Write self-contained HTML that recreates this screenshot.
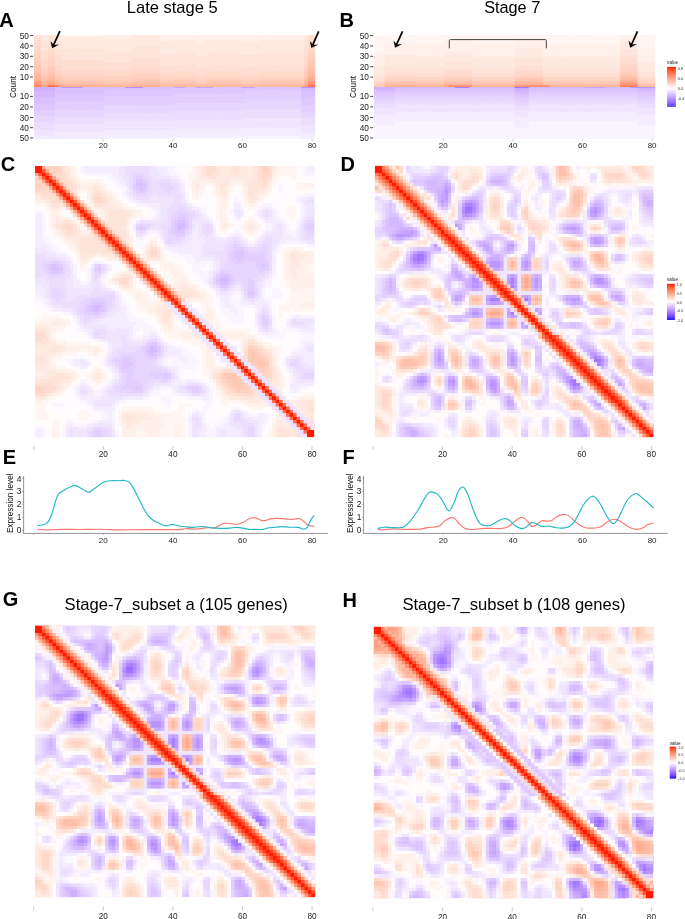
<!DOCTYPE html>
<html><head><meta charset="utf-8"><style>
html,body{margin:0;padding:0;background:#fff;width:685px;height:919px;overflow:hidden}
body{position:relative;font-family:"Liberation Sans",sans-serif}
svg{position:absolute;left:0;top:0}
canvas{display:block}
</style></head><body>
<svg width="685" height="919" style="position:absolute;left:0;top:0"><path fill="#ff8764" d="M35.0 166.0h14.3v13.9h-14.3zM49.0 179.6h14.3v13.9h-14.3zM62.9 193.1h14.3v13.9h-14.3zM76.9 206.7h14.3v13.9h-14.3zM90.8 220.2h14.3v13.9h-14.3zM104.8 233.8h14.3v13.9h-14.3zM118.8 247.3h14.3v13.9h-14.3zM132.7 260.9h14.3v13.9h-14.3zM146.7 274.4h14.3v13.9h-14.3zM160.6 287.9h14.3v13.9h-14.3zM541.9 328.5h14.2v13.9h-14.2zM625.5 409.9h14.2v13.9h-14.2zM639.4 423.4h14.2v13.9h-14.2zM203.0 788.4h14.3v13.9h-14.3zM287.0 869.9h14.3v13.9h-14.3zM301.0 883.4h14.3v13.9h-14.3zM443.6 694.6h14.3v13.9h-14.3zM457.6 708.2h14.3v13.9h-14.3zM625.3 871.1h14.3v13.9h-14.3zM639.3 884.7h14.3v13.9h-14.3zM307.9 81.9h7.3v5.5h-7.3z"/><path fill="#ffc4af" d="M49.0 166.0h14.3v13.9h-14.3zM35.0 179.6h14.3v13.9h-14.3zM174.6 301.5h14.3v13.9h-14.3zM188.6 315.1h14.3v13.9h-14.3zM202.5 328.6h14.3v13.9h-14.3zM216.5 342.1h14.3v13.9h-14.3zM230.4 355.7h14.3v13.9h-14.3zM244.4 369.2h14.3v13.9h-14.3zM258.4 382.8h14.3v13.9h-14.3zM272.3 396.4h14.3v13.9h-14.3zM286.3 409.9h14.3v13.9h-14.3zM416.7 192.9h14.2v13.9h-14.2zM569.8 192.9h14.2v13.9h-14.2zM402.7 355.6h14.2v13.9h-14.2zM231.0 652.6h14.3v13.9h-14.3zM63.0 815.5h14.3v13.9h-14.3zM401.7 640.3h14.3v13.9h-14.3zM387.7 653.9h14.3v13.9h-14.3zM639.3 844.0h14.3v13.9h-14.3zM597.4 884.7h14.3v13.9h-14.3zM307.9 61.2h7.3v5.5h-7.3zM34.2 66.3h7.3v5.5h-7.3zM307.9 66.3h7.3v5.5h-7.3zM48.2 71.5h7.3v5.5h-7.3zM41.2 76.7h7.3v5.5h-7.3zM55.3 76.7h7.3v5.5h-7.3zM300.9 76.7h7.3v5.5h-7.3zM104.4 81.9h7.3v5.5h-7.3zM111.4 81.9h7.3v5.5h-7.3zM118.4 81.9h7.3v5.5h-7.3zM125.4 81.9h7.3v5.5h-7.3zM160.5 81.9h7.3v5.5h-7.3zM167.5 81.9h7.3v5.5h-7.3zM174.6 81.9h7.3v5.5h-7.3zM181.6 81.9h7.3v5.5h-7.3zM188.6 81.9h7.3v5.5h-7.3zM195.6 81.9h7.3v5.5h-7.3zM202.6 81.9h7.3v5.5h-7.3zM209.6 81.9h7.3v5.5h-7.3zM216.7 81.9h7.3v5.5h-7.3zM223.7 81.9h7.3v5.5h-7.3zM230.7 81.9h7.3v5.5h-7.3zM237.7 81.9h7.3v5.5h-7.3zM244.7 81.9h7.3v5.5h-7.3zM251.7 81.9h7.3v5.5h-7.3zM258.8 81.9h7.3v5.5h-7.3zM265.8 81.9h7.3v5.5h-7.3zM272.8 81.9h7.3v5.5h-7.3zM279.8 81.9h7.3v5.5h-7.3zM286.8 81.9h7.3v5.5h-7.3zM293.8 81.9h7.3v5.5h-7.3zM514.6 76.7h7.3v5.5h-7.3zM521.6 76.7h7.3v5.5h-7.3zM528.6 76.7h7.3v5.5h-7.3zM535.7 76.7h7.3v5.5h-7.3zM633.9 76.7h7.3v5.5h-7.3zM381.2 81.9h7.3v5.5h-7.3zM416.3 81.9h7.3v5.5h-7.3zM423.3 81.9h7.3v5.5h-7.3zM430.4 81.9h7.3v5.5h-7.3zM437.4 81.9h7.3v5.5h-7.3zM472.5 81.9h7.3v5.5h-7.3zM479.5 81.9h7.3v5.5h-7.3zM486.5 81.9h7.3v5.5h-7.3zM493.5 81.9h7.3v5.5h-7.3zM500.6 81.9h7.3v5.5h-7.3zM507.6 81.9h7.3v5.5h-7.3zM549.7 81.9h7.3v5.5h-7.3zM556.7 81.9h7.3v5.5h-7.3zM563.7 81.9h7.3v5.5h-7.3zM570.8 81.9h7.3v5.5h-7.3zM577.8 81.9h7.3v5.5h-7.3zM584.8 81.9h7.3v5.5h-7.3zM591.8 81.9h7.3v5.5h-7.3zM598.8 81.9h7.3v5.5h-7.3zM605.9 81.9h7.3v5.5h-7.3zM612.9 81.9h7.3v5.5h-7.3zM641.0 81.9h7.3v5.5h-7.3zM648.0 81.9h7.3v5.5h-7.3z"/><path fill="#ffe8df" d="M62.9 166.0h14.3v13.9h-14.3zM202.5 166.0h14.3v13.9h-14.3zM216.5 166.0h14.3v13.9h-14.3zM230.4 166.0h14.3v13.9h-14.3zM244.4 166.0h14.3v13.9h-14.3zM90.8 179.6h14.3v13.9h-14.3zM216.5 179.6h14.3v13.9h-14.3zM244.4 179.6h14.3v13.9h-14.3zM258.4 179.6h14.3v13.9h-14.3zM35.0 193.1h14.3v13.9h-14.3zM104.8 193.1h14.3v13.9h-14.3zM104.8 206.7h14.3v13.9h-14.3zM118.8 206.7h14.3v13.9h-14.3zM49.0 220.2h14.3v13.9h-14.3zM118.8 220.2h14.3v13.9h-14.3zM62.9 233.8h14.3v13.9h-14.3zM76.9 233.8h14.3v13.9h-14.3zM76.9 247.3h14.3v13.9h-14.3zM90.8 247.3h14.3v13.9h-14.3zM146.7 247.3h14.3v13.9h-14.3zM286.3 247.3h14.3v13.9h-14.3zM286.3 260.9h14.3v13.9h-14.3zM118.8 274.4h14.3v13.9h-14.3zM188.6 287.9h14.3v13.9h-14.3zM160.6 315.1h14.3v13.9h-14.3zM35.0 328.6h14.3v13.9h-14.3zM35.0 342.1h14.3v13.9h-14.3zM49.0 342.1h14.3v13.9h-14.3zM258.4 342.1h14.3v13.9h-14.3zM35.0 355.7h14.3v13.9h-14.3zM35.0 369.2h14.3v13.9h-14.3zM49.0 369.2h14.3v13.9h-14.3zM258.4 369.2h14.3v13.9h-14.3zM49.0 382.8h14.3v13.9h-14.3zM216.5 382.8h14.3v13.9h-14.3zM244.4 382.8h14.3v13.9h-14.3zM300.2 396.4h14.3v13.9h-14.3zM118.8 409.9h14.3v13.9h-14.3zM132.7 409.9h14.3v13.9h-14.3zM272.3 423.4h14.3v13.9h-14.3zM458.4 165.8h14.2v13.9h-14.2zM597.6 165.8h14.2v13.9h-14.2zM625.5 165.8h14.2v13.9h-14.2zM458.4 179.4h14.2v13.9h-14.2zM569.8 179.4h14.2v13.9h-14.2zM486.3 192.9h14.2v13.9h-14.2zM486.3 206.5h14.2v13.9h-14.2zM555.9 206.5h14.2v13.9h-14.2zM430.6 233.6h14.2v13.9h-14.2zM555.9 233.6h14.2v13.9h-14.2zM569.8 233.6h14.2v13.9h-14.2zM374.9 247.2h14.2v13.9h-14.2zM388.8 247.2h14.2v13.9h-14.2zM472.3 247.2h14.2v13.9h-14.2zM583.7 247.2h14.2v13.9h-14.2zM639.4 247.2h14.2v13.9h-14.2zM458.4 260.7h14.2v13.9h-14.2zM597.6 260.7h14.2v13.9h-14.2zM639.4 260.7h14.2v13.9h-14.2zM402.7 274.3h14.2v13.9h-14.2zM416.7 274.3h14.2v13.9h-14.2zM514.1 287.8h14.2v13.9h-14.2zM583.7 287.8h14.2v13.9h-14.2zM416.7 342.1h14.2v13.9h-14.2zM444.5 342.1h14.2v13.9h-14.2zM569.8 342.1h14.2v13.9h-14.2zM639.4 342.1h14.2v13.9h-14.2zM388.8 355.6h14.2v13.9h-14.2zM444.5 355.6h14.2v13.9h-14.2zM555.9 355.6h14.2v13.9h-14.2zM583.7 355.6h14.2v13.9h-14.2zM458.4 369.2h14.2v13.9h-14.2zM500.2 369.2h14.2v13.9h-14.2zM569.8 369.2h14.2v13.9h-14.2zM625.5 369.2h14.2v13.9h-14.2zM374.9 382.8h14.2v13.9h-14.2zM472.3 382.8h14.2v13.9h-14.2zM611.5 382.8h14.2v13.9h-14.2zM597.6 396.3h14.2v13.9h-14.2zM625.5 396.3h14.2v13.9h-14.2zM374.9 409.9h14.2v13.9h-14.2zM583.7 409.9h14.2v13.9h-14.2zM611.5 409.9h14.2v13.9h-14.2zM639.4 409.9h14.2v13.9h-14.2zM458.4 423.4h14.2v13.9h-14.2zM472.3 423.4h14.2v13.9h-14.2zM555.9 423.4h14.2v13.9h-14.2zM625.5 423.4h14.2v13.9h-14.2zM119.0 625.5h14.3v13.9h-14.3zM259.0 625.5h14.3v13.9h-14.3zM287.0 625.5h14.3v13.9h-14.3zM119.0 639.1h14.3v13.9h-14.3zM231.0 639.1h14.3v13.9h-14.3zM147.0 652.6h14.3v13.9h-14.3zM147.0 666.2h14.3v13.9h-14.3zM217.0 666.2h14.3v13.9h-14.3zM91.0 693.4h14.3v13.9h-14.3zM217.0 693.4h14.3v13.9h-14.3zM231.0 693.4h14.3v13.9h-14.3zM35.0 707.0h14.3v13.9h-14.3zM49.0 707.0h14.3v13.9h-14.3zM133.0 707.0h14.3v13.9h-14.3zM245.0 707.0h14.3v13.9h-14.3zM301.0 707.0h14.3v13.9h-14.3zM119.0 720.5h14.3v13.9h-14.3zM259.0 720.5h14.3v13.9h-14.3zM301.0 720.5h14.3v13.9h-14.3zM63.0 734.1h14.3v13.9h-14.3zM77.0 734.1h14.3v13.9h-14.3zM175.0 747.7h14.3v13.9h-14.3zM245.0 747.7h14.3v13.9h-14.3zM77.0 802.0h14.3v13.9h-14.3zM105.0 802.0h14.3v13.9h-14.3zM231.0 802.0h14.3v13.9h-14.3zM301.0 802.0h14.3v13.9h-14.3zM49.0 815.5h14.3v13.9h-14.3zM105.0 815.5h14.3v13.9h-14.3zM217.0 815.5h14.3v13.9h-14.3zM245.0 815.5h14.3v13.9h-14.3zM119.0 829.1h14.3v13.9h-14.3zM161.0 829.1h14.3v13.9h-14.3zM231.0 829.1h14.3v13.9h-14.3zM287.0 829.1h14.3v13.9h-14.3zM35.0 842.7h14.3v13.9h-14.3zM133.0 842.7h14.3v13.9h-14.3zM273.0 842.7h14.3v13.9h-14.3zM259.0 856.3h14.3v13.9h-14.3zM287.0 856.3h14.3v13.9h-14.3zM35.0 869.9h14.3v13.9h-14.3zM245.0 869.9h14.3v13.9h-14.3zM273.0 869.9h14.3v13.9h-14.3zM301.0 869.9h14.3v13.9h-14.3zM119.0 883.4h14.3v13.9h-14.3zM133.0 883.4h14.3v13.9h-14.3zM217.0 883.4h14.3v13.9h-14.3zM287.0 883.4h14.3v13.9h-14.3zM401.7 626.7h14.3v13.9h-14.3zM471.6 640.3h14.3v13.9h-14.3zM373.7 653.9h14.3v13.9h-14.3zM569.4 653.9h14.3v13.9h-14.3zM569.4 667.4h14.3v13.9h-14.3zM443.6 681.0h14.3v13.9h-14.3zM499.5 681.0h14.3v13.9h-14.3zM457.6 694.6h14.3v13.9h-14.3zM569.4 694.6h14.3v13.9h-14.3zM443.6 708.2h14.3v13.9h-14.3zM387.7 721.8h14.3v13.9h-14.3zM639.3 721.8h14.3v13.9h-14.3zM569.4 735.3h14.3v13.9h-14.3zM429.6 748.9h14.3v13.9h-14.3zM597.4 776.1h14.3v13.9h-14.3zM569.4 803.2h14.3v13.9h-14.3zM639.3 803.2h14.3v13.9h-14.3zM401.7 816.8h14.3v13.9h-14.3zM415.6 816.8h14.3v13.9h-14.3zM443.6 816.8h14.3v13.9h-14.3zM485.5 816.8h14.3v13.9h-14.3zM555.4 816.8h14.3v13.9h-14.3zM527.5 844.0h14.3v13.9h-14.3zM471.6 884.7h14.3v13.9h-14.3zM555.4 884.7h14.3v13.9h-14.3zM34.2 35.3h7.3v5.5h-7.3zM41.2 35.3h7.3v5.5h-7.3zM48.2 35.3h7.3v5.5h-7.3zM55.3 35.3h7.3v5.5h-7.3zM62.3 35.3h7.3v5.5h-7.3zM69.3 35.3h7.3v5.5h-7.3zM76.3 35.3h7.3v5.5h-7.3zM83.3 35.3h7.3v5.5h-7.3zM90.3 35.3h7.3v5.5h-7.3zM97.4 35.3h7.3v5.5h-7.3zM132.4 35.3h7.3v5.5h-7.3zM139.5 35.3h7.3v5.5h-7.3zM146.5 35.3h7.3v5.5h-7.3zM153.5 35.3h7.3v5.5h-7.3zM300.9 35.3h7.3v5.5h-7.3zM41.2 40.5h7.3v5.5h-7.3zM48.2 40.5h7.3v5.5h-7.3zM55.3 40.5h7.3v5.5h-7.3zM62.3 40.5h7.3v5.5h-7.3zM69.3 40.5h7.3v5.5h-7.3zM76.3 40.5h7.3v5.5h-7.3zM83.3 40.5h7.3v5.5h-7.3zM90.3 40.5h7.3v5.5h-7.3zM97.4 40.5h7.3v5.5h-7.3zM104.4 40.5h7.3v5.5h-7.3zM111.4 40.5h7.3v5.5h-7.3zM118.4 40.5h7.3v5.5h-7.3zM125.4 40.5h7.3v5.5h-7.3zM132.4 40.5h7.3v5.5h-7.3zM139.5 40.5h7.3v5.5h-7.3zM146.5 40.5h7.3v5.5h-7.3zM153.5 40.5h7.3v5.5h-7.3zM160.5 40.5h7.3v5.5h-7.3zM167.5 40.5h7.3v5.5h-7.3zM174.6 40.5h7.3v5.5h-7.3zM181.6 40.5h7.3v5.5h-7.3zM188.6 40.5h7.3v5.5h-7.3zM195.6 40.5h7.3v5.5h-7.3zM202.6 40.5h7.3v5.5h-7.3zM209.6 40.5h7.3v5.5h-7.3zM216.7 40.5h7.3v5.5h-7.3zM223.7 40.5h7.3v5.5h-7.3zM230.7 40.5h7.3v5.5h-7.3zM237.7 40.5h7.3v5.5h-7.3zM244.7 40.5h7.3v5.5h-7.3zM251.7 40.5h7.3v5.5h-7.3zM258.8 40.5h7.3v5.5h-7.3zM265.8 40.5h7.3v5.5h-7.3zM272.8 40.5h7.3v5.5h-7.3zM279.8 40.5h7.3v5.5h-7.3zM286.8 40.5h7.3v5.5h-7.3zM293.8 40.5h7.3v5.5h-7.3zM300.9 40.5h7.3v5.5h-7.3zM41.2 45.6h7.3v5.5h-7.3zM55.3 45.6h7.3v5.5h-7.3zM62.3 45.6h7.3v5.5h-7.3zM69.3 45.6h7.3v5.5h-7.3zM76.3 45.6h7.3v5.5h-7.3zM83.3 45.6h7.3v5.5h-7.3zM90.3 45.6h7.3v5.5h-7.3zM97.4 45.6h7.3v5.5h-7.3zM104.4 45.6h7.3v5.5h-7.3zM111.4 45.6h7.3v5.5h-7.3zM118.4 45.6h7.3v5.5h-7.3zM125.4 45.6h7.3v5.5h-7.3zM132.4 45.6h7.3v5.5h-7.3zM139.5 45.6h7.3v5.5h-7.3zM146.5 45.6h7.3v5.5h-7.3zM153.5 45.6h7.3v5.5h-7.3zM160.5 45.6h7.3v5.5h-7.3zM167.5 45.6h7.3v5.5h-7.3zM174.6 45.6h7.3v5.5h-7.3zM181.6 45.6h7.3v5.5h-7.3zM188.6 45.6h7.3v5.5h-7.3zM195.6 45.6h7.3v5.5h-7.3zM202.6 45.6h7.3v5.5h-7.3zM209.6 45.6h7.3v5.5h-7.3zM216.7 45.6h7.3v5.5h-7.3zM223.7 45.6h7.3v5.5h-7.3zM230.7 45.6h7.3v5.5h-7.3zM237.7 45.6h7.3v5.5h-7.3zM244.7 45.6h7.3v5.5h-7.3zM251.7 45.6h7.3v5.5h-7.3zM258.8 45.6h7.3v5.5h-7.3zM265.8 45.6h7.3v5.5h-7.3zM272.8 45.6h7.3v5.5h-7.3zM279.8 45.6h7.3v5.5h-7.3zM286.8 45.6h7.3v5.5h-7.3zM293.8 45.6h7.3v5.5h-7.3zM300.9 45.6h7.3v5.5h-7.3zM55.3 50.8h7.3v5.5h-7.3zM62.3 50.8h7.3v5.5h-7.3zM69.3 50.8h7.3v5.5h-7.3zM76.3 50.8h7.3v5.5h-7.3zM83.3 50.8h7.3v5.5h-7.3zM90.3 50.8h7.3v5.5h-7.3zM97.4 50.8h7.3v5.5h-7.3zM104.4 50.8h7.3v5.5h-7.3zM111.4 50.8h7.3v5.5h-7.3zM118.4 50.8h7.3v5.5h-7.3zM125.4 50.8h7.3v5.5h-7.3zM132.4 50.8h7.3v5.5h-7.3zM139.5 50.8h7.3v5.5h-7.3zM146.5 50.8h7.3v5.5h-7.3zM153.5 50.8h7.3v5.5h-7.3zM160.5 50.8h7.3v5.5h-7.3zM167.5 50.8h7.3v5.5h-7.3zM174.6 50.8h7.3v5.5h-7.3zM181.6 50.8h7.3v5.5h-7.3zM188.6 50.8h7.3v5.5h-7.3zM195.6 50.8h7.3v5.5h-7.3zM202.6 50.8h7.3v5.5h-7.3zM209.6 50.8h7.3v5.5h-7.3zM216.7 50.8h7.3v5.5h-7.3zM223.7 50.8h7.3v5.5h-7.3zM230.7 50.8h7.3v5.5h-7.3zM237.7 50.8h7.3v5.5h-7.3zM244.7 50.8h7.3v5.5h-7.3zM251.7 50.8h7.3v5.5h-7.3zM258.8 50.8h7.3v5.5h-7.3zM265.8 50.8h7.3v5.5h-7.3zM272.8 50.8h7.3v5.5h-7.3zM279.8 50.8h7.3v5.5h-7.3zM286.8 50.8h7.3v5.5h-7.3zM293.8 50.8h7.3v5.5h-7.3zM300.9 50.8h7.3v5.5h-7.3zM62.3 56.0h7.3v5.5h-7.3zM69.3 56.0h7.3v5.5h-7.3zM76.3 56.0h7.3v5.5h-7.3zM83.3 56.0h7.3v5.5h-7.3zM90.3 56.0h7.3v5.5h-7.3zM97.4 56.0h7.3v5.5h-7.3zM104.4 56.0h7.3v5.5h-7.3zM111.4 56.0h7.3v5.5h-7.3zM118.4 56.0h7.3v5.5h-7.3zM125.4 56.0h7.3v5.5h-7.3zM160.5 56.0h7.3v5.5h-7.3zM167.5 56.0h7.3v5.5h-7.3zM174.6 56.0h7.3v5.5h-7.3zM181.6 56.0h7.3v5.5h-7.3zM188.6 56.0h7.3v5.5h-7.3zM195.6 56.0h7.3v5.5h-7.3zM202.6 56.0h7.3v5.5h-7.3zM209.6 56.0h7.3v5.5h-7.3zM216.7 56.0h7.3v5.5h-7.3zM223.7 56.0h7.3v5.5h-7.3zM230.7 56.0h7.3v5.5h-7.3zM237.7 56.0h7.3v5.5h-7.3zM244.7 56.0h7.3v5.5h-7.3zM251.7 56.0h7.3v5.5h-7.3zM258.8 56.0h7.3v5.5h-7.3zM265.8 56.0h7.3v5.5h-7.3zM272.8 56.0h7.3v5.5h-7.3zM279.8 56.0h7.3v5.5h-7.3zM286.8 56.0h7.3v5.5h-7.3zM293.8 56.0h7.3v5.5h-7.3zM160.5 61.2h7.3v5.5h-7.3zM167.5 61.2h7.3v5.5h-7.3zM174.6 61.2h7.3v5.5h-7.3zM181.6 61.2h7.3v5.5h-7.3zM188.6 61.2h7.3v5.5h-7.3zM195.6 61.2h7.3v5.5h-7.3zM202.6 61.2h7.3v5.5h-7.3zM209.6 61.2h7.3v5.5h-7.3zM216.7 61.2h7.3v5.5h-7.3zM223.7 61.2h7.3v5.5h-7.3zM230.7 61.2h7.3v5.5h-7.3zM237.7 61.2h7.3v5.5h-7.3zM244.7 61.2h7.3v5.5h-7.3zM251.7 61.2h7.3v5.5h-7.3zM258.8 61.2h7.3v5.5h-7.3zM265.8 61.2h7.3v5.5h-7.3zM272.8 61.2h7.3v5.5h-7.3zM279.8 61.2h7.3v5.5h-7.3zM286.8 61.2h7.3v5.5h-7.3zM293.8 61.2h7.3v5.5h-7.3zM619.9 40.5h7.3v5.5h-7.3zM626.9 40.5h7.3v5.5h-7.3zM514.6 45.6h7.3v5.5h-7.3zM521.6 45.6h7.3v5.5h-7.3zM528.6 45.6h7.3v5.5h-7.3zM535.7 45.6h7.3v5.5h-7.3zM619.9 45.6h7.3v5.5h-7.3zM626.9 45.6h7.3v5.5h-7.3zM444.4 50.8h7.3v5.5h-7.3zM451.4 50.8h7.3v5.5h-7.3zM458.4 50.8h7.3v5.5h-7.3zM465.5 50.8h7.3v5.5h-7.3zM514.6 50.8h7.3v5.5h-7.3zM521.6 50.8h7.3v5.5h-7.3zM528.6 50.8h7.3v5.5h-7.3zM535.7 50.8h7.3v5.5h-7.3zM619.9 50.8h7.3v5.5h-7.3zM626.9 50.8h7.3v5.5h-7.3zM633.9 50.8h7.3v5.5h-7.3zM388.2 56.0h7.3v5.5h-7.3zM395.3 56.0h7.3v5.5h-7.3zM402.3 56.0h7.3v5.5h-7.3zM409.3 56.0h7.3v5.5h-7.3zM416.3 56.0h7.3v5.5h-7.3zM423.3 56.0h7.3v5.5h-7.3zM430.4 56.0h7.3v5.5h-7.3zM437.4 56.0h7.3v5.5h-7.3zM444.4 56.0h7.3v5.5h-7.3zM451.4 56.0h7.3v5.5h-7.3zM458.4 56.0h7.3v5.5h-7.3zM465.5 56.0h7.3v5.5h-7.3zM472.5 56.0h7.3v5.5h-7.3zM479.5 56.0h7.3v5.5h-7.3zM486.5 56.0h7.3v5.5h-7.3zM493.5 56.0h7.3v5.5h-7.3zM500.6 56.0h7.3v5.5h-7.3zM507.6 56.0h7.3v5.5h-7.3zM514.6 56.0h7.3v5.5h-7.3zM521.6 56.0h7.3v5.5h-7.3zM528.6 56.0h7.3v5.5h-7.3zM535.7 56.0h7.3v5.5h-7.3zM542.7 56.0h7.3v5.5h-7.3zM549.7 56.0h7.3v5.5h-7.3zM556.7 56.0h7.3v5.5h-7.3zM563.7 56.0h7.3v5.5h-7.3zM570.8 56.0h7.3v5.5h-7.3zM577.8 56.0h7.3v5.5h-7.3zM584.8 56.0h7.3v5.5h-7.3zM591.8 56.0h7.3v5.5h-7.3zM598.8 56.0h7.3v5.5h-7.3zM605.9 56.0h7.3v5.5h-7.3zM612.9 56.0h7.3v5.5h-7.3zM633.9 56.0h7.3v5.5h-7.3zM381.2 61.2h7.3v5.5h-7.3zM388.2 61.2h7.3v5.5h-7.3zM395.3 61.2h7.3v5.5h-7.3zM402.3 61.2h7.3v5.5h-7.3zM409.3 61.2h7.3v5.5h-7.3zM416.3 61.2h7.3v5.5h-7.3zM423.3 61.2h7.3v5.5h-7.3zM430.4 61.2h7.3v5.5h-7.3zM437.4 61.2h7.3v5.5h-7.3zM444.4 61.2h7.3v5.5h-7.3zM451.4 61.2h7.3v5.5h-7.3zM458.4 61.2h7.3v5.5h-7.3zM465.5 61.2h7.3v5.5h-7.3zM472.5 61.2h7.3v5.5h-7.3zM479.5 61.2h7.3v5.5h-7.3zM486.5 61.2h7.3v5.5h-7.3zM493.5 61.2h7.3v5.5h-7.3zM500.6 61.2h7.3v5.5h-7.3zM507.6 61.2h7.3v5.5h-7.3zM514.6 61.2h7.3v5.5h-7.3zM521.6 61.2h7.3v5.5h-7.3zM528.6 61.2h7.3v5.5h-7.3zM535.7 61.2h7.3v5.5h-7.3zM542.7 61.2h7.3v5.5h-7.3zM549.7 61.2h7.3v5.5h-7.3zM556.7 61.2h7.3v5.5h-7.3zM563.7 61.2h7.3v5.5h-7.3zM570.8 61.2h7.3v5.5h-7.3zM577.8 61.2h7.3v5.5h-7.3zM584.8 61.2h7.3v5.5h-7.3zM591.8 61.2h7.3v5.5h-7.3zM598.8 61.2h7.3v5.5h-7.3zM605.9 61.2h7.3v5.5h-7.3zM612.9 61.2h7.3v5.5h-7.3zM633.9 61.2h7.3v5.5h-7.3zM641.0 61.2h7.3v5.5h-7.3zM648.0 61.2h7.3v5.5h-7.3zM374.2 66.3h7.3v5.5h-7.3zM381.2 66.3h7.3v5.5h-7.3zM388.2 66.3h7.3v5.5h-7.3zM395.3 66.3h7.3v5.5h-7.3zM402.3 66.3h7.3v5.5h-7.3zM409.3 66.3h7.3v5.5h-7.3zM416.3 66.3h7.3v5.5h-7.3zM423.3 66.3h7.3v5.5h-7.3zM430.4 66.3h7.3v5.5h-7.3zM437.4 66.3h7.3v5.5h-7.3zM472.5 66.3h7.3v5.5h-7.3zM479.5 66.3h7.3v5.5h-7.3zM486.5 66.3h7.3v5.5h-7.3zM493.5 66.3h7.3v5.5h-7.3zM500.6 66.3h7.3v5.5h-7.3zM507.6 66.3h7.3v5.5h-7.3zM542.7 66.3h7.3v5.5h-7.3zM549.7 66.3h7.3v5.5h-7.3zM556.7 66.3h7.3v5.5h-7.3zM563.7 66.3h7.3v5.5h-7.3zM570.8 66.3h7.3v5.5h-7.3zM577.8 66.3h7.3v5.5h-7.3zM584.8 66.3h7.3v5.5h-7.3zM591.8 66.3h7.3v5.5h-7.3zM598.8 66.3h7.3v5.5h-7.3zM605.9 66.3h7.3v5.5h-7.3zM612.9 66.3h7.3v5.5h-7.3zM641.0 66.3h7.3v5.5h-7.3zM648.0 66.3h7.3v5.5h-7.3zM374.2 71.5h7.3v5.5h-7.3zM381.2 71.5h7.3v5.5h-7.3zM641.0 71.5h7.3v5.5h-7.3zM648.0 71.5h7.3v5.5h-7.3z"/><path fill="#ffffff" d="M76.9 166.0h14.3v13.9h-14.3zM174.6 166.0h14.3v13.9h-14.3zM104.8 179.6h14.3v13.9h-14.3zM272.3 179.6h14.3v13.9h-14.3zM286.3 179.6h14.3v13.9h-14.3zM118.8 193.1h14.3v13.9h-14.3zM188.6 193.1h14.3v13.9h-14.3zM202.5 193.1h14.3v13.9h-14.3zM230.4 193.1h14.3v13.9h-14.3zM258.4 193.1h14.3v13.9h-14.3zM272.3 193.1h14.3v13.9h-14.3zM286.3 193.1h14.3v13.9h-14.3zM35.0 206.7h14.3v13.9h-14.3zM132.7 206.7h14.3v13.9h-14.3zM202.5 206.7h14.3v13.9h-14.3zM244.4 206.7h14.3v13.9h-14.3zM286.3 206.7h14.3v13.9h-14.3zM230.4 220.2h14.3v13.9h-14.3zM258.4 220.2h14.3v13.9h-14.3zM49.0 233.8h14.3v13.9h-14.3zM132.7 233.8h14.3v13.9h-14.3zM62.9 247.3h14.3v13.9h-14.3zM160.6 247.3h14.3v13.9h-14.3zM272.3 247.3h14.3v13.9h-14.3zM76.9 260.9h14.3v13.9h-14.3zM104.8 260.9h14.3v13.9h-14.3zM272.3 260.9h14.3v13.9h-14.3zM188.6 274.4h14.3v13.9h-14.3zM272.3 274.4h14.3v13.9h-14.3zM118.8 287.9h14.3v13.9h-14.3zM202.5 287.9h14.3v13.9h-14.3zM272.3 287.9h14.3v13.9h-14.3zM35.0 301.5h14.3v13.9h-14.3zM188.6 301.5h14.3v13.9h-14.3zM272.3 301.5h14.3v13.9h-14.3zM62.9 315.1h14.3v13.9h-14.3zM146.7 315.1h14.3v13.9h-14.3zM174.6 315.1h14.3v13.9h-14.3zM216.5 315.1h14.3v13.9h-14.3zM230.4 315.1h14.3v13.9h-14.3zM244.4 315.1h14.3v13.9h-14.3zM272.3 315.1h14.3v13.9h-14.3zM62.9 328.6h14.3v13.9h-14.3zM76.9 328.6h14.3v13.9h-14.3zM160.6 328.6h14.3v13.9h-14.3zM286.3 328.6h14.3v13.9h-14.3zM188.6 342.1h14.3v13.9h-14.3zM230.4 342.1h14.3v13.9h-14.3zM286.3 342.1h14.3v13.9h-14.3zM62.9 355.7h14.3v13.9h-14.3zM90.8 355.7h14.3v13.9h-14.3zM188.6 355.7h14.3v13.9h-14.3zM216.5 355.7h14.3v13.9h-14.3zM272.3 355.7h14.3v13.9h-14.3zM76.9 369.2h14.3v13.9h-14.3zM188.6 369.2h14.3v13.9h-14.3zM62.9 382.8h14.3v13.9h-14.3zM90.8 382.8h14.3v13.9h-14.3zM300.2 382.8h14.3v13.9h-14.3zM49.0 396.4h14.3v13.9h-14.3zM62.9 396.4h14.3v13.9h-14.3zM118.8 396.4h14.3v13.9h-14.3zM132.7 396.4h14.3v13.9h-14.3zM146.7 396.4h14.3v13.9h-14.3zM160.6 396.4h14.3v13.9h-14.3zM174.6 396.4h14.3v13.9h-14.3zM188.6 396.4h14.3v13.9h-14.3zM230.4 396.4h14.3v13.9h-14.3zM49.0 409.9h14.3v13.9h-14.3zM62.9 409.9h14.3v13.9h-14.3zM76.9 409.9h14.3v13.9h-14.3zM202.5 409.9h14.3v13.9h-14.3zM216.5 409.9h14.3v13.9h-14.3zM258.4 423.4h14.3v13.9h-14.3zM444.5 165.8h14.2v13.9h-14.2zM583.7 165.8h14.2v13.9h-14.2zM472.3 179.4h14.2v13.9h-14.2zM514.1 179.4h14.2v13.9h-14.2zM528.0 179.4h14.2v13.9h-14.2zM583.7 179.4h14.2v13.9h-14.2zM597.6 179.4h14.2v13.9h-14.2zM611.5 179.4h14.2v13.9h-14.2zM625.5 179.4h14.2v13.9h-14.2zM500.2 192.9h14.2v13.9h-14.2zM486.3 220.0h14.2v13.9h-14.2zM625.5 220.0h14.2v13.9h-14.2zM374.9 233.6h14.2v13.9h-14.2zM416.7 233.6h14.2v13.9h-14.2zM514.1 233.6h14.2v13.9h-14.2zM555.9 247.2h14.2v13.9h-14.2zM569.8 247.2h14.2v13.9h-14.2zM625.5 247.2h14.2v13.9h-14.2zM388.8 260.7h14.2v13.9h-14.2zM500.2 260.7h14.2v13.9h-14.2zM528.0 260.7h14.2v13.9h-14.2zM611.5 260.7h14.2v13.9h-14.2zM625.5 260.7h14.2v13.9h-14.2zM430.6 274.3h14.2v13.9h-14.2zM611.5 274.3h14.2v13.9h-14.2zM402.7 287.8h14.2v13.9h-14.2zM472.3 287.8h14.2v13.9h-14.2zM528.0 287.8h14.2v13.9h-14.2zM597.6 287.8h14.2v13.9h-14.2zM625.5 287.8h14.2v13.9h-14.2zM639.4 287.8h14.2v13.9h-14.2zM388.8 301.4h14.2v13.9h-14.2zM444.5 301.4h14.2v13.9h-14.2zM500.2 301.4h14.2v13.9h-14.2zM528.0 301.4h14.2v13.9h-14.2zM555.9 301.4h14.2v13.9h-14.2zM597.6 301.4h14.2v13.9h-14.2zM611.5 301.4h14.2v13.9h-14.2zM625.5 301.4h14.2v13.9h-14.2zM388.8 315.0h14.2v13.9h-14.2zM472.3 315.0h14.2v13.9h-14.2zM500.2 315.0h14.2v13.9h-14.2zM514.1 315.0h14.2v13.9h-14.2zM583.7 315.0h14.2v13.9h-14.2zM625.5 315.0h14.2v13.9h-14.2zM639.4 315.0h14.2v13.9h-14.2zM458.4 342.1h14.2v13.9h-14.2zM514.1 342.1h14.2v13.9h-14.2zM597.6 342.1h14.2v13.9h-14.2zM625.5 342.1h14.2v13.9h-14.2zM458.4 355.6h14.2v13.9h-14.2zM374.9 369.2h14.2v13.9h-14.2zM388.8 369.2h14.2v13.9h-14.2zM528.0 369.2h14.2v13.9h-14.2zM388.8 382.8h14.2v13.9h-14.2zM500.2 382.8h14.2v13.9h-14.2zM514.1 382.8h14.2v13.9h-14.2zM555.9 382.8h14.2v13.9h-14.2zM388.8 396.3h14.2v13.9h-14.2zM472.3 396.3h14.2v13.9h-14.2zM486.3 396.3h14.2v13.9h-14.2zM514.1 396.3h14.2v13.9h-14.2zM388.8 409.9h14.2v13.9h-14.2zM430.6 409.9h14.2v13.9h-14.2zM458.4 409.9h14.2v13.9h-14.2zM472.3 409.9h14.2v13.9h-14.2zM500.2 409.9h14.2v13.9h-14.2zM514.1 409.9h14.2v13.9h-14.2zM528.0 409.9h14.2v13.9h-14.2zM555.9 409.9h14.2v13.9h-14.2zM500.2 423.4h14.2v13.9h-14.2zM528.0 423.4h14.2v13.9h-14.2zM105.0 625.5h14.3v13.9h-14.3zM245.0 625.5h14.3v13.9h-14.3zM133.0 639.1h14.3v13.9h-14.3zM175.0 639.1h14.3v13.9h-14.3zM189.0 639.1h14.3v13.9h-14.3zM245.0 639.1h14.3v13.9h-14.3zM259.0 639.1h14.3v13.9h-14.3zM273.0 639.1h14.3v13.9h-14.3zM287.0 639.1h14.3v13.9h-14.3zM161.0 652.6h14.3v13.9h-14.3zM147.0 679.8h14.3v13.9h-14.3zM287.0 679.8h14.3v13.9h-14.3zM35.0 693.4h14.3v13.9h-14.3zM77.0 693.4h14.3v13.9h-14.3zM175.0 693.4h14.3v13.9h-14.3zM217.0 707.0h14.3v13.9h-14.3zM231.0 707.0h14.3v13.9h-14.3zM287.0 707.0h14.3v13.9h-14.3zM49.0 720.5h14.3v13.9h-14.3zM161.0 720.5h14.3v13.9h-14.3zM189.0 720.5h14.3v13.9h-14.3zM273.0 720.5h14.3v13.9h-14.3zM287.0 720.5h14.3v13.9h-14.3zM91.0 734.1h14.3v13.9h-14.3zM273.0 734.1h14.3v13.9h-14.3zM63.0 747.7h14.3v13.9h-14.3zM133.0 747.7h14.3v13.9h-14.3zM189.0 747.7h14.3v13.9h-14.3zM259.0 747.7h14.3v13.9h-14.3zM287.0 747.7h14.3v13.9h-14.3zM301.0 747.7h14.3v13.9h-14.3zM49.0 761.2h14.3v13.9h-14.3zM105.0 761.2h14.3v13.9h-14.3zM161.0 761.2h14.3v13.9h-14.3zM189.0 761.2h14.3v13.9h-14.3zM217.0 761.2h14.3v13.9h-14.3zM259.0 761.2h14.3v13.9h-14.3zM273.0 761.2h14.3v13.9h-14.3zM287.0 761.2h14.3v13.9h-14.3zM49.0 774.8h14.3v13.9h-14.3zM133.0 774.8h14.3v13.9h-14.3zM161.0 774.8h14.3v13.9h-14.3zM175.0 774.8h14.3v13.9h-14.3zM245.0 774.8h14.3v13.9h-14.3zM287.0 774.8h14.3v13.9h-14.3zM301.0 774.8h14.3v13.9h-14.3zM119.0 802.0h14.3v13.9h-14.3zM175.0 802.0h14.3v13.9h-14.3zM259.0 802.0h14.3v13.9h-14.3zM287.0 802.0h14.3v13.9h-14.3zM119.0 815.5h14.3v13.9h-14.3zM35.0 829.1h14.3v13.9h-14.3zM49.0 829.1h14.3v13.9h-14.3zM189.0 829.1h14.3v13.9h-14.3zM49.0 842.7h14.3v13.9h-14.3zM161.0 842.7h14.3v13.9h-14.3zM175.0 842.7h14.3v13.9h-14.3zM217.0 842.7h14.3v13.9h-14.3zM49.0 856.3h14.3v13.9h-14.3zM133.0 856.3h14.3v13.9h-14.3zM147.0 856.3h14.3v13.9h-14.3zM175.0 856.3h14.3v13.9h-14.3zM49.0 869.9h14.3v13.9h-14.3zM91.0 869.9h14.3v13.9h-14.3zM119.0 869.9h14.3v13.9h-14.3zM133.0 869.9h14.3v13.9h-14.3zM161.0 869.9h14.3v13.9h-14.3zM175.0 869.9h14.3v13.9h-14.3zM189.0 869.9h14.3v13.9h-14.3zM217.0 869.9h14.3v13.9h-14.3zM161.0 883.4h14.3v13.9h-14.3zM189.0 883.4h14.3v13.9h-14.3zM611.4 626.7h14.3v13.9h-14.3zM415.6 640.3h14.3v13.9h-14.3zM457.6 640.3h14.3v13.9h-14.3zM485.5 640.3h14.3v13.9h-14.3zM527.5 640.3h14.3v13.9h-14.3zM583.4 640.3h14.3v13.9h-14.3zM597.4 640.3h14.3v13.9h-14.3zM471.6 653.9h14.3v13.9h-14.3zM527.5 653.9h14.3v13.9h-14.3zM541.5 653.9h14.3v13.9h-14.3zM625.3 653.9h14.3v13.9h-14.3zM387.7 667.4h14.3v13.9h-14.3zM499.5 667.4h14.3v13.9h-14.3zM513.5 667.4h14.3v13.9h-14.3zM527.5 667.4h14.3v13.9h-14.3zM541.5 667.4h14.3v13.9h-14.3zM625.3 667.4h14.3v13.9h-14.3zM457.6 681.0h14.3v13.9h-14.3zM485.5 681.0h14.3v13.9h-14.3zM597.4 681.0h14.3v13.9h-14.3zM639.3 681.0h14.3v13.9h-14.3zM485.5 694.6h14.3v13.9h-14.3zM527.5 694.6h14.3v13.9h-14.3zM611.4 694.6h14.3v13.9h-14.3zM625.3 694.6h14.3v13.9h-14.3zM387.7 708.2h14.3v13.9h-14.3zM429.6 708.2h14.3v13.9h-14.3zM471.6 708.2h14.3v13.9h-14.3zM499.5 708.2h14.3v13.9h-14.3zM555.4 708.2h14.3v13.9h-14.3zM583.4 708.2h14.3v13.9h-14.3zM625.3 708.2h14.3v13.9h-14.3zM639.3 708.2h14.3v13.9h-14.3zM401.7 721.8h14.3v13.9h-14.3zM457.6 721.8h14.3v13.9h-14.3zM485.5 721.8h14.3v13.9h-14.3zM513.5 721.8h14.3v13.9h-14.3zM387.7 735.3h14.3v13.9h-14.3zM429.6 735.3h14.3v13.9h-14.3zM443.6 735.3h14.3v13.9h-14.3zM513.5 735.3h14.3v13.9h-14.3zM415.6 748.9h14.3v13.9h-14.3zM457.6 748.9h14.3v13.9h-14.3zM597.4 748.9h14.3v13.9h-14.3zM415.6 762.5h14.3v13.9h-14.3zM471.6 762.5h14.3v13.9h-14.3zM485.5 762.5h14.3v13.9h-14.3zM499.5 762.5h14.3v13.9h-14.3zM611.4 762.5h14.3v13.9h-14.3zM625.3 762.5h14.3v13.9h-14.3zM387.7 776.1h14.3v13.9h-14.3zM401.7 776.1h14.3v13.9h-14.3zM415.6 776.1h14.3v13.9h-14.3zM443.6 776.1h14.3v13.9h-14.3zM569.4 776.1h14.3v13.9h-14.3zM401.7 789.7h14.3v13.9h-14.3zM415.6 789.7h14.3v13.9h-14.3zM527.5 789.7h14.3v13.9h-14.3zM569.4 789.7h14.3v13.9h-14.3zM583.4 789.7h14.3v13.9h-14.3zM457.6 803.2h14.3v13.9h-14.3zM597.4 803.2h14.3v13.9h-14.3zM527.5 816.8h14.3v13.9h-14.3zM541.5 816.8h14.3v13.9h-14.3zM583.4 816.8h14.3v13.9h-14.3zM387.7 830.4h14.3v13.9h-14.3zM457.6 830.4h14.3v13.9h-14.3zM541.5 830.4h14.3v13.9h-14.3zM569.4 830.4h14.3v13.9h-14.3zM387.7 844.0h14.3v13.9h-14.3zM429.6 844.0h14.3v13.9h-14.3zM499.5 844.0h14.3v13.9h-14.3zM555.4 844.0h14.3v13.9h-14.3zM373.7 857.6h14.3v13.9h-14.3zM443.6 857.6h14.3v13.9h-14.3zM513.5 857.6h14.3v13.9h-14.3zM401.7 871.1h14.3v13.9h-14.3zM415.6 871.1h14.3v13.9h-14.3zM443.6 871.1h14.3v13.9h-14.3zM457.6 871.1h14.3v13.9h-14.3zM513.5 871.1h14.3v13.9h-14.3zM429.6 884.7h14.3v13.9h-14.3zM457.6 884.7h14.3v13.9h-14.3z"/><path fill="#f7f0ff" d="M90.8 166.0h14.3v13.9h-14.3zM104.8 166.0h14.3v13.9h-14.3zM160.6 166.0h14.3v13.9h-14.3zM300.2 166.0h14.3v13.9h-14.3zM118.8 179.6h14.3v13.9h-14.3zM174.6 179.6h14.3v13.9h-14.3zM300.2 193.1h14.3v13.9h-14.3zM146.7 206.7h14.3v13.9h-14.3zM230.4 206.7h14.3v13.9h-14.3zM258.4 206.7h14.3v13.9h-14.3zM272.3 206.7h14.3v13.9h-14.3zM35.0 220.2h14.3v13.9h-14.3zM272.3 220.2h14.3v13.9h-14.3zM286.3 220.2h14.3v13.9h-14.3zM35.0 233.8h14.3v13.9h-14.3zM188.6 233.8h14.3v13.9h-14.3zM216.5 233.8h14.3v13.9h-14.3zM244.4 233.8h14.3v13.9h-14.3zM286.3 233.8h14.3v13.9h-14.3zM49.0 247.3h14.3v13.9h-14.3zM174.6 247.3h14.3v13.9h-14.3zM188.6 247.3h14.3v13.9h-14.3zM188.6 260.9h14.3v13.9h-14.3zM202.5 260.9h14.3v13.9h-14.3zM76.9 274.4h14.3v13.9h-14.3zM202.5 274.4h14.3v13.9h-14.3zM258.4 274.4h14.3v13.9h-14.3zM35.0 287.9h14.3v13.9h-14.3zM230.4 287.9h14.3v13.9h-14.3zM258.4 287.9h14.3v13.9h-14.3zM49.0 301.5h14.3v13.9h-14.3zM118.8 301.5h14.3v13.9h-14.3zM216.5 301.5h14.3v13.9h-14.3zM230.4 301.5h14.3v13.9h-14.3zM244.4 301.5h14.3v13.9h-14.3zM104.8 315.1h14.3v13.9h-14.3zM118.8 315.1h14.3v13.9h-14.3zM132.7 315.1h14.3v13.9h-14.3zM286.3 315.1h14.3v13.9h-14.3zM132.7 328.6h14.3v13.9h-14.3zM146.7 328.6h14.3v13.9h-14.3zM258.4 328.6h14.3v13.9h-14.3zM272.3 328.6h14.3v13.9h-14.3zM300.2 328.6h14.3v13.9h-14.3zM104.8 342.1h14.3v13.9h-14.3zM174.6 342.1h14.3v13.9h-14.3zM300.2 342.1h14.3v13.9h-14.3zM76.9 355.7h14.3v13.9h-14.3zM160.6 355.7h14.3v13.9h-14.3zM174.6 355.7h14.3v13.9h-14.3zM104.8 369.2h14.3v13.9h-14.3zM174.6 369.2h14.3v13.9h-14.3zM286.3 369.2h14.3v13.9h-14.3zM76.9 382.8h14.3v13.9h-14.3zM146.7 382.8h14.3v13.9h-14.3zM160.6 382.8h14.3v13.9h-14.3zM202.5 382.8h14.3v13.9h-14.3zM286.3 382.8h14.3v13.9h-14.3zM76.9 396.4h14.3v13.9h-14.3zM90.8 396.4h14.3v13.9h-14.3zM202.5 396.4h14.3v13.9h-14.3zM90.8 409.9h14.3v13.9h-14.3zM104.8 409.9h14.3v13.9h-14.3zM188.6 409.9h14.3v13.9h-14.3zM244.4 409.9h14.3v13.9h-14.3zM258.4 409.9h14.3v13.9h-14.3zM35.0 423.4h14.3v13.9h-14.3zM62.9 423.4h14.3v13.9h-14.3zM202.5 423.4h14.3v13.9h-14.3zM216.5 423.4h14.3v13.9h-14.3zM402.7 165.8h14.2v13.9h-14.2zM528.0 165.8h14.2v13.9h-14.2zM541.9 165.8h14.2v13.9h-14.2zM639.4 179.4h14.2v13.9h-14.2zM374.9 192.9h14.2v13.9h-14.2zM514.1 192.9h14.2v13.9h-14.2zM528.0 192.9h14.2v13.9h-14.2zM541.9 192.9h14.2v13.9h-14.2zM555.9 192.9h14.2v13.9h-14.2zM583.7 192.9h14.2v13.9h-14.2zM611.5 192.9h14.2v13.9h-14.2zM625.5 192.9h14.2v13.9h-14.2zM500.2 206.5h14.2v13.9h-14.2zM541.9 206.5h14.2v13.9h-14.2zM625.5 206.5h14.2v13.9h-14.2zM472.3 220.0h14.2v13.9h-14.2zM514.1 220.0h14.2v13.9h-14.2zM597.6 220.0h14.2v13.9h-14.2zM639.4 220.0h14.2v13.9h-14.2zM528.0 233.6h14.2v13.9h-14.2zM541.9 233.6h14.2v13.9h-14.2zM625.5 233.6h14.2v13.9h-14.2zM639.4 233.6h14.2v13.9h-14.2zM514.1 247.2h14.2v13.9h-14.2zM528.0 247.2h14.2v13.9h-14.2zM541.9 247.2h14.2v13.9h-14.2zM430.6 260.7h14.2v13.9h-14.2zM486.3 260.7h14.2v13.9h-14.2zM541.9 260.7h14.2v13.9h-14.2zM583.7 260.7h14.2v13.9h-14.2zM472.3 274.3h14.2v13.9h-14.2zM500.2 274.3h14.2v13.9h-14.2zM541.9 274.3h14.2v13.9h-14.2zM416.7 287.8h14.2v13.9h-14.2zM486.3 287.8h14.2v13.9h-14.2zM541.9 287.8h14.2v13.9h-14.2zM402.7 301.4h14.2v13.9h-14.2zM430.6 301.4h14.2v13.9h-14.2zM458.4 301.4h14.2v13.9h-14.2zM541.9 301.4h14.2v13.9h-14.2zM569.8 301.4h14.2v13.9h-14.2zM583.7 301.4h14.2v13.9h-14.2zM639.4 301.4h14.2v13.9h-14.2zM374.9 315.0h14.2v13.9h-14.2zM402.7 315.0h14.2v13.9h-14.2zM444.5 315.0h14.2v13.9h-14.2zM458.4 315.0h14.2v13.9h-14.2zM569.8 315.0h14.2v13.9h-14.2zM611.5 315.0h14.2v13.9h-14.2zM374.9 328.5h14.2v13.9h-14.2zM402.7 328.5h14.2v13.9h-14.2zM416.7 328.5h14.2v13.9h-14.2zM444.5 328.5h14.2v13.9h-14.2zM458.4 328.5h14.2v13.9h-14.2zM472.3 328.5h14.2v13.9h-14.2zM486.3 328.5h14.2v13.9h-14.2zM500.2 328.5h14.2v13.9h-14.2zM514.1 328.5h14.2v13.9h-14.2zM569.8 328.5h14.2v13.9h-14.2zM597.6 328.5h14.2v13.9h-14.2zM611.5 328.5h14.2v13.9h-14.2zM625.5 328.5h14.2v13.9h-14.2zM639.4 328.5h14.2v13.9h-14.2zM402.7 342.1h14.2v13.9h-14.2zM514.1 355.6h14.2v13.9h-14.2zM528.0 355.6h14.2v13.9h-14.2zM541.9 355.6h14.2v13.9h-14.2zM402.7 369.2h14.2v13.9h-14.2zM472.3 369.2h14.2v13.9h-14.2zM514.1 369.2h14.2v13.9h-14.2zM639.4 369.2h14.2v13.9h-14.2zM430.6 382.8h14.2v13.9h-14.2zM541.9 382.8h14.2v13.9h-14.2zM402.7 396.3h14.2v13.9h-14.2zM528.0 396.3h14.2v13.9h-14.2zM541.9 396.3h14.2v13.9h-14.2zM402.7 409.9h14.2v13.9h-14.2zM416.7 409.9h14.2v13.9h-14.2zM444.5 409.9h14.2v13.9h-14.2zM541.9 409.9h14.2v13.9h-14.2zM388.8 423.4h14.2v13.9h-14.2zM430.6 423.4h14.2v13.9h-14.2zM444.5 423.4h14.2v13.9h-14.2zM514.1 423.4h14.2v13.9h-14.2zM541.9 423.4h14.2v13.9h-14.2zM583.7 423.4h14.2v13.9h-14.2zM189.0 625.5h14.3v13.9h-14.3zM203.0 625.5h14.3v13.9h-14.3zM301.0 639.1h14.3v13.9h-14.3zM175.0 652.6h14.3v13.9h-14.3zM189.0 652.6h14.3v13.9h-14.3zM203.0 652.6h14.3v13.9h-14.3zM217.0 652.6h14.3v13.9h-14.3zM245.0 652.6h14.3v13.9h-14.3zM273.0 652.6h14.3v13.9h-14.3zM287.0 652.6h14.3v13.9h-14.3zM161.0 666.2h14.3v13.9h-14.3zM203.0 666.2h14.3v13.9h-14.3zM287.0 666.2h14.3v13.9h-14.3zM133.0 679.8h14.3v13.9h-14.3zM175.0 679.8h14.3v13.9h-14.3zM259.0 679.8h14.3v13.9h-14.3zM301.0 679.8h14.3v13.9h-14.3zM189.0 693.4h14.3v13.9h-14.3zM203.0 693.4h14.3v13.9h-14.3zM287.0 693.4h14.3v13.9h-14.3zM301.0 693.4h14.3v13.9h-14.3zM175.0 707.0h14.3v13.9h-14.3zM189.0 707.0h14.3v13.9h-14.3zM203.0 707.0h14.3v13.9h-14.3zM91.0 720.5h14.3v13.9h-14.3zM147.0 720.5h14.3v13.9h-14.3zM203.0 720.5h14.3v13.9h-14.3zM245.0 720.5h14.3v13.9h-14.3zM133.0 734.1h14.3v13.9h-14.3zM161.0 734.1h14.3v13.9h-14.3zM203.0 734.1h14.3v13.9h-14.3zM77.0 747.7h14.3v13.9h-14.3zM147.0 747.7h14.3v13.9h-14.3zM203.0 747.7h14.3v13.9h-14.3zM63.0 761.2h14.3v13.9h-14.3zM91.0 761.2h14.3v13.9h-14.3zM119.0 761.2h14.3v13.9h-14.3zM203.0 761.2h14.3v13.9h-14.3zM231.0 761.2h14.3v13.9h-14.3zM245.0 761.2h14.3v13.9h-14.3zM301.0 761.2h14.3v13.9h-14.3zM35.0 774.8h14.3v13.9h-14.3zM63.0 774.8h14.3v13.9h-14.3zM105.0 774.8h14.3v13.9h-14.3zM119.0 774.8h14.3v13.9h-14.3zM231.0 774.8h14.3v13.9h-14.3zM273.0 774.8h14.3v13.9h-14.3zM35.0 788.4h14.3v13.9h-14.3zM63.0 788.4h14.3v13.9h-14.3zM77.0 788.4h14.3v13.9h-14.3zM105.0 788.4h14.3v13.9h-14.3zM119.0 788.4h14.3v13.9h-14.3zM133.0 788.4h14.3v13.9h-14.3zM147.0 788.4h14.3v13.9h-14.3zM161.0 788.4h14.3v13.9h-14.3zM175.0 788.4h14.3v13.9h-14.3zM231.0 788.4h14.3v13.9h-14.3zM259.0 788.4h14.3v13.9h-14.3zM273.0 788.4h14.3v13.9h-14.3zM287.0 788.4h14.3v13.9h-14.3zM301.0 788.4h14.3v13.9h-14.3zM63.0 802.0h14.3v13.9h-14.3zM175.0 815.5h14.3v13.9h-14.3zM189.0 815.5h14.3v13.9h-14.3zM203.0 815.5h14.3v13.9h-14.3zM63.0 829.1h14.3v13.9h-14.3zM133.0 829.1h14.3v13.9h-14.3zM175.0 829.1h14.3v13.9h-14.3zM301.0 829.1h14.3v13.9h-14.3zM91.0 842.7h14.3v13.9h-14.3zM203.0 842.7h14.3v13.9h-14.3zM63.0 856.3h14.3v13.9h-14.3zM189.0 856.3h14.3v13.9h-14.3zM203.0 856.3h14.3v13.9h-14.3zM63.0 869.9h14.3v13.9h-14.3zM77.0 869.9h14.3v13.9h-14.3zM105.0 869.9h14.3v13.9h-14.3zM203.0 869.9h14.3v13.9h-14.3zM49.0 883.4h14.3v13.9h-14.3zM91.0 883.4h14.3v13.9h-14.3zM105.0 883.4h14.3v13.9h-14.3zM175.0 883.4h14.3v13.9h-14.3zM203.0 883.4h14.3v13.9h-14.3zM245.0 883.4h14.3v13.9h-14.3zM415.6 626.7h14.3v13.9h-14.3zM457.6 626.7h14.3v13.9h-14.3zM527.5 626.7h14.3v13.9h-14.3zM541.5 626.7h14.3v13.9h-14.3zM569.4 626.7h14.3v13.9h-14.3zM499.5 640.3h14.3v13.9h-14.3zM513.5 640.3h14.3v13.9h-14.3zM541.5 640.3h14.3v13.9h-14.3zM625.3 640.3h14.3v13.9h-14.3zM639.3 640.3h14.3v13.9h-14.3zM457.6 653.9h14.3v13.9h-14.3zM485.5 653.9h14.3v13.9h-14.3zM597.4 653.9h14.3v13.9h-14.3zM373.7 667.4h14.3v13.9h-14.3zM443.6 667.4h14.3v13.9h-14.3zM457.6 667.4h14.3v13.9h-14.3zM583.4 667.4h14.3v13.9h-14.3zM611.4 667.4h14.3v13.9h-14.3zM527.5 681.0h14.3v13.9h-14.3zM555.4 681.0h14.3v13.9h-14.3zM625.3 681.0h14.3v13.9h-14.3zM415.6 694.6h14.3v13.9h-14.3zM513.5 694.6h14.3v13.9h-14.3zM639.3 694.6h14.3v13.9h-14.3zM373.7 708.2h14.3v13.9h-14.3zM401.7 708.2h14.3v13.9h-14.3zM415.6 708.2h14.3v13.9h-14.3zM513.5 708.2h14.3v13.9h-14.3zM541.5 708.2h14.3v13.9h-14.3zM611.4 708.2h14.3v13.9h-14.3zM527.5 721.8h14.3v13.9h-14.3zM541.5 721.8h14.3v13.9h-14.3zM625.3 721.8h14.3v13.9h-14.3zM401.7 735.3h14.3v13.9h-14.3zM471.6 735.3h14.3v13.9h-14.3zM499.5 735.3h14.3v13.9h-14.3zM527.5 735.3h14.3v13.9h-14.3zM541.5 735.3h14.3v13.9h-14.3zM611.4 735.3h14.3v13.9h-14.3zM387.7 748.9h14.3v13.9h-14.3zM485.5 748.9h14.3v13.9h-14.3zM583.4 748.9h14.3v13.9h-14.3zM387.7 762.5h14.3v13.9h-14.3zM443.6 762.5h14.3v13.9h-14.3zM457.6 762.5h14.3v13.9h-14.3zM527.5 762.5h14.3v13.9h-14.3zM541.5 762.5h14.3v13.9h-14.3zM555.4 762.5h14.3v13.9h-14.3zM569.4 762.5h14.3v13.9h-14.3zM583.4 762.5h14.3v13.9h-14.3zM639.3 762.5h14.3v13.9h-14.3zM373.7 776.1h14.3v13.9h-14.3zM429.6 776.1h14.3v13.9h-14.3zM471.6 776.1h14.3v13.9h-14.3zM485.5 776.1h14.3v13.9h-14.3zM513.5 776.1h14.3v13.9h-14.3zM541.5 776.1h14.3v13.9h-14.3zM611.4 776.1h14.3v13.9h-14.3zM373.7 789.7h14.3v13.9h-14.3zM387.7 789.7h14.3v13.9h-14.3zM457.6 789.7h14.3v13.9h-14.3zM471.6 789.7h14.3v13.9h-14.3zM485.5 789.7h14.3v13.9h-14.3zM513.5 789.7h14.3v13.9h-14.3zM639.3 789.7h14.3v13.9h-14.3zM429.6 803.2h14.3v13.9h-14.3zM513.5 803.2h14.3v13.9h-14.3zM373.7 816.8h14.3v13.9h-14.3zM513.5 816.8h14.3v13.9h-14.3zM625.3 816.8h14.3v13.9h-14.3zM415.6 830.4h14.3v13.9h-14.3zM499.5 830.4h14.3v13.9h-14.3zM513.5 830.4h14.3v13.9h-14.3zM639.3 830.4h14.3v13.9h-14.3zM401.7 844.0h14.3v13.9h-14.3zM415.6 857.6h14.3v13.9h-14.3zM457.6 857.6h14.3v13.9h-14.3zM485.5 857.6h14.3v13.9h-14.3zM527.5 857.6h14.3v13.9h-14.3zM387.7 871.1h14.3v13.9h-14.3zM429.6 871.1h14.3v13.9h-14.3zM471.6 871.1h14.3v13.9h-14.3zM569.4 871.1h14.3v13.9h-14.3zM387.7 884.7h14.3v13.9h-14.3zM443.6 884.7h14.3v13.9h-14.3zM513.5 884.7h14.3v13.9h-14.3zM541.5 884.7h14.3v13.9h-14.3zM583.4 884.7h14.3v13.9h-14.3zM104.4 128.4h7.3v5.5h-7.3zM111.4 128.4h7.3v5.5h-7.3zM118.4 128.4h7.3v5.5h-7.3zM125.4 128.4h7.3v5.5h-7.3zM132.4 128.4h7.3v5.5h-7.3zM139.5 128.4h7.3v5.5h-7.3zM146.5 128.4h7.3v5.5h-7.3zM153.5 128.4h7.3v5.5h-7.3zM160.5 128.4h7.3v5.5h-7.3zM167.5 128.4h7.3v5.5h-7.3zM174.6 128.4h7.3v5.5h-7.3zM181.6 128.4h7.3v5.5h-7.3zM188.6 128.4h7.3v5.5h-7.3zM195.6 128.4h7.3v5.5h-7.3zM202.6 128.4h7.3v5.5h-7.3zM209.6 128.4h7.3v5.5h-7.3zM216.7 128.4h7.3v5.5h-7.3zM223.7 128.4h7.3v5.5h-7.3zM230.7 128.4h7.3v5.5h-7.3zM237.7 128.4h7.3v5.5h-7.3zM244.7 128.4h7.3v5.5h-7.3zM251.7 128.4h7.3v5.5h-7.3zM258.8 128.4h7.3v5.5h-7.3zM265.8 128.4h7.3v5.5h-7.3zM272.8 128.4h7.3v5.5h-7.3zM279.8 128.4h7.3v5.5h-7.3zM286.8 128.4h7.3v5.5h-7.3zM293.8 128.4h7.3v5.5h-7.3zM34.2 133.6h7.3v5.5h-7.3zM41.2 133.6h7.3v5.5h-7.3zM48.2 133.6h7.3v5.5h-7.3zM55.3 133.6h7.3v5.5h-7.3zM62.3 133.6h7.3v5.5h-7.3zM69.3 133.6h7.3v5.5h-7.3zM76.3 133.6h7.3v5.5h-7.3zM83.3 133.6h7.3v5.5h-7.3zM90.3 133.6h7.3v5.5h-7.3zM97.4 133.6h7.3v5.5h-7.3zM104.4 133.6h7.3v5.5h-7.3zM111.4 133.6h7.3v5.5h-7.3zM118.4 133.6h7.3v5.5h-7.3zM125.4 133.6h7.3v5.5h-7.3zM132.4 133.6h7.3v5.5h-7.3zM139.5 133.6h7.3v5.5h-7.3zM146.5 133.6h7.3v5.5h-7.3zM153.5 133.6h7.3v5.5h-7.3zM160.5 133.6h7.3v5.5h-7.3zM167.5 133.6h7.3v5.5h-7.3zM174.6 133.6h7.3v5.5h-7.3zM181.6 133.6h7.3v5.5h-7.3zM188.6 133.6h7.3v5.5h-7.3zM195.6 133.6h7.3v5.5h-7.3zM202.6 133.6h7.3v5.5h-7.3zM209.6 133.6h7.3v5.5h-7.3zM216.7 133.6h7.3v5.5h-7.3zM223.7 133.6h7.3v5.5h-7.3zM230.7 133.6h7.3v5.5h-7.3zM237.7 133.6h7.3v5.5h-7.3zM244.7 133.6h7.3v5.5h-7.3zM251.7 133.6h7.3v5.5h-7.3zM258.8 133.6h7.3v5.5h-7.3zM265.8 133.6h7.3v5.5h-7.3zM272.8 133.6h7.3v5.5h-7.3zM279.8 133.6h7.3v5.5h-7.3zM286.8 133.6h7.3v5.5h-7.3zM293.8 133.6h7.3v5.5h-7.3zM300.9 133.6h7.3v5.5h-7.3zM307.9 133.6h7.3v5.5h-7.3zM374.2 112.9h7.3v5.5h-7.3zM381.2 112.9h7.3v5.5h-7.3zM388.2 112.9h7.3v5.5h-7.3zM395.3 112.9h7.3v5.5h-7.3zM402.3 112.9h7.3v5.5h-7.3zM409.3 112.9h7.3v5.5h-7.3zM416.3 112.9h7.3v5.5h-7.3zM423.3 112.9h7.3v5.5h-7.3zM430.4 112.9h7.3v5.5h-7.3zM437.4 112.9h7.3v5.5h-7.3zM444.4 112.9h7.3v5.5h-7.3zM451.4 112.9h7.3v5.5h-7.3zM458.4 112.9h7.3v5.5h-7.3zM465.5 112.9h7.3v5.5h-7.3zM472.5 112.9h7.3v5.5h-7.3zM479.5 112.9h7.3v5.5h-7.3zM486.5 112.9h7.3v5.5h-7.3zM493.5 112.9h7.3v5.5h-7.3zM500.6 112.9h7.3v5.5h-7.3zM507.6 112.9h7.3v5.5h-7.3zM528.6 112.9h7.3v5.5h-7.3zM535.7 112.9h7.3v5.5h-7.3zM542.7 112.9h7.3v5.5h-7.3zM549.7 112.9h7.3v5.5h-7.3zM556.7 112.9h7.3v5.5h-7.3zM563.7 112.9h7.3v5.5h-7.3zM570.8 112.9h7.3v5.5h-7.3zM577.8 112.9h7.3v5.5h-7.3zM584.8 112.9h7.3v5.5h-7.3zM591.8 112.9h7.3v5.5h-7.3zM598.8 112.9h7.3v5.5h-7.3zM605.9 112.9h7.3v5.5h-7.3zM612.9 112.9h7.3v5.5h-7.3zM619.9 112.9h7.3v5.5h-7.3zM626.9 112.9h7.3v5.5h-7.3zM633.9 112.9h7.3v5.5h-7.3zM641.0 112.9h7.3v5.5h-7.3zM648.0 112.9h7.3v5.5h-7.3zM374.2 118.1h7.3v5.5h-7.3zM381.2 118.1h7.3v5.5h-7.3zM388.2 118.1h7.3v5.5h-7.3zM395.3 118.1h7.3v5.5h-7.3zM402.3 118.1h7.3v5.5h-7.3zM409.3 118.1h7.3v5.5h-7.3zM416.3 118.1h7.3v5.5h-7.3zM423.3 118.1h7.3v5.5h-7.3zM430.4 118.1h7.3v5.5h-7.3zM437.4 118.1h7.3v5.5h-7.3zM444.4 118.1h7.3v5.5h-7.3zM451.4 118.1h7.3v5.5h-7.3zM458.4 118.1h7.3v5.5h-7.3zM465.5 118.1h7.3v5.5h-7.3zM472.5 118.1h7.3v5.5h-7.3zM479.5 118.1h7.3v5.5h-7.3zM486.5 118.1h7.3v5.5h-7.3zM493.5 118.1h7.3v5.5h-7.3zM500.6 118.1h7.3v5.5h-7.3zM507.6 118.1h7.3v5.5h-7.3zM514.6 118.1h7.3v5.5h-7.3zM521.6 118.1h7.3v5.5h-7.3zM528.6 118.1h7.3v5.5h-7.3zM535.7 118.1h7.3v5.5h-7.3zM542.7 118.1h7.3v5.5h-7.3zM549.7 118.1h7.3v5.5h-7.3zM556.7 118.1h7.3v5.5h-7.3zM563.7 118.1h7.3v5.5h-7.3zM570.8 118.1h7.3v5.5h-7.3zM577.8 118.1h7.3v5.5h-7.3zM584.8 118.1h7.3v5.5h-7.3zM591.8 118.1h7.3v5.5h-7.3zM598.8 118.1h7.3v5.5h-7.3zM605.9 118.1h7.3v5.5h-7.3zM612.9 118.1h7.3v5.5h-7.3zM619.9 118.1h7.3v5.5h-7.3zM626.9 118.1h7.3v5.5h-7.3zM633.9 118.1h7.3v5.5h-7.3zM641.0 118.1h7.3v5.5h-7.3zM648.0 118.1h7.3v5.5h-7.3zM374.2 123.3h7.3v5.5h-7.3zM381.2 123.3h7.3v5.5h-7.3zM388.2 123.3h7.3v5.5h-7.3zM395.3 123.3h7.3v5.5h-7.3zM402.3 123.3h7.3v5.5h-7.3zM409.3 123.3h7.3v5.5h-7.3zM416.3 123.3h7.3v5.5h-7.3zM423.3 123.3h7.3v5.5h-7.3zM430.4 123.3h7.3v5.5h-7.3zM437.4 123.3h7.3v5.5h-7.3zM444.4 123.3h7.3v5.5h-7.3zM451.4 123.3h7.3v5.5h-7.3zM458.4 123.3h7.3v5.5h-7.3zM465.5 123.3h7.3v5.5h-7.3zM472.5 123.3h7.3v5.5h-7.3zM479.5 123.3h7.3v5.5h-7.3zM486.5 123.3h7.3v5.5h-7.3zM493.5 123.3h7.3v5.5h-7.3zM500.6 123.3h7.3v5.5h-7.3zM507.6 123.3h7.3v5.5h-7.3zM514.6 123.3h7.3v5.5h-7.3zM521.6 123.3h7.3v5.5h-7.3zM528.6 123.3h7.3v5.5h-7.3zM535.7 123.3h7.3v5.5h-7.3zM542.7 123.3h7.3v5.5h-7.3zM549.7 123.3h7.3v5.5h-7.3zM556.7 123.3h7.3v5.5h-7.3zM563.7 123.3h7.3v5.5h-7.3zM570.8 123.3h7.3v5.5h-7.3zM577.8 123.3h7.3v5.5h-7.3zM584.8 123.3h7.3v5.5h-7.3zM591.8 123.3h7.3v5.5h-7.3zM598.8 123.3h7.3v5.5h-7.3zM605.9 123.3h7.3v5.5h-7.3zM612.9 123.3h7.3v5.5h-7.3zM619.9 123.3h7.3v5.5h-7.3zM626.9 123.3h7.3v5.5h-7.3zM633.9 123.3h7.3v5.5h-7.3zM641.0 123.3h7.3v5.5h-7.3zM648.0 123.3h7.3v5.5h-7.3zM374.2 128.4h7.3v5.5h-7.3zM381.2 128.4h7.3v5.5h-7.3zM388.2 128.4h7.3v5.5h-7.3zM395.3 128.4h7.3v5.5h-7.3zM402.3 128.4h7.3v5.5h-7.3zM409.3 128.4h7.3v5.5h-7.3zM416.3 128.4h7.3v5.5h-7.3zM423.3 128.4h7.3v5.5h-7.3zM430.4 128.4h7.3v5.5h-7.3zM437.4 128.4h7.3v5.5h-7.3zM444.4 128.4h7.3v5.5h-7.3zM451.4 128.4h7.3v5.5h-7.3zM458.4 128.4h7.3v5.5h-7.3zM465.5 128.4h7.3v5.5h-7.3zM472.5 128.4h7.3v5.5h-7.3zM479.5 128.4h7.3v5.5h-7.3zM486.5 128.4h7.3v5.5h-7.3zM493.5 128.4h7.3v5.5h-7.3zM500.6 128.4h7.3v5.5h-7.3zM507.6 128.4h7.3v5.5h-7.3zM514.6 128.4h7.3v5.5h-7.3zM521.6 128.4h7.3v5.5h-7.3zM528.6 128.4h7.3v5.5h-7.3zM535.7 128.4h7.3v5.5h-7.3zM542.7 128.4h7.3v5.5h-7.3zM549.7 128.4h7.3v5.5h-7.3zM556.7 128.4h7.3v5.5h-7.3zM563.7 128.4h7.3v5.5h-7.3zM570.8 128.4h7.3v5.5h-7.3zM577.8 128.4h7.3v5.5h-7.3zM584.8 128.4h7.3v5.5h-7.3zM591.8 128.4h7.3v5.5h-7.3zM598.8 128.4h7.3v5.5h-7.3zM605.9 128.4h7.3v5.5h-7.3zM612.9 128.4h7.3v5.5h-7.3zM619.9 128.4h7.3v5.5h-7.3zM626.9 128.4h7.3v5.5h-7.3zM633.9 128.4h7.3v5.5h-7.3zM641.0 128.4h7.3v5.5h-7.3zM648.0 128.4h7.3v5.5h-7.3zM374.2 133.6h7.3v5.5h-7.3zM381.2 133.6h7.3v5.5h-7.3zM388.2 133.6h7.3v5.5h-7.3zM395.3 133.6h7.3v5.5h-7.3zM402.3 133.6h7.3v5.5h-7.3zM409.3 133.6h7.3v5.5h-7.3zM416.3 133.6h7.3v5.5h-7.3zM423.3 133.6h7.3v5.5h-7.3zM430.4 133.6h7.3v5.5h-7.3zM437.4 133.6h7.3v5.5h-7.3zM444.4 133.6h7.3v5.5h-7.3zM451.4 133.6h7.3v5.5h-7.3zM458.4 133.6h7.3v5.5h-7.3zM465.5 133.6h7.3v5.5h-7.3zM472.5 133.6h7.3v5.5h-7.3zM479.5 133.6h7.3v5.5h-7.3zM486.5 133.6h7.3v5.5h-7.3zM493.5 133.6h7.3v5.5h-7.3zM500.6 133.6h7.3v5.5h-7.3zM507.6 133.6h7.3v5.5h-7.3zM514.6 133.6h7.3v5.5h-7.3zM521.6 133.6h7.3v5.5h-7.3zM528.6 133.6h7.3v5.5h-7.3zM535.7 133.6h7.3v5.5h-7.3zM542.7 133.6h7.3v5.5h-7.3zM549.7 133.6h7.3v5.5h-7.3zM556.7 133.6h7.3v5.5h-7.3zM563.7 133.6h7.3v5.5h-7.3zM570.8 133.6h7.3v5.5h-7.3zM577.8 133.6h7.3v5.5h-7.3zM584.8 133.6h7.3v5.5h-7.3zM591.8 133.6h7.3v5.5h-7.3zM598.8 133.6h7.3v5.5h-7.3zM605.9 133.6h7.3v5.5h-7.3zM612.9 133.6h7.3v5.5h-7.3zM619.9 133.6h7.3v5.5h-7.3zM626.9 133.6h7.3v5.5h-7.3zM633.9 133.6h7.3v5.5h-7.3zM641.0 133.6h7.3v5.5h-7.3zM648.0 133.6h7.3v5.5h-7.3z"/><path fill="#eee2ff" d="M118.8 166.0h14.3v13.9h-14.3zM146.7 166.0h14.3v13.9h-14.3zM146.7 179.6h14.3v13.9h-14.3zM132.7 193.1h14.3v13.9h-14.3zM146.7 193.1h14.3v13.9h-14.3zM160.6 193.1h14.3v13.9h-14.3zM174.6 193.1h14.3v13.9h-14.3zM160.6 206.7h14.3v13.9h-14.3zM188.6 206.7h14.3v13.9h-14.3zM300.2 206.7h14.3v13.9h-14.3zM132.7 220.2h14.3v13.9h-14.3zM146.7 220.2h14.3v13.9h-14.3zM160.6 220.2h14.3v13.9h-14.3zM188.6 220.2h14.3v13.9h-14.3zM202.5 220.2h14.3v13.9h-14.3zM160.6 233.8h14.3v13.9h-14.3zM174.6 233.8h14.3v13.9h-14.3zM202.5 233.8h14.3v13.9h-14.3zM230.4 233.8h14.3v13.9h-14.3zM258.4 233.8h14.3v13.9h-14.3zM272.3 233.8h14.3v13.9h-14.3zM300.2 233.8h14.3v13.9h-14.3zM35.0 247.3h14.3v13.9h-14.3zM202.5 247.3h14.3v13.9h-14.3zM216.5 247.3h14.3v13.9h-14.3zM62.9 260.9h14.3v13.9h-14.3zM90.8 260.9h14.3v13.9h-14.3zM35.0 274.4h14.3v13.9h-14.3zM49.0 274.4h14.3v13.9h-14.3zM62.9 274.4h14.3v13.9h-14.3zM90.8 274.4h14.3v13.9h-14.3zM62.9 287.9h14.3v13.9h-14.3zM76.9 287.9h14.3v13.9h-14.3zM90.8 287.9h14.3v13.9h-14.3zM104.8 287.9h14.3v13.9h-14.3zM216.5 287.9h14.3v13.9h-14.3zM62.9 301.5h14.3v13.9h-14.3zM104.8 301.5h14.3v13.9h-14.3zM258.4 301.5h14.3v13.9h-14.3zM76.9 315.1h14.3v13.9h-14.3zM90.8 315.1h14.3v13.9h-14.3zM300.2 315.1h14.3v13.9h-14.3zM90.8 328.6h14.3v13.9h-14.3zM104.8 328.6h14.3v13.9h-14.3zM118.8 328.6h14.3v13.9h-14.3zM118.8 342.1h14.3v13.9h-14.3zM160.6 342.1h14.3v13.9h-14.3zM104.8 355.7h14.3v13.9h-14.3zM286.3 355.7h14.3v13.9h-14.3zM300.2 355.7h14.3v13.9h-14.3zM300.2 369.2h14.3v13.9h-14.3zM104.8 382.8h14.3v13.9h-14.3zM174.6 382.8h14.3v13.9h-14.3zM104.8 396.4h14.3v13.9h-14.3zM230.4 409.9h14.3v13.9h-14.3zM76.9 423.4h14.3v13.9h-14.3zM104.8 423.4h14.3v13.9h-14.3zM188.6 423.4h14.3v13.9h-14.3zM230.4 423.4h14.3v13.9h-14.3zM244.4 423.4h14.3v13.9h-14.3zM416.7 165.8h14.2v13.9h-14.2zM486.3 165.8h14.2v13.9h-14.2zM486.3 179.4h14.2v13.9h-14.2zM500.2 179.4h14.2v13.9h-14.2zM541.9 179.4h14.2v13.9h-14.2zM444.5 192.9h14.2v13.9h-14.2zM374.9 206.5h14.2v13.9h-14.2zM458.4 220.0h14.2v13.9h-14.2zM402.7 233.6h14.2v13.9h-14.2zM430.6 247.2h14.2v13.9h-14.2zM611.5 247.2h14.2v13.9h-14.2zM514.1 260.7h14.2v13.9h-14.2zM374.9 274.3h14.2v13.9h-14.2zM388.8 274.3h14.2v13.9h-14.2zM625.5 274.3h14.2v13.9h-14.2zM388.8 287.8h14.2v13.9h-14.2zM555.9 287.8h14.2v13.9h-14.2zM472.3 301.4h14.2v13.9h-14.2zM555.9 315.0h14.2v13.9h-14.2zM388.8 328.5h14.2v13.9h-14.2zM583.7 328.5h14.2v13.9h-14.2zM500.2 342.1h14.2v13.9h-14.2zM528.0 342.1h14.2v13.9h-14.2zM625.5 355.6h14.2v13.9h-14.2zM541.9 369.2h14.2v13.9h-14.2zM611.5 369.2h14.2v13.9h-14.2zM458.4 396.3h14.2v13.9h-14.2zM583.7 396.3h14.2v13.9h-14.2zM639.4 396.3h14.2v13.9h-14.2zM486.3 409.9h14.2v13.9h-14.2zM569.8 409.9h14.2v13.9h-14.2zM611.5 423.4h14.2v13.9h-14.2zM63.0 625.5h14.3v13.9h-14.3zM77.0 625.5h14.3v13.9h-14.3zM147.0 625.5h14.3v13.9h-14.3zM147.0 639.1h14.3v13.9h-14.3zM161.0 639.1h14.3v13.9h-14.3zM203.0 639.1h14.3v13.9h-14.3zM35.0 652.6h14.3v13.9h-14.3zM105.0 652.6h14.3v13.9h-14.3zM35.0 666.2h14.3v13.9h-14.3zM119.0 679.8h14.3v13.9h-14.3zM63.0 693.4h14.3v13.9h-14.3zM91.0 707.0h14.3v13.9h-14.3zM273.0 707.0h14.3v13.9h-14.3zM175.0 720.5h14.3v13.9h-14.3zM35.0 734.1h14.3v13.9h-14.3zM49.0 734.1h14.3v13.9h-14.3zM287.0 734.1h14.3v13.9h-14.3zM49.0 747.7h14.3v13.9h-14.3zM217.0 747.7h14.3v13.9h-14.3zM133.0 761.2h14.3v13.9h-14.3zM217.0 774.8h14.3v13.9h-14.3zM49.0 788.4h14.3v13.9h-14.3zM245.0 788.4h14.3v13.9h-14.3zM161.0 802.0h14.3v13.9h-14.3zM189.0 802.0h14.3v13.9h-14.3zM287.0 815.5h14.3v13.9h-14.3zM203.0 829.1h14.3v13.9h-14.3zM273.0 829.1h14.3v13.9h-14.3zM119.0 856.3h14.3v13.9h-14.3zM245.0 856.3h14.3v13.9h-14.3zM301.0 856.3h14.3v13.9h-14.3zM147.0 869.9h14.3v13.9h-14.3zM231.0 869.9h14.3v13.9h-14.3zM273.0 883.4h14.3v13.9h-14.3zM429.6 626.7h14.3v13.9h-14.3zM485.5 626.7h14.3v13.9h-14.3zM513.5 626.7h14.3v13.9h-14.3zM499.5 653.9h14.3v13.9h-14.3zM513.5 653.9h14.3v13.9h-14.3zM583.4 653.9h14.3v13.9h-14.3zM639.3 653.9h14.3v13.9h-14.3zM471.6 667.4h14.3v13.9h-14.3zM597.4 667.4h14.3v13.9h-14.3zM639.3 667.4h14.3v13.9h-14.3zM373.7 681.0h14.3v13.9h-14.3zM471.6 681.0h14.3v13.9h-14.3zM611.4 681.0h14.3v13.9h-14.3zM499.5 694.6h14.3v13.9h-14.3zM541.5 694.6h14.3v13.9h-14.3zM555.4 694.6h14.3v13.9h-14.3zM583.4 694.6h14.3v13.9h-14.3zM485.5 708.2h14.3v13.9h-14.3zM527.5 708.2h14.3v13.9h-14.3zM569.4 708.2h14.3v13.9h-14.3zM415.6 721.8h14.3v13.9h-14.3zM429.6 721.8h14.3v13.9h-14.3zM499.5 721.8h14.3v13.9h-14.3zM569.4 721.8h14.3v13.9h-14.3zM373.7 735.3h14.3v13.9h-14.3zM457.6 735.3h14.3v13.9h-14.3zM555.4 735.3h14.3v13.9h-14.3zM625.3 735.3h14.3v13.9h-14.3zM639.3 735.3h14.3v13.9h-14.3zM401.7 748.9h14.3v13.9h-14.3zM443.6 748.9h14.3v13.9h-14.3zM471.6 748.9h14.3v13.9h-14.3zM541.5 748.9h14.3v13.9h-14.3zM373.7 762.5h14.3v13.9h-14.3zM401.7 762.5h14.3v13.9h-14.3zM597.4 762.5h14.3v13.9h-14.3zM457.6 776.1h14.3v13.9h-14.3zM555.4 776.1h14.3v13.9h-14.3zM639.3 776.1h14.3v13.9h-14.3zM443.6 789.7h14.3v13.9h-14.3zM499.5 789.7h14.3v13.9h-14.3zM597.4 789.7h14.3v13.9h-14.3zM611.4 789.7h14.3v13.9h-14.3zM443.6 803.2h14.3v13.9h-14.3zM485.5 803.2h14.3v13.9h-14.3zM527.5 803.2h14.3v13.9h-14.3zM583.4 803.2h14.3v13.9h-14.3zM457.6 816.8h14.3v13.9h-14.3zM471.6 816.8h14.3v13.9h-14.3zM401.7 830.4h14.3v13.9h-14.3zM443.6 830.4h14.3v13.9h-14.3zM555.4 830.4h14.3v13.9h-14.3zM611.4 830.4h14.3v13.9h-14.3zM415.6 844.0h14.3v13.9h-14.3zM513.5 844.0h14.3v13.9h-14.3zM541.5 844.0h14.3v13.9h-14.3zM429.6 857.6h14.3v13.9h-14.3zM541.5 857.6h14.3v13.9h-14.3zM583.4 857.6h14.3v13.9h-14.3zM485.5 871.1h14.3v13.9h-14.3zM401.7 884.7h14.3v13.9h-14.3zM415.6 884.7h14.3v13.9h-14.3zM485.5 884.7h14.3v13.9h-14.3zM527.5 884.7h14.3v13.9h-14.3zM244.7 107.8h7.3v5.5h-7.3zM251.7 107.8h7.3v5.5h-7.3zM258.8 107.8h7.3v5.5h-7.3zM265.8 107.8h7.3v5.5h-7.3zM272.8 107.8h7.3v5.5h-7.3zM279.8 107.8h7.3v5.5h-7.3zM286.8 107.8h7.3v5.5h-7.3zM293.8 107.8h7.3v5.5h-7.3zM104.4 112.9h7.3v5.5h-7.3zM111.4 112.9h7.3v5.5h-7.3zM118.4 112.9h7.3v5.5h-7.3zM125.4 112.9h7.3v5.5h-7.3zM132.4 112.9h7.3v5.5h-7.3zM139.5 112.9h7.3v5.5h-7.3zM146.5 112.9h7.3v5.5h-7.3zM153.5 112.9h7.3v5.5h-7.3zM160.5 112.9h7.3v5.5h-7.3zM167.5 112.9h7.3v5.5h-7.3zM174.6 112.9h7.3v5.5h-7.3zM181.6 112.9h7.3v5.5h-7.3zM188.6 112.9h7.3v5.5h-7.3zM195.6 112.9h7.3v5.5h-7.3zM202.6 112.9h7.3v5.5h-7.3zM209.6 112.9h7.3v5.5h-7.3zM216.7 112.9h7.3v5.5h-7.3zM223.7 112.9h7.3v5.5h-7.3zM230.7 112.9h7.3v5.5h-7.3zM237.7 112.9h7.3v5.5h-7.3zM244.7 112.9h7.3v5.5h-7.3zM251.7 112.9h7.3v5.5h-7.3zM258.8 112.9h7.3v5.5h-7.3zM265.8 112.9h7.3v5.5h-7.3zM272.8 112.9h7.3v5.5h-7.3zM279.8 112.9h7.3v5.5h-7.3zM286.8 112.9h7.3v5.5h-7.3zM293.8 112.9h7.3v5.5h-7.3zM55.3 118.1h7.3v5.5h-7.3zM62.3 118.1h7.3v5.5h-7.3zM69.3 118.1h7.3v5.5h-7.3zM76.3 118.1h7.3v5.5h-7.3zM83.3 118.1h7.3v5.5h-7.3zM90.3 118.1h7.3v5.5h-7.3zM97.4 118.1h7.3v5.5h-7.3zM104.4 118.1h7.3v5.5h-7.3zM111.4 118.1h7.3v5.5h-7.3zM118.4 118.1h7.3v5.5h-7.3zM125.4 118.1h7.3v5.5h-7.3zM132.4 118.1h7.3v5.5h-7.3zM139.5 118.1h7.3v5.5h-7.3zM146.5 118.1h7.3v5.5h-7.3zM153.5 118.1h7.3v5.5h-7.3zM160.5 118.1h7.3v5.5h-7.3zM167.5 118.1h7.3v5.5h-7.3zM174.6 118.1h7.3v5.5h-7.3zM181.6 118.1h7.3v5.5h-7.3zM188.6 118.1h7.3v5.5h-7.3zM195.6 118.1h7.3v5.5h-7.3zM202.6 118.1h7.3v5.5h-7.3zM209.6 118.1h7.3v5.5h-7.3zM216.7 118.1h7.3v5.5h-7.3zM223.7 118.1h7.3v5.5h-7.3zM230.7 118.1h7.3v5.5h-7.3zM237.7 118.1h7.3v5.5h-7.3zM244.7 118.1h7.3v5.5h-7.3zM251.7 118.1h7.3v5.5h-7.3zM258.8 118.1h7.3v5.5h-7.3zM265.8 118.1h7.3v5.5h-7.3zM272.8 118.1h7.3v5.5h-7.3zM279.8 118.1h7.3v5.5h-7.3zM286.8 118.1h7.3v5.5h-7.3zM293.8 118.1h7.3v5.5h-7.3zM300.9 118.1h7.3v5.5h-7.3zM307.9 118.1h7.3v5.5h-7.3zM34.2 123.3h7.3v5.5h-7.3zM41.2 123.3h7.3v5.5h-7.3zM48.2 123.3h7.3v5.5h-7.3zM55.3 123.3h7.3v5.5h-7.3zM62.3 123.3h7.3v5.5h-7.3zM69.3 123.3h7.3v5.5h-7.3zM76.3 123.3h7.3v5.5h-7.3zM83.3 123.3h7.3v5.5h-7.3zM90.3 123.3h7.3v5.5h-7.3zM97.4 123.3h7.3v5.5h-7.3zM104.4 123.3h7.3v5.5h-7.3zM111.4 123.3h7.3v5.5h-7.3zM118.4 123.3h7.3v5.5h-7.3zM125.4 123.3h7.3v5.5h-7.3zM132.4 123.3h7.3v5.5h-7.3zM139.5 123.3h7.3v5.5h-7.3zM146.5 123.3h7.3v5.5h-7.3zM153.5 123.3h7.3v5.5h-7.3zM160.5 123.3h7.3v5.5h-7.3zM167.5 123.3h7.3v5.5h-7.3zM174.6 123.3h7.3v5.5h-7.3zM181.6 123.3h7.3v5.5h-7.3zM188.6 123.3h7.3v5.5h-7.3zM195.6 123.3h7.3v5.5h-7.3zM202.6 123.3h7.3v5.5h-7.3zM209.6 123.3h7.3v5.5h-7.3zM216.7 123.3h7.3v5.5h-7.3zM223.7 123.3h7.3v5.5h-7.3zM230.7 123.3h7.3v5.5h-7.3zM237.7 123.3h7.3v5.5h-7.3zM244.7 123.3h7.3v5.5h-7.3zM251.7 123.3h7.3v5.5h-7.3zM258.8 123.3h7.3v5.5h-7.3zM265.8 123.3h7.3v5.5h-7.3zM272.8 123.3h7.3v5.5h-7.3zM279.8 123.3h7.3v5.5h-7.3zM286.8 123.3h7.3v5.5h-7.3zM293.8 123.3h7.3v5.5h-7.3zM300.9 123.3h7.3v5.5h-7.3zM307.9 123.3h7.3v5.5h-7.3zM34.2 128.4h7.3v5.5h-7.3zM41.2 128.4h7.3v5.5h-7.3zM48.2 128.4h7.3v5.5h-7.3zM55.3 128.4h7.3v5.5h-7.3zM62.3 128.4h7.3v5.5h-7.3zM69.3 128.4h7.3v5.5h-7.3zM76.3 128.4h7.3v5.5h-7.3zM83.3 128.4h7.3v5.5h-7.3zM90.3 128.4h7.3v5.5h-7.3zM97.4 128.4h7.3v5.5h-7.3zM300.9 128.4h7.3v5.5h-7.3zM307.9 128.4h7.3v5.5h-7.3zM374.2 102.6h7.3v5.5h-7.3zM381.2 102.6h7.3v5.5h-7.3zM388.2 102.6h7.3v5.5h-7.3zM395.3 102.6h7.3v5.5h-7.3zM402.3 102.6h7.3v5.5h-7.3zM409.3 102.6h7.3v5.5h-7.3zM416.3 102.6h7.3v5.5h-7.3zM423.3 102.6h7.3v5.5h-7.3zM430.4 102.6h7.3v5.5h-7.3zM437.4 102.6h7.3v5.5h-7.3zM444.4 102.6h7.3v5.5h-7.3zM451.4 102.6h7.3v5.5h-7.3zM458.4 102.6h7.3v5.5h-7.3zM465.5 102.6h7.3v5.5h-7.3zM472.5 102.6h7.3v5.5h-7.3zM479.5 102.6h7.3v5.5h-7.3zM486.5 102.6h7.3v5.5h-7.3zM493.5 102.6h7.3v5.5h-7.3zM500.6 102.6h7.3v5.5h-7.3zM507.6 102.6h7.3v5.5h-7.3zM528.6 102.6h7.3v5.5h-7.3zM535.7 102.6h7.3v5.5h-7.3zM542.7 102.6h7.3v5.5h-7.3zM549.7 102.6h7.3v5.5h-7.3zM556.7 102.6h7.3v5.5h-7.3zM563.7 102.6h7.3v5.5h-7.3zM570.8 102.6h7.3v5.5h-7.3zM577.8 102.6h7.3v5.5h-7.3zM584.8 102.6h7.3v5.5h-7.3zM591.8 102.6h7.3v5.5h-7.3zM598.8 102.6h7.3v5.5h-7.3zM605.9 102.6h7.3v5.5h-7.3zM612.9 102.6h7.3v5.5h-7.3zM619.9 102.6h7.3v5.5h-7.3zM626.9 102.6h7.3v5.5h-7.3zM633.9 102.6h7.3v5.5h-7.3zM641.0 102.6h7.3v5.5h-7.3zM648.0 102.6h7.3v5.5h-7.3zM374.2 107.8h7.3v5.5h-7.3zM381.2 107.8h7.3v5.5h-7.3zM388.2 107.8h7.3v5.5h-7.3zM395.3 107.8h7.3v5.5h-7.3zM402.3 107.8h7.3v5.5h-7.3zM409.3 107.8h7.3v5.5h-7.3zM416.3 107.8h7.3v5.5h-7.3zM423.3 107.8h7.3v5.5h-7.3zM430.4 107.8h7.3v5.5h-7.3zM437.4 107.8h7.3v5.5h-7.3zM444.4 107.8h7.3v5.5h-7.3zM451.4 107.8h7.3v5.5h-7.3zM458.4 107.8h7.3v5.5h-7.3zM465.5 107.8h7.3v5.5h-7.3zM472.5 107.8h7.3v5.5h-7.3zM479.5 107.8h7.3v5.5h-7.3zM486.5 107.8h7.3v5.5h-7.3zM493.5 107.8h7.3v5.5h-7.3zM500.6 107.8h7.3v5.5h-7.3zM507.6 107.8h7.3v5.5h-7.3zM514.6 107.8h7.3v5.5h-7.3zM521.6 107.8h7.3v5.5h-7.3zM528.6 107.8h7.3v5.5h-7.3zM535.7 107.8h7.3v5.5h-7.3zM542.7 107.8h7.3v5.5h-7.3zM549.7 107.8h7.3v5.5h-7.3zM556.7 107.8h7.3v5.5h-7.3zM563.7 107.8h7.3v5.5h-7.3zM570.8 107.8h7.3v5.5h-7.3zM577.8 107.8h7.3v5.5h-7.3zM584.8 107.8h7.3v5.5h-7.3zM591.8 107.8h7.3v5.5h-7.3zM598.8 107.8h7.3v5.5h-7.3zM605.9 107.8h7.3v5.5h-7.3zM612.9 107.8h7.3v5.5h-7.3zM619.9 107.8h7.3v5.5h-7.3zM626.9 107.8h7.3v5.5h-7.3zM633.9 107.8h7.3v5.5h-7.3zM641.0 107.8h7.3v5.5h-7.3zM648.0 107.8h7.3v5.5h-7.3zM514.6 112.9h7.3v5.5h-7.3zM521.6 112.9h7.3v5.5h-7.3z"/><path fill="#e5d3ff" d="M132.7 166.0h14.3v13.9h-14.3zM160.6 179.6h14.3v13.9h-14.3zM174.6 206.7h14.3v13.9h-14.3zM300.2 220.2h14.3v13.9h-14.3zM244.4 247.3h14.3v13.9h-14.3zM258.4 247.3h14.3v13.9h-14.3zM35.0 260.9h14.3v13.9h-14.3zM216.5 260.9h14.3v13.9h-14.3zM230.4 260.9h14.3v13.9h-14.3zM244.4 260.9h14.3v13.9h-14.3zM258.4 260.9h14.3v13.9h-14.3zM230.4 274.4h14.3v13.9h-14.3zM244.4 274.4h14.3v13.9h-14.3zM49.0 287.9h14.3v13.9h-14.3zM244.4 287.9h14.3v13.9h-14.3zM76.9 301.5h14.3v13.9h-14.3zM258.4 315.1h14.3v13.9h-14.3zM132.7 342.1h14.3v13.9h-14.3zM132.7 355.7h14.3v13.9h-14.3zM146.7 355.7h14.3v13.9h-14.3zM118.8 369.2h14.3v13.9h-14.3zM132.7 369.2h14.3v13.9h-14.3zM146.7 369.2h14.3v13.9h-14.3zM160.6 369.2h14.3v13.9h-14.3zM118.8 382.8h14.3v13.9h-14.3zM132.7 382.8h14.3v13.9h-14.3zM188.6 382.8h14.3v13.9h-14.3zM90.8 423.4h14.3v13.9h-14.3zM430.6 165.8h14.2v13.9h-14.2zM500.2 165.8h14.2v13.9h-14.2zM416.7 179.4h14.2v13.9h-14.2zM444.5 179.4h14.2v13.9h-14.2zM597.6 192.9h14.2v13.9h-14.2zM388.8 206.5h14.2v13.9h-14.2zM597.6 206.5h14.2v13.9h-14.2zM639.4 206.5h14.2v13.9h-14.2zM374.9 220.0h14.2v13.9h-14.2zM555.9 220.0h14.2v13.9h-14.2zM388.8 233.6h14.2v13.9h-14.2zM472.3 233.6h14.2v13.9h-14.2zM486.3 233.6h14.2v13.9h-14.2zM500.2 233.6h14.2v13.9h-14.2zM583.7 233.6h14.2v13.9h-14.2zM597.6 233.6h14.2v13.9h-14.2zM500.2 247.2h14.2v13.9h-14.2zM444.5 260.7h14.2v13.9h-14.2zM444.5 274.3h14.2v13.9h-14.2zM528.0 274.3h14.2v13.9h-14.2zM583.7 274.3h14.2v13.9h-14.2zM639.4 274.3h14.2v13.9h-14.2zM374.9 287.8h14.2v13.9h-14.2zM444.5 287.8h14.2v13.9h-14.2zM458.4 287.8h14.2v13.9h-14.2zM569.8 287.8h14.2v13.9h-14.2zM486.3 315.0h14.2v13.9h-14.2zM430.6 342.1h14.2v13.9h-14.2zM500.2 355.6h14.2v13.9h-14.2zM444.5 369.2h14.2v13.9h-14.2zM486.3 369.2h14.2v13.9h-14.2zM402.7 382.8h14.2v13.9h-14.2zM416.7 382.8h14.2v13.9h-14.2zM444.5 382.8h14.2v13.9h-14.2zM416.7 423.4h14.2v13.9h-14.2zM486.3 423.4h14.2v13.9h-14.2zM91.0 625.5h14.3v13.9h-14.3zM161.0 625.5h14.3v13.9h-14.3zM105.0 639.1h14.3v13.9h-14.3zM259.0 652.6h14.3v13.9h-14.3zM259.0 666.2h14.3v13.9h-14.3zM301.0 666.2h14.3v13.9h-14.3zM35.0 679.8h14.3v13.9h-14.3zM217.0 679.8h14.3v13.9h-14.3zM49.0 693.4h14.3v13.9h-14.3zM133.0 693.4h14.3v13.9h-14.3zM147.0 693.4h14.3v13.9h-14.3zM161.0 693.4h14.3v13.9h-14.3zM245.0 693.4h14.3v13.9h-14.3zM259.0 693.4h14.3v13.9h-14.3zM161.0 707.0h14.3v13.9h-14.3zM105.0 720.5h14.3v13.9h-14.3zM105.0 734.1h14.3v13.9h-14.3zM189.0 734.1h14.3v13.9h-14.3zM245.0 734.1h14.3v13.9h-14.3zM301.0 734.1h14.3v13.9h-14.3zM35.0 747.7h14.3v13.9h-14.3zM105.0 747.7h14.3v13.9h-14.3zM119.0 747.7h14.3v13.9h-14.3zM231.0 747.7h14.3v13.9h-14.3zM147.0 774.8h14.3v13.9h-14.3zM91.0 802.0h14.3v13.9h-14.3zM161.0 815.5h14.3v13.9h-14.3zM105.0 829.1h14.3v13.9h-14.3zM147.0 829.1h14.3v13.9h-14.3zM63.0 842.7h14.3v13.9h-14.3zM77.0 842.7h14.3v13.9h-14.3zM105.0 842.7h14.3v13.9h-14.3zM77.0 883.4h14.3v13.9h-14.3zM147.0 883.4h14.3v13.9h-14.3zM443.6 626.7h14.3v13.9h-14.3zM373.7 694.6h14.3v13.9h-14.3zM597.4 694.6h14.3v13.9h-14.3zM583.4 735.3h14.3v13.9h-14.3zM527.5 748.9h14.3v13.9h-14.3zM611.4 748.9h14.3v13.9h-14.3zM499.5 776.1h14.3v13.9h-14.3zM485.5 830.4h14.3v13.9h-14.3zM443.6 844.0h14.3v13.9h-14.3zM499.5 857.6h14.3v13.9h-14.3zM174.6 92.2h7.3v5.5h-7.3zM181.6 92.2h7.3v5.5h-7.3zM188.6 92.2h7.3v5.5h-7.3zM195.6 92.2h7.3v5.5h-7.3zM202.6 92.2h7.3v5.5h-7.3zM209.6 92.2h7.3v5.5h-7.3zM216.7 92.2h7.3v5.5h-7.3zM223.7 92.2h7.3v5.5h-7.3zM230.7 92.2h7.3v5.5h-7.3zM237.7 92.2h7.3v5.5h-7.3zM244.7 92.2h7.3v5.5h-7.3zM251.7 92.2h7.3v5.5h-7.3zM258.8 92.2h7.3v5.5h-7.3zM265.8 92.2h7.3v5.5h-7.3zM272.8 92.2h7.3v5.5h-7.3zM279.8 92.2h7.3v5.5h-7.3zM286.8 92.2h7.3v5.5h-7.3zM293.8 92.2h7.3v5.5h-7.3zM104.4 97.4h7.3v5.5h-7.3zM111.4 97.4h7.3v5.5h-7.3zM118.4 97.4h7.3v5.5h-7.3zM125.4 97.4h7.3v5.5h-7.3zM132.4 97.4h7.3v5.5h-7.3zM139.5 97.4h7.3v5.5h-7.3zM146.5 97.4h7.3v5.5h-7.3zM153.5 97.4h7.3v5.5h-7.3zM160.5 97.4h7.3v5.5h-7.3zM167.5 97.4h7.3v5.5h-7.3zM174.6 97.4h7.3v5.5h-7.3zM181.6 97.4h7.3v5.5h-7.3zM188.6 97.4h7.3v5.5h-7.3zM195.6 97.4h7.3v5.5h-7.3zM202.6 97.4h7.3v5.5h-7.3zM209.6 97.4h7.3v5.5h-7.3zM216.7 97.4h7.3v5.5h-7.3zM223.7 97.4h7.3v5.5h-7.3zM230.7 97.4h7.3v5.5h-7.3zM237.7 97.4h7.3v5.5h-7.3zM244.7 97.4h7.3v5.5h-7.3zM251.7 97.4h7.3v5.5h-7.3zM258.8 97.4h7.3v5.5h-7.3zM265.8 97.4h7.3v5.5h-7.3zM272.8 97.4h7.3v5.5h-7.3zM279.8 97.4h7.3v5.5h-7.3zM286.8 97.4h7.3v5.5h-7.3zM293.8 97.4h7.3v5.5h-7.3zM55.3 102.6h7.3v5.5h-7.3zM62.3 102.6h7.3v5.5h-7.3zM69.3 102.6h7.3v5.5h-7.3zM76.3 102.6h7.3v5.5h-7.3zM83.3 102.6h7.3v5.5h-7.3zM90.3 102.6h7.3v5.5h-7.3zM97.4 102.6h7.3v5.5h-7.3zM104.4 102.6h7.3v5.5h-7.3zM111.4 102.6h7.3v5.5h-7.3zM118.4 102.6h7.3v5.5h-7.3zM125.4 102.6h7.3v5.5h-7.3zM132.4 102.6h7.3v5.5h-7.3zM139.5 102.6h7.3v5.5h-7.3zM146.5 102.6h7.3v5.5h-7.3zM153.5 102.6h7.3v5.5h-7.3zM160.5 102.6h7.3v5.5h-7.3zM167.5 102.6h7.3v5.5h-7.3zM174.6 102.6h7.3v5.5h-7.3zM181.6 102.6h7.3v5.5h-7.3zM188.6 102.6h7.3v5.5h-7.3zM195.6 102.6h7.3v5.5h-7.3zM202.6 102.6h7.3v5.5h-7.3zM209.6 102.6h7.3v5.5h-7.3zM216.7 102.6h7.3v5.5h-7.3zM223.7 102.6h7.3v5.5h-7.3zM230.7 102.6h7.3v5.5h-7.3zM237.7 102.6h7.3v5.5h-7.3zM244.7 102.6h7.3v5.5h-7.3zM251.7 102.6h7.3v5.5h-7.3zM258.8 102.6h7.3v5.5h-7.3zM265.8 102.6h7.3v5.5h-7.3zM272.8 102.6h7.3v5.5h-7.3zM279.8 102.6h7.3v5.5h-7.3zM286.8 102.6h7.3v5.5h-7.3zM293.8 102.6h7.3v5.5h-7.3zM300.9 102.6h7.3v5.5h-7.3zM307.9 102.6h7.3v5.5h-7.3zM55.3 107.8h7.3v5.5h-7.3zM62.3 107.8h7.3v5.5h-7.3zM69.3 107.8h7.3v5.5h-7.3zM76.3 107.8h7.3v5.5h-7.3zM83.3 107.8h7.3v5.5h-7.3zM90.3 107.8h7.3v5.5h-7.3zM97.4 107.8h7.3v5.5h-7.3zM104.4 107.8h7.3v5.5h-7.3zM111.4 107.8h7.3v5.5h-7.3zM118.4 107.8h7.3v5.5h-7.3zM125.4 107.8h7.3v5.5h-7.3zM132.4 107.8h7.3v5.5h-7.3zM139.5 107.8h7.3v5.5h-7.3zM146.5 107.8h7.3v5.5h-7.3zM153.5 107.8h7.3v5.5h-7.3zM160.5 107.8h7.3v5.5h-7.3zM167.5 107.8h7.3v5.5h-7.3zM174.6 107.8h7.3v5.5h-7.3zM181.6 107.8h7.3v5.5h-7.3zM188.6 107.8h7.3v5.5h-7.3zM195.6 107.8h7.3v5.5h-7.3zM202.6 107.8h7.3v5.5h-7.3zM209.6 107.8h7.3v5.5h-7.3zM216.7 107.8h7.3v5.5h-7.3zM223.7 107.8h7.3v5.5h-7.3zM230.7 107.8h7.3v5.5h-7.3zM237.7 107.8h7.3v5.5h-7.3zM300.9 107.8h7.3v5.5h-7.3zM307.9 107.8h7.3v5.5h-7.3zM34.2 112.9h7.3v5.5h-7.3zM41.2 112.9h7.3v5.5h-7.3zM48.2 112.9h7.3v5.5h-7.3zM55.3 112.9h7.3v5.5h-7.3zM62.3 112.9h7.3v5.5h-7.3zM69.3 112.9h7.3v5.5h-7.3zM76.3 112.9h7.3v5.5h-7.3zM83.3 112.9h7.3v5.5h-7.3zM90.3 112.9h7.3v5.5h-7.3zM97.4 112.9h7.3v5.5h-7.3zM300.9 112.9h7.3v5.5h-7.3zM307.9 112.9h7.3v5.5h-7.3zM34.2 118.1h7.3v5.5h-7.3zM41.2 118.1h7.3v5.5h-7.3zM48.2 118.1h7.3v5.5h-7.3zM395.3 92.2h7.3v5.5h-7.3zM402.3 92.2h7.3v5.5h-7.3zM409.3 92.2h7.3v5.5h-7.3zM416.3 92.2h7.3v5.5h-7.3zM423.3 92.2h7.3v5.5h-7.3zM430.4 92.2h7.3v5.5h-7.3zM437.4 92.2h7.3v5.5h-7.3zM444.4 92.2h7.3v5.5h-7.3zM451.4 92.2h7.3v5.5h-7.3zM458.4 92.2h7.3v5.5h-7.3zM465.5 92.2h7.3v5.5h-7.3zM472.5 92.2h7.3v5.5h-7.3zM479.5 92.2h7.3v5.5h-7.3zM486.5 92.2h7.3v5.5h-7.3zM493.5 92.2h7.3v5.5h-7.3zM500.6 92.2h7.3v5.5h-7.3zM507.6 92.2h7.3v5.5h-7.3zM528.6 92.2h7.3v5.5h-7.3zM535.7 92.2h7.3v5.5h-7.3zM542.7 92.2h7.3v5.5h-7.3zM549.7 92.2h7.3v5.5h-7.3zM556.7 92.2h7.3v5.5h-7.3zM563.7 92.2h7.3v5.5h-7.3zM570.8 92.2h7.3v5.5h-7.3zM577.8 92.2h7.3v5.5h-7.3zM584.8 92.2h7.3v5.5h-7.3zM591.8 92.2h7.3v5.5h-7.3zM598.8 92.2h7.3v5.5h-7.3zM605.9 92.2h7.3v5.5h-7.3zM612.9 92.2h7.3v5.5h-7.3zM619.9 92.2h7.3v5.5h-7.3zM626.9 92.2h7.3v5.5h-7.3zM374.2 97.4h7.3v5.5h-7.3zM381.2 97.4h7.3v5.5h-7.3zM388.2 97.4h7.3v5.5h-7.3zM395.3 97.4h7.3v5.5h-7.3zM402.3 97.4h7.3v5.5h-7.3zM409.3 97.4h7.3v5.5h-7.3zM416.3 97.4h7.3v5.5h-7.3zM423.3 97.4h7.3v5.5h-7.3zM430.4 97.4h7.3v5.5h-7.3zM437.4 97.4h7.3v5.5h-7.3zM444.4 97.4h7.3v5.5h-7.3zM451.4 97.4h7.3v5.5h-7.3zM458.4 97.4h7.3v5.5h-7.3zM465.5 97.4h7.3v5.5h-7.3zM472.5 97.4h7.3v5.5h-7.3zM479.5 97.4h7.3v5.5h-7.3zM486.5 97.4h7.3v5.5h-7.3zM493.5 97.4h7.3v5.5h-7.3zM500.6 97.4h7.3v5.5h-7.3zM507.6 97.4h7.3v5.5h-7.3zM514.6 97.4h7.3v5.5h-7.3zM521.6 97.4h7.3v5.5h-7.3zM528.6 97.4h7.3v5.5h-7.3zM535.7 97.4h7.3v5.5h-7.3zM542.7 97.4h7.3v5.5h-7.3zM549.7 97.4h7.3v5.5h-7.3zM556.7 97.4h7.3v5.5h-7.3zM563.7 97.4h7.3v5.5h-7.3zM570.8 97.4h7.3v5.5h-7.3zM577.8 97.4h7.3v5.5h-7.3zM584.8 97.4h7.3v5.5h-7.3zM591.8 97.4h7.3v5.5h-7.3zM598.8 97.4h7.3v5.5h-7.3zM605.9 97.4h7.3v5.5h-7.3zM612.9 97.4h7.3v5.5h-7.3zM619.9 97.4h7.3v5.5h-7.3zM626.9 97.4h7.3v5.5h-7.3zM633.9 97.4h7.3v5.5h-7.3zM641.0 97.4h7.3v5.5h-7.3zM648.0 97.4h7.3v5.5h-7.3zM514.6 102.6h7.3v5.5h-7.3zM521.6 102.6h7.3v5.5h-7.3z"/><path fill="#fff3ef" d="M188.6 166.0h14.3v13.9h-14.3zM272.3 166.0h14.3v13.9h-14.3zM286.3 166.0h14.3v13.9h-14.3zM76.9 179.6h14.3v13.9h-14.3zM188.6 179.6h14.3v13.9h-14.3zM202.5 179.6h14.3v13.9h-14.3zM230.4 179.6h14.3v13.9h-14.3zM300.2 179.6h14.3v13.9h-14.3zM216.5 193.1h14.3v13.9h-14.3zM244.4 193.1h14.3v13.9h-14.3zM49.0 206.7h14.3v13.9h-14.3zM216.5 206.7h14.3v13.9h-14.3zM216.5 220.2h14.3v13.9h-14.3zM244.4 220.2h14.3v13.9h-14.3zM146.7 233.8h14.3v13.9h-14.3zM300.2 247.3h14.3v13.9h-14.3zM160.6 260.9h14.3v13.9h-14.3zM174.6 260.9h14.3v13.9h-14.3zM300.2 260.9h14.3v13.9h-14.3zM104.8 274.4h14.3v13.9h-14.3zM174.6 274.4h14.3v13.9h-14.3zM286.3 274.4h14.3v13.9h-14.3zM300.2 274.4h14.3v13.9h-14.3zM132.7 287.9h14.3v13.9h-14.3zM286.3 287.9h14.3v13.9h-14.3zM300.2 287.9h14.3v13.9h-14.3zM132.7 301.5h14.3v13.9h-14.3zM146.7 301.5h14.3v13.9h-14.3zM160.6 301.5h14.3v13.9h-14.3zM202.5 301.5h14.3v13.9h-14.3zM286.3 301.5h14.3v13.9h-14.3zM300.2 301.5h14.3v13.9h-14.3zM35.0 315.1h14.3v13.9h-14.3zM49.0 315.1h14.3v13.9h-14.3zM202.5 315.1h14.3v13.9h-14.3zM49.0 328.6h14.3v13.9h-14.3zM174.6 328.6h14.3v13.9h-14.3zM188.6 328.6h14.3v13.9h-14.3zM216.5 328.6h14.3v13.9h-14.3zM230.4 328.6h14.3v13.9h-14.3zM244.4 328.6h14.3v13.9h-14.3zM62.9 342.1h14.3v13.9h-14.3zM76.9 342.1h14.3v13.9h-14.3zM90.8 342.1h14.3v13.9h-14.3zM202.5 342.1h14.3v13.9h-14.3zM272.3 342.1h14.3v13.9h-14.3zM49.0 355.7h14.3v13.9h-14.3zM202.5 355.7h14.3v13.9h-14.3zM62.9 369.2h14.3v13.9h-14.3zM90.8 369.2h14.3v13.9h-14.3zM202.5 369.2h14.3v13.9h-14.3zM272.3 369.2h14.3v13.9h-14.3zM272.3 382.8h14.3v13.9h-14.3zM35.0 396.4h14.3v13.9h-14.3zM216.5 396.4h14.3v13.9h-14.3zM244.4 396.4h14.3v13.9h-14.3zM258.4 396.4h14.3v13.9h-14.3zM286.3 396.4h14.3v13.9h-14.3zM35.0 409.9h14.3v13.9h-14.3zM146.7 409.9h14.3v13.9h-14.3zM160.6 409.9h14.3v13.9h-14.3zM174.6 409.9h14.3v13.9h-14.3zM272.3 409.9h14.3v13.9h-14.3zM300.2 409.9h14.3v13.9h-14.3zM49.0 423.4h14.3v13.9h-14.3zM118.8 423.4h14.3v13.9h-14.3zM132.7 423.4h14.3v13.9h-14.3zM146.7 423.4h14.3v13.9h-14.3zM160.6 423.4h14.3v13.9h-14.3zM174.6 423.4h14.3v13.9h-14.3zM286.3 423.4h14.3v13.9h-14.3zM472.3 165.8h14.2v13.9h-14.2zM514.1 165.8h14.2v13.9h-14.2zM569.8 165.8h14.2v13.9h-14.2zM555.9 179.4h14.2v13.9h-14.2zM444.5 206.5h14.2v13.9h-14.2zM514.1 206.5h14.2v13.9h-14.2zM528.0 206.5h14.2v13.9h-14.2zM611.5 206.5h14.2v13.9h-14.2zM541.9 220.0h14.2v13.9h-14.2zM583.7 220.0h14.2v13.9h-14.2zM374.9 260.7h14.2v13.9h-14.2zM555.9 260.7h14.2v13.9h-14.2zM514.1 274.3h14.2v13.9h-14.2zM555.9 274.3h14.2v13.9h-14.2zM374.9 301.4h14.2v13.9h-14.2zM416.7 301.4h14.2v13.9h-14.2zM486.3 301.4h14.2v13.9h-14.2zM416.7 315.0h14.2v13.9h-14.2zM541.9 315.0h14.2v13.9h-14.2zM430.6 328.5h14.2v13.9h-14.2zM528.0 328.5h14.2v13.9h-14.2zM388.8 342.1h14.2v13.9h-14.2zM472.3 342.1h14.2v13.9h-14.2zM486.3 342.1h14.2v13.9h-14.2zM611.5 342.1h14.2v13.9h-14.2zM374.9 355.6h14.2v13.9h-14.2zM430.6 369.2h14.2v13.9h-14.2zM625.5 382.8h14.2v13.9h-14.2zM416.7 396.3h14.2v13.9h-14.2zM555.9 396.3h14.2v13.9h-14.2zM597.6 409.9h14.2v13.9h-14.2zM133.0 625.5h14.3v13.9h-14.3zM175.0 625.5h14.3v13.9h-14.3zM231.0 625.5h14.3v13.9h-14.3zM217.0 639.1h14.3v13.9h-14.3zM105.0 666.2h14.3v13.9h-14.3zM175.0 666.2h14.3v13.9h-14.3zM189.0 666.2h14.3v13.9h-14.3zM273.0 666.2h14.3v13.9h-14.3zM203.0 679.8h14.3v13.9h-14.3zM245.0 679.8h14.3v13.9h-14.3zM35.0 720.5h14.3v13.9h-14.3zM217.0 720.5h14.3v13.9h-14.3zM175.0 734.1h14.3v13.9h-14.3zM217.0 734.1h14.3v13.9h-14.3zM35.0 761.2h14.3v13.9h-14.3zM77.0 761.2h14.3v13.9h-14.3zM147.0 761.2h14.3v13.9h-14.3zM77.0 774.8h14.3v13.9h-14.3zM203.0 774.8h14.3v13.9h-14.3zM91.0 788.4h14.3v13.9h-14.3zM189.0 788.4h14.3v13.9h-14.3zM49.0 802.0h14.3v13.9h-14.3zM133.0 802.0h14.3v13.9h-14.3zM147.0 802.0h14.3v13.9h-14.3zM273.0 802.0h14.3v13.9h-14.3zM35.0 815.5h14.3v13.9h-14.3zM91.0 829.1h14.3v13.9h-14.3zM287.0 842.7h14.3v13.9h-14.3zM77.0 856.3h14.3v13.9h-14.3zM217.0 856.3h14.3v13.9h-14.3zM259.0 869.9h14.3v13.9h-14.3zM499.5 626.7h14.3v13.9h-14.3zM625.3 626.7h14.3v13.9h-14.3zM555.4 640.3h14.3v13.9h-14.3zM569.4 640.3h14.3v13.9h-14.3zM611.4 640.3h14.3v13.9h-14.3zM555.4 653.9h14.3v13.9h-14.3zM611.4 653.9h14.3v13.9h-14.3zM485.5 667.4h14.3v13.9h-14.3zM555.4 667.4h14.3v13.9h-14.3zM513.5 681.0h14.3v13.9h-14.3zM541.5 681.0h14.3v13.9h-14.3zM583.4 681.0h14.3v13.9h-14.3zM429.6 694.6h14.3v13.9h-14.3zM597.4 708.2h14.3v13.9h-14.3zM555.4 721.8h14.3v13.9h-14.3zM583.4 721.8h14.3v13.9h-14.3zM611.4 721.8h14.3v13.9h-14.3zM415.6 735.3h14.3v13.9h-14.3zM373.7 748.9h14.3v13.9h-14.3zM513.5 748.9h14.3v13.9h-14.3zM555.4 748.9h14.3v13.9h-14.3zM625.3 748.9h14.3v13.9h-14.3zM429.6 762.5h14.3v13.9h-14.3zM583.4 776.1h14.3v13.9h-14.3zM625.3 776.1h14.3v13.9h-14.3zM429.6 789.7h14.3v13.9h-14.3zM555.4 789.7h14.3v13.9h-14.3zM625.3 789.7h14.3v13.9h-14.3zM387.7 803.2h14.3v13.9h-14.3zM401.7 803.2h14.3v13.9h-14.3zM415.6 803.2h14.3v13.9h-14.3zM471.6 803.2h14.3v13.9h-14.3zM499.5 803.2h14.3v13.9h-14.3zM611.4 803.2h14.3v13.9h-14.3zM625.3 803.2h14.3v13.9h-14.3zM387.7 816.8h14.3v13.9h-14.3zM429.6 830.4h14.3v13.9h-14.3zM471.6 830.4h14.3v13.9h-14.3zM527.5 830.4h14.3v13.9h-14.3zM457.6 844.0h14.3v13.9h-14.3zM611.4 844.0h14.3v13.9h-14.3zM625.3 844.0h14.3v13.9h-14.3zM387.7 857.6h14.3v13.9h-14.3zM401.7 857.6h14.3v13.9h-14.3zM471.6 857.6h14.3v13.9h-14.3zM555.4 857.6h14.3v13.9h-14.3zM597.4 857.6h14.3v13.9h-14.3zM625.3 857.6h14.3v13.9h-14.3zM373.7 871.1h14.3v13.9h-14.3zM499.5 871.1h14.3v13.9h-14.3zM527.5 871.1h14.3v13.9h-14.3zM541.5 871.1h14.3v13.9h-14.3zM555.4 871.1h14.3v13.9h-14.3zM597.4 871.1h14.3v13.9h-14.3zM611.4 871.1h14.3v13.9h-14.3zM639.3 871.1h14.3v13.9h-14.3zM625.3 884.7h14.3v13.9h-14.3zM104.4 35.3h7.3v5.5h-7.3zM111.4 35.3h7.3v5.5h-7.3zM118.4 35.3h7.3v5.5h-7.3zM125.4 35.3h7.3v5.5h-7.3zM160.5 35.3h7.3v5.5h-7.3zM167.5 35.3h7.3v5.5h-7.3zM174.6 35.3h7.3v5.5h-7.3zM181.6 35.3h7.3v5.5h-7.3zM188.6 35.3h7.3v5.5h-7.3zM195.6 35.3h7.3v5.5h-7.3zM202.6 35.3h7.3v5.5h-7.3zM209.6 35.3h7.3v5.5h-7.3zM216.7 35.3h7.3v5.5h-7.3zM223.7 35.3h7.3v5.5h-7.3zM230.7 35.3h7.3v5.5h-7.3zM237.7 35.3h7.3v5.5h-7.3zM244.7 35.3h7.3v5.5h-7.3zM251.7 35.3h7.3v5.5h-7.3zM258.8 35.3h7.3v5.5h-7.3zM265.8 35.3h7.3v5.5h-7.3zM272.8 35.3h7.3v5.5h-7.3zM279.8 35.3h7.3v5.5h-7.3zM286.8 35.3h7.3v5.5h-7.3zM293.8 35.3h7.3v5.5h-7.3zM374.2 35.3h7.3v5.5h-7.3zM381.2 35.3h7.3v5.5h-7.3zM388.2 35.3h7.3v5.5h-7.3zM395.3 35.3h7.3v5.5h-7.3zM402.3 35.3h7.3v5.5h-7.3zM409.3 35.3h7.3v5.5h-7.3zM416.3 35.3h7.3v5.5h-7.3zM423.3 35.3h7.3v5.5h-7.3zM430.4 35.3h7.3v5.5h-7.3zM437.4 35.3h7.3v5.5h-7.3zM444.4 35.3h7.3v5.5h-7.3zM451.4 35.3h7.3v5.5h-7.3zM458.4 35.3h7.3v5.5h-7.3zM465.5 35.3h7.3v5.5h-7.3zM472.5 35.3h7.3v5.5h-7.3zM479.5 35.3h7.3v5.5h-7.3zM486.5 35.3h7.3v5.5h-7.3zM493.5 35.3h7.3v5.5h-7.3zM500.6 35.3h7.3v5.5h-7.3zM507.6 35.3h7.3v5.5h-7.3zM514.6 35.3h7.3v5.5h-7.3zM521.6 35.3h7.3v5.5h-7.3zM528.6 35.3h7.3v5.5h-7.3zM535.7 35.3h7.3v5.5h-7.3zM542.7 35.3h7.3v5.5h-7.3zM549.7 35.3h7.3v5.5h-7.3zM556.7 35.3h7.3v5.5h-7.3zM563.7 35.3h7.3v5.5h-7.3zM570.8 35.3h7.3v5.5h-7.3zM577.8 35.3h7.3v5.5h-7.3zM584.8 35.3h7.3v5.5h-7.3zM591.8 35.3h7.3v5.5h-7.3zM598.8 35.3h7.3v5.5h-7.3zM605.9 35.3h7.3v5.5h-7.3zM612.9 35.3h7.3v5.5h-7.3zM619.9 35.3h7.3v5.5h-7.3zM626.9 35.3h7.3v5.5h-7.3zM633.9 35.3h7.3v5.5h-7.3zM641.0 35.3h7.3v5.5h-7.3zM648.0 35.3h7.3v5.5h-7.3zM374.2 40.5h7.3v5.5h-7.3zM381.2 40.5h7.3v5.5h-7.3zM388.2 40.5h7.3v5.5h-7.3zM395.3 40.5h7.3v5.5h-7.3zM402.3 40.5h7.3v5.5h-7.3zM409.3 40.5h7.3v5.5h-7.3zM416.3 40.5h7.3v5.5h-7.3zM423.3 40.5h7.3v5.5h-7.3zM430.4 40.5h7.3v5.5h-7.3zM437.4 40.5h7.3v5.5h-7.3zM444.4 40.5h7.3v5.5h-7.3zM451.4 40.5h7.3v5.5h-7.3zM458.4 40.5h7.3v5.5h-7.3zM465.5 40.5h7.3v5.5h-7.3zM472.5 40.5h7.3v5.5h-7.3zM479.5 40.5h7.3v5.5h-7.3zM486.5 40.5h7.3v5.5h-7.3zM493.5 40.5h7.3v5.5h-7.3zM500.6 40.5h7.3v5.5h-7.3zM507.6 40.5h7.3v5.5h-7.3zM514.6 40.5h7.3v5.5h-7.3zM521.6 40.5h7.3v5.5h-7.3zM528.6 40.5h7.3v5.5h-7.3zM535.7 40.5h7.3v5.5h-7.3zM542.7 40.5h7.3v5.5h-7.3zM549.7 40.5h7.3v5.5h-7.3zM556.7 40.5h7.3v5.5h-7.3zM563.7 40.5h7.3v5.5h-7.3zM570.8 40.5h7.3v5.5h-7.3zM577.8 40.5h7.3v5.5h-7.3zM584.8 40.5h7.3v5.5h-7.3zM591.8 40.5h7.3v5.5h-7.3zM598.8 40.5h7.3v5.5h-7.3zM605.9 40.5h7.3v5.5h-7.3zM612.9 40.5h7.3v5.5h-7.3zM633.9 40.5h7.3v5.5h-7.3zM641.0 40.5h7.3v5.5h-7.3zM648.0 40.5h7.3v5.5h-7.3zM374.2 45.6h7.3v5.5h-7.3zM381.2 45.6h7.3v5.5h-7.3zM388.2 45.6h7.3v5.5h-7.3zM395.3 45.6h7.3v5.5h-7.3zM402.3 45.6h7.3v5.5h-7.3zM409.3 45.6h7.3v5.5h-7.3zM416.3 45.6h7.3v5.5h-7.3zM423.3 45.6h7.3v5.5h-7.3zM430.4 45.6h7.3v5.5h-7.3zM437.4 45.6h7.3v5.5h-7.3zM444.4 45.6h7.3v5.5h-7.3zM451.4 45.6h7.3v5.5h-7.3zM458.4 45.6h7.3v5.5h-7.3zM465.5 45.6h7.3v5.5h-7.3zM472.5 45.6h7.3v5.5h-7.3zM479.5 45.6h7.3v5.5h-7.3zM486.5 45.6h7.3v5.5h-7.3zM493.5 45.6h7.3v5.5h-7.3zM500.6 45.6h7.3v5.5h-7.3zM507.6 45.6h7.3v5.5h-7.3zM542.7 45.6h7.3v5.5h-7.3zM549.7 45.6h7.3v5.5h-7.3zM556.7 45.6h7.3v5.5h-7.3zM563.7 45.6h7.3v5.5h-7.3zM570.8 45.6h7.3v5.5h-7.3zM577.8 45.6h7.3v5.5h-7.3zM584.8 45.6h7.3v5.5h-7.3zM591.8 45.6h7.3v5.5h-7.3zM598.8 45.6h7.3v5.5h-7.3zM605.9 45.6h7.3v5.5h-7.3zM612.9 45.6h7.3v5.5h-7.3zM633.9 45.6h7.3v5.5h-7.3zM641.0 45.6h7.3v5.5h-7.3zM648.0 45.6h7.3v5.5h-7.3zM374.2 50.8h7.3v5.5h-7.3zM381.2 50.8h7.3v5.5h-7.3zM388.2 50.8h7.3v5.5h-7.3zM395.3 50.8h7.3v5.5h-7.3zM402.3 50.8h7.3v5.5h-7.3zM409.3 50.8h7.3v5.5h-7.3zM416.3 50.8h7.3v5.5h-7.3zM423.3 50.8h7.3v5.5h-7.3zM430.4 50.8h7.3v5.5h-7.3zM437.4 50.8h7.3v5.5h-7.3zM472.5 50.8h7.3v5.5h-7.3zM479.5 50.8h7.3v5.5h-7.3zM486.5 50.8h7.3v5.5h-7.3zM493.5 50.8h7.3v5.5h-7.3zM500.6 50.8h7.3v5.5h-7.3zM507.6 50.8h7.3v5.5h-7.3zM542.7 50.8h7.3v5.5h-7.3zM549.7 50.8h7.3v5.5h-7.3zM556.7 50.8h7.3v5.5h-7.3zM563.7 50.8h7.3v5.5h-7.3zM570.8 50.8h7.3v5.5h-7.3zM577.8 50.8h7.3v5.5h-7.3zM584.8 50.8h7.3v5.5h-7.3zM591.8 50.8h7.3v5.5h-7.3zM598.8 50.8h7.3v5.5h-7.3zM605.9 50.8h7.3v5.5h-7.3zM612.9 50.8h7.3v5.5h-7.3zM641.0 50.8h7.3v5.5h-7.3zM648.0 50.8h7.3v5.5h-7.3zM374.2 56.0h7.3v5.5h-7.3zM381.2 56.0h7.3v5.5h-7.3zM641.0 56.0h7.3v5.5h-7.3zM648.0 56.0h7.3v5.5h-7.3zM374.2 61.2h7.3v5.5h-7.3z"/><path fill="#ffdccf" d="M258.4 166.0h14.3v13.9h-14.3zM76.9 193.1h14.3v13.9h-14.3zM90.8 193.1h14.3v13.9h-14.3zM62.9 206.7h14.3v13.9h-14.3zM90.8 206.7h14.3v13.9h-14.3zM62.9 220.2h14.3v13.9h-14.3zM76.9 220.2h14.3v13.9h-14.3zM132.7 247.3h14.3v13.9h-14.3zM118.8 260.9h14.3v13.9h-14.3zM146.7 260.9h14.3v13.9h-14.3zM132.7 274.4h14.3v13.9h-14.3zM160.6 274.4h14.3v13.9h-14.3zM146.7 287.9h14.3v13.9h-14.3zM244.4 342.1h14.3v13.9h-14.3zM244.4 355.7h14.3v13.9h-14.3zM216.5 369.2h14.3v13.9h-14.3zM230.4 369.2h14.3v13.9h-14.3zM35.0 382.8h14.3v13.9h-14.3zM611.5 165.8h14.2v13.9h-14.2zM639.4 165.8h14.2v13.9h-14.2zM388.8 192.9h14.2v13.9h-14.2zM430.6 206.5h14.2v13.9h-14.2zM569.8 206.5h14.2v13.9h-14.2zM416.7 220.0h14.2v13.9h-14.2zM444.5 220.0h14.2v13.9h-14.2zM500.2 220.0h14.2v13.9h-14.2zM528.0 220.0h14.2v13.9h-14.2zM458.4 233.6h14.2v13.9h-14.2zM611.5 233.6h14.2v13.9h-14.2zM444.5 247.2h14.2v13.9h-14.2zM597.6 247.2h14.2v13.9h-14.2zM569.8 274.3h14.2v13.9h-14.2zM430.6 287.8h14.2v13.9h-14.2zM430.6 315.0h14.2v13.9h-14.2zM597.6 315.0h14.2v13.9h-14.2zM555.9 328.5h14.2v13.9h-14.2zM541.9 342.1h14.2v13.9h-14.2zM416.7 355.6h14.2v13.9h-14.2zM486.3 355.6h14.2v13.9h-14.2zM611.5 355.6h14.2v13.9h-14.2zM597.6 369.2h14.2v13.9h-14.2zM458.4 382.8h14.2v13.9h-14.2zM528.0 382.8h14.2v13.9h-14.2zM583.7 382.8h14.2v13.9h-14.2zM374.9 396.3h14.2v13.9h-14.2zM444.5 396.3h14.2v13.9h-14.2zM569.8 396.3h14.2v13.9h-14.2zM374.9 423.4h14.2v13.9h-14.2zM49.0 625.5h14.3v13.9h-14.3zM273.0 625.5h14.3v13.9h-14.3zM301.0 625.5h14.3v13.9h-14.3zM35.0 639.1h14.3v13.9h-14.3zM63.0 639.1h14.3v13.9h-14.3zM49.0 652.6h14.3v13.9h-14.3zM77.0 652.6h14.3v13.9h-14.3zM63.0 666.2h14.3v13.9h-14.3zM91.0 666.2h14.3v13.9h-14.3zM231.0 666.2h14.3v13.9h-14.3zM77.0 679.8h14.3v13.9h-14.3zM105.0 679.8h14.3v13.9h-14.3zM161.0 679.8h14.3v13.9h-14.3zM189.0 679.8h14.3v13.9h-14.3zM119.0 693.4h14.3v13.9h-14.3zM273.0 693.4h14.3v13.9h-14.3zM105.0 707.0h14.3v13.9h-14.3zM259.0 707.0h14.3v13.9h-14.3zM231.0 734.1h14.3v13.9h-14.3zM91.0 747.7h14.3v13.9h-14.3zM91.0 774.8h14.3v13.9h-14.3zM259.0 774.8h14.3v13.9h-14.3zM217.0 788.4h14.3v13.9h-14.3zM203.0 802.0h14.3v13.9h-14.3zM77.0 815.5h14.3v13.9h-14.3zM147.0 815.5h14.3v13.9h-14.3zM273.0 815.5h14.3v13.9h-14.3zM259.0 829.1h14.3v13.9h-14.3zM119.0 842.7h14.3v13.9h-14.3zM189.0 842.7h14.3v13.9h-14.3zM245.0 842.7h14.3v13.9h-14.3zM35.0 856.3h14.3v13.9h-14.3zM105.0 856.3h14.3v13.9h-14.3zM231.0 856.3h14.3v13.9h-14.3zM35.0 883.4h14.3v13.9h-14.3zM583.4 626.7h14.3v13.9h-14.3zM597.4 626.7h14.3v13.9h-14.3zM639.3 626.7h14.3v13.9h-14.3zM429.6 667.4h14.3v13.9h-14.3zM415.6 681.0h14.3v13.9h-14.3zM597.4 721.8h14.3v13.9h-14.3zM639.3 748.9h14.3v13.9h-14.3zM541.5 803.2h14.3v13.9h-14.3zM611.4 816.8h14.3v13.9h-14.3zM373.7 830.4h14.3v13.9h-14.3zM597.4 830.4h14.3v13.9h-14.3zM625.3 830.4h14.3v13.9h-14.3zM373.7 844.0h14.3v13.9h-14.3zM471.6 844.0h14.3v13.9h-14.3zM583.4 844.0h14.3v13.9h-14.3zM569.4 857.6h14.3v13.9h-14.3zM583.4 871.1h14.3v13.9h-14.3zM373.7 884.7h14.3v13.9h-14.3zM499.5 884.7h14.3v13.9h-14.3zM307.9 35.3h7.3v5.5h-7.3zM34.2 40.5h7.3v5.5h-7.3zM307.9 40.5h7.3v5.5h-7.3zM34.2 45.6h7.3v5.5h-7.3zM48.2 45.6h7.3v5.5h-7.3zM307.9 45.6h7.3v5.5h-7.3zM41.2 50.8h7.3v5.5h-7.3zM48.2 50.8h7.3v5.5h-7.3zM41.2 56.0h7.3v5.5h-7.3zM48.2 56.0h7.3v5.5h-7.3zM55.3 56.0h7.3v5.5h-7.3zM132.4 56.0h7.3v5.5h-7.3zM139.5 56.0h7.3v5.5h-7.3zM146.5 56.0h7.3v5.5h-7.3zM153.5 56.0h7.3v5.5h-7.3zM300.9 56.0h7.3v5.5h-7.3zM41.2 61.2h7.3v5.5h-7.3zM55.3 61.2h7.3v5.5h-7.3zM62.3 61.2h7.3v5.5h-7.3zM69.3 61.2h7.3v5.5h-7.3zM76.3 61.2h7.3v5.5h-7.3zM83.3 61.2h7.3v5.5h-7.3zM90.3 61.2h7.3v5.5h-7.3zM97.4 61.2h7.3v5.5h-7.3zM104.4 61.2h7.3v5.5h-7.3zM111.4 61.2h7.3v5.5h-7.3zM118.4 61.2h7.3v5.5h-7.3zM125.4 61.2h7.3v5.5h-7.3zM132.4 61.2h7.3v5.5h-7.3zM139.5 61.2h7.3v5.5h-7.3zM146.5 61.2h7.3v5.5h-7.3zM153.5 61.2h7.3v5.5h-7.3zM300.9 61.2h7.3v5.5h-7.3zM55.3 66.3h7.3v5.5h-7.3zM62.3 66.3h7.3v5.5h-7.3zM69.3 66.3h7.3v5.5h-7.3zM76.3 66.3h7.3v5.5h-7.3zM83.3 66.3h7.3v5.5h-7.3zM90.3 66.3h7.3v5.5h-7.3zM97.4 66.3h7.3v5.5h-7.3zM104.4 66.3h7.3v5.5h-7.3zM111.4 66.3h7.3v5.5h-7.3zM118.4 66.3h7.3v5.5h-7.3zM125.4 66.3h7.3v5.5h-7.3zM132.4 66.3h7.3v5.5h-7.3zM139.5 66.3h7.3v5.5h-7.3zM146.5 66.3h7.3v5.5h-7.3zM153.5 66.3h7.3v5.5h-7.3zM160.5 66.3h7.3v5.5h-7.3zM167.5 66.3h7.3v5.5h-7.3zM174.6 66.3h7.3v5.5h-7.3zM181.6 66.3h7.3v5.5h-7.3zM188.6 66.3h7.3v5.5h-7.3zM195.6 66.3h7.3v5.5h-7.3zM202.6 66.3h7.3v5.5h-7.3zM209.6 66.3h7.3v5.5h-7.3zM216.7 66.3h7.3v5.5h-7.3zM223.7 66.3h7.3v5.5h-7.3zM230.7 66.3h7.3v5.5h-7.3zM237.7 66.3h7.3v5.5h-7.3zM244.7 66.3h7.3v5.5h-7.3zM251.7 66.3h7.3v5.5h-7.3zM258.8 66.3h7.3v5.5h-7.3zM265.8 66.3h7.3v5.5h-7.3zM272.8 66.3h7.3v5.5h-7.3zM279.8 66.3h7.3v5.5h-7.3zM286.8 66.3h7.3v5.5h-7.3zM293.8 66.3h7.3v5.5h-7.3zM300.9 66.3h7.3v5.5h-7.3zM62.3 71.5h7.3v5.5h-7.3zM69.3 71.5h7.3v5.5h-7.3zM76.3 71.5h7.3v5.5h-7.3zM83.3 71.5h7.3v5.5h-7.3zM90.3 71.5h7.3v5.5h-7.3zM97.4 71.5h7.3v5.5h-7.3zM104.4 71.5h7.3v5.5h-7.3zM111.4 71.5h7.3v5.5h-7.3zM118.4 71.5h7.3v5.5h-7.3zM125.4 71.5h7.3v5.5h-7.3zM160.5 71.5h7.3v5.5h-7.3zM167.5 71.5h7.3v5.5h-7.3zM174.6 71.5h7.3v5.5h-7.3zM181.6 71.5h7.3v5.5h-7.3zM188.6 71.5h7.3v5.5h-7.3zM195.6 71.5h7.3v5.5h-7.3zM202.6 71.5h7.3v5.5h-7.3zM209.6 71.5h7.3v5.5h-7.3zM216.7 71.5h7.3v5.5h-7.3zM223.7 71.5h7.3v5.5h-7.3zM230.7 71.5h7.3v5.5h-7.3zM237.7 71.5h7.3v5.5h-7.3zM244.7 71.5h7.3v5.5h-7.3zM251.7 71.5h7.3v5.5h-7.3zM258.8 71.5h7.3v5.5h-7.3zM265.8 71.5h7.3v5.5h-7.3zM272.8 71.5h7.3v5.5h-7.3zM279.8 71.5h7.3v5.5h-7.3zM286.8 71.5h7.3v5.5h-7.3zM293.8 71.5h7.3v5.5h-7.3zM619.9 56.0h7.3v5.5h-7.3zM626.9 56.0h7.3v5.5h-7.3zM619.9 61.2h7.3v5.5h-7.3zM626.9 61.2h7.3v5.5h-7.3zM444.4 66.3h7.3v5.5h-7.3zM451.4 66.3h7.3v5.5h-7.3zM458.4 66.3h7.3v5.5h-7.3zM465.5 66.3h7.3v5.5h-7.3zM514.6 66.3h7.3v5.5h-7.3zM521.6 66.3h7.3v5.5h-7.3zM528.6 66.3h7.3v5.5h-7.3zM535.7 66.3h7.3v5.5h-7.3zM633.9 66.3h7.3v5.5h-7.3zM388.2 71.5h7.3v5.5h-7.3zM395.3 71.5h7.3v5.5h-7.3zM402.3 71.5h7.3v5.5h-7.3zM409.3 71.5h7.3v5.5h-7.3zM416.3 71.5h7.3v5.5h-7.3zM423.3 71.5h7.3v5.5h-7.3zM430.4 71.5h7.3v5.5h-7.3zM437.4 71.5h7.3v5.5h-7.3zM444.4 71.5h7.3v5.5h-7.3zM451.4 71.5h7.3v5.5h-7.3zM458.4 71.5h7.3v5.5h-7.3zM465.5 71.5h7.3v5.5h-7.3zM472.5 71.5h7.3v5.5h-7.3zM479.5 71.5h7.3v5.5h-7.3zM486.5 71.5h7.3v5.5h-7.3zM493.5 71.5h7.3v5.5h-7.3zM500.6 71.5h7.3v5.5h-7.3zM507.6 71.5h7.3v5.5h-7.3zM514.6 71.5h7.3v5.5h-7.3zM521.6 71.5h7.3v5.5h-7.3zM528.6 71.5h7.3v5.5h-7.3zM535.7 71.5h7.3v5.5h-7.3zM542.7 71.5h7.3v5.5h-7.3zM549.7 71.5h7.3v5.5h-7.3zM556.7 71.5h7.3v5.5h-7.3zM563.7 71.5h7.3v5.5h-7.3zM570.8 71.5h7.3v5.5h-7.3zM577.8 71.5h7.3v5.5h-7.3zM584.8 71.5h7.3v5.5h-7.3zM591.8 71.5h7.3v5.5h-7.3zM598.8 71.5h7.3v5.5h-7.3zM605.9 71.5h7.3v5.5h-7.3zM612.9 71.5h7.3v5.5h-7.3zM633.9 71.5h7.3v5.5h-7.3zM374.2 76.7h7.3v5.5h-7.3zM381.2 76.7h7.3v5.5h-7.3zM641.0 76.7h7.3v5.5h-7.3zM648.0 76.7h7.3v5.5h-7.3z"/><path fill="#ffd0bf" d="M62.9 179.6h14.3v13.9h-14.3zM49.0 193.1h14.3v13.9h-14.3zM104.8 220.2h14.3v13.9h-14.3zM90.8 233.8h14.3v13.9h-14.3zM118.8 233.8h14.3v13.9h-14.3zM104.8 247.3h14.3v13.9h-14.3zM174.6 287.9h14.3v13.9h-14.3zM258.4 355.7h14.3v13.9h-14.3zM230.4 382.8h14.3v13.9h-14.3zM555.9 165.8h14.2v13.9h-14.2zM402.7 179.4h14.2v13.9h-14.2zM402.7 206.5h14.2v13.9h-14.2zM374.9 342.1h14.2v13.9h-14.2zM639.4 382.8h14.2v13.9h-14.2zM597.6 423.4h14.2v13.9h-14.2zM217.0 625.5h14.3v13.9h-14.3zM35.0 802.0h14.3v13.9h-14.3zM301.0 842.7h14.3v13.9h-14.3zM259.0 883.4h14.3v13.9h-14.3zM471.6 626.7h14.3v13.9h-14.3zM555.4 626.7h14.3v13.9h-14.3zM373.7 721.8h14.3v13.9h-14.3zM373.7 803.2h14.3v13.9h-14.3zM34.2 50.8h7.3v5.5h-7.3zM307.9 50.8h7.3v5.5h-7.3zM34.2 56.0h7.3v5.5h-7.3zM307.9 56.0h7.3v5.5h-7.3zM34.2 61.2h7.3v5.5h-7.3zM48.2 61.2h7.3v5.5h-7.3zM41.2 66.3h7.3v5.5h-7.3zM48.2 66.3h7.3v5.5h-7.3zM41.2 71.5h7.3v5.5h-7.3zM55.3 71.5h7.3v5.5h-7.3zM132.4 71.5h7.3v5.5h-7.3zM139.5 71.5h7.3v5.5h-7.3zM146.5 71.5h7.3v5.5h-7.3zM153.5 71.5h7.3v5.5h-7.3zM300.9 71.5h7.3v5.5h-7.3zM62.3 76.7h7.3v5.5h-7.3zM69.3 76.7h7.3v5.5h-7.3zM76.3 76.7h7.3v5.5h-7.3zM83.3 76.7h7.3v5.5h-7.3zM90.3 76.7h7.3v5.5h-7.3zM97.4 76.7h7.3v5.5h-7.3zM104.4 76.7h7.3v5.5h-7.3zM111.4 76.7h7.3v5.5h-7.3zM118.4 76.7h7.3v5.5h-7.3zM125.4 76.7h7.3v5.5h-7.3zM132.4 76.7h7.3v5.5h-7.3zM139.5 76.7h7.3v5.5h-7.3zM146.5 76.7h7.3v5.5h-7.3zM153.5 76.7h7.3v5.5h-7.3zM160.5 76.7h7.3v5.5h-7.3zM167.5 76.7h7.3v5.5h-7.3zM174.6 76.7h7.3v5.5h-7.3zM181.6 76.7h7.3v5.5h-7.3zM188.6 76.7h7.3v5.5h-7.3zM195.6 76.7h7.3v5.5h-7.3zM202.6 76.7h7.3v5.5h-7.3zM209.6 76.7h7.3v5.5h-7.3zM216.7 76.7h7.3v5.5h-7.3zM223.7 76.7h7.3v5.5h-7.3zM230.7 76.7h7.3v5.5h-7.3zM237.7 76.7h7.3v5.5h-7.3zM244.7 76.7h7.3v5.5h-7.3zM251.7 76.7h7.3v5.5h-7.3zM258.8 76.7h7.3v5.5h-7.3zM265.8 76.7h7.3v5.5h-7.3zM272.8 76.7h7.3v5.5h-7.3zM279.8 76.7h7.3v5.5h-7.3zM286.8 76.7h7.3v5.5h-7.3zM293.8 76.7h7.3v5.5h-7.3zM619.9 66.3h7.3v5.5h-7.3zM626.9 66.3h7.3v5.5h-7.3zM619.9 71.5h7.3v5.5h-7.3zM626.9 71.5h7.3v5.5h-7.3zM388.2 76.7h7.3v5.5h-7.3zM395.3 76.7h7.3v5.5h-7.3zM402.3 76.7h7.3v5.5h-7.3zM409.3 76.7h7.3v5.5h-7.3zM416.3 76.7h7.3v5.5h-7.3zM423.3 76.7h7.3v5.5h-7.3zM430.4 76.7h7.3v5.5h-7.3zM437.4 76.7h7.3v5.5h-7.3zM444.4 76.7h7.3v5.5h-7.3zM451.4 76.7h7.3v5.5h-7.3zM458.4 76.7h7.3v5.5h-7.3zM465.5 76.7h7.3v5.5h-7.3zM472.5 76.7h7.3v5.5h-7.3zM479.5 76.7h7.3v5.5h-7.3zM486.5 76.7h7.3v5.5h-7.3zM493.5 76.7h7.3v5.5h-7.3zM500.6 76.7h7.3v5.5h-7.3zM507.6 76.7h7.3v5.5h-7.3zM542.7 76.7h7.3v5.5h-7.3zM549.7 76.7h7.3v5.5h-7.3zM556.7 76.7h7.3v5.5h-7.3zM563.7 76.7h7.3v5.5h-7.3zM570.8 76.7h7.3v5.5h-7.3zM577.8 76.7h7.3v5.5h-7.3zM584.8 76.7h7.3v5.5h-7.3zM591.8 76.7h7.3v5.5h-7.3zM598.8 76.7h7.3v5.5h-7.3zM605.9 76.7h7.3v5.5h-7.3zM612.9 76.7h7.3v5.5h-7.3zM374.2 81.9h7.3v5.5h-7.3z"/><path fill="#dcc4ff" d="M132.7 179.6h14.3v13.9h-14.3zM174.6 220.2h14.3v13.9h-14.3zM230.4 247.3h14.3v13.9h-14.3zM49.0 260.9h14.3v13.9h-14.3zM216.5 274.4h14.3v13.9h-14.3zM90.8 301.5h14.3v13.9h-14.3zM146.7 342.1h14.3v13.9h-14.3zM118.8 355.7h14.3v13.9h-14.3zM430.6 192.9h14.2v13.9h-14.2zM458.4 192.9h14.2v13.9h-14.2zM472.3 192.9h14.2v13.9h-14.2zM639.4 192.9h14.2v13.9h-14.2zM472.3 206.5h14.2v13.9h-14.2zM583.7 206.5h14.2v13.9h-14.2zM402.7 220.0h14.2v13.9h-14.2zM611.5 220.0h14.2v13.9h-14.2zM402.7 247.2h14.2v13.9h-14.2zM402.7 260.7h14.2v13.9h-14.2zM416.7 260.7h14.2v13.9h-14.2zM569.8 260.7h14.2v13.9h-14.2zM611.5 287.8h14.2v13.9h-14.2zM583.7 342.1h14.2v13.9h-14.2zM472.3 355.6h14.2v13.9h-14.2zM416.7 369.2h14.2v13.9h-14.2zM555.9 369.2h14.2v13.9h-14.2zM430.6 396.3h14.2v13.9h-14.2zM500.2 396.3h14.2v13.9h-14.2zM402.7 423.4h14.2v13.9h-14.2zM77.0 639.1h14.3v13.9h-14.3zM91.0 652.6h14.3v13.9h-14.3zM119.0 652.6h14.3v13.9h-14.3zM133.0 652.6h14.3v13.9h-14.3zM301.0 652.6h14.3v13.9h-14.3zM49.0 666.2h14.3v13.9h-14.3zM133.0 666.2h14.3v13.9h-14.3zM245.0 666.2h14.3v13.9h-14.3zM63.0 679.8h14.3v13.9h-14.3zM273.0 679.8h14.3v13.9h-14.3zM63.0 707.0h14.3v13.9h-14.3zM63.0 720.5h14.3v13.9h-14.3zM77.0 720.5h14.3v13.9h-14.3zM231.0 720.5h14.3v13.9h-14.3zM273.0 747.7h14.3v13.9h-14.3zM245.0 802.0h14.3v13.9h-14.3zM133.0 815.5h14.3v13.9h-14.3zM77.0 829.1h14.3v13.9h-14.3zM217.0 829.1h14.3v13.9h-14.3zM91.0 856.3h14.3v13.9h-14.3zM161.0 856.3h14.3v13.9h-14.3zM63.0 883.4h14.3v13.9h-14.3zM429.6 640.3h14.3v13.9h-14.3zM387.7 681.0h14.3v13.9h-14.3zM569.4 681.0h14.3v13.9h-14.3zM471.6 694.6h14.3v13.9h-14.3zM443.6 721.8h14.3v13.9h-14.3zM429.6 816.8h14.3v13.9h-14.3zM55.3 87.1h7.3v5.5h-7.3zM83.3 87.1h7.3v5.5h-7.3zM90.3 87.1h7.3v5.5h-7.3zM97.4 87.1h7.3v5.5h-7.3zM104.4 87.1h7.3v5.5h-7.3zM111.4 87.1h7.3v5.5h-7.3zM118.4 87.1h7.3v5.5h-7.3zM139.5 87.1h7.3v5.5h-7.3zM146.5 87.1h7.3v5.5h-7.3zM153.5 87.1h7.3v5.5h-7.3zM160.5 87.1h7.3v5.5h-7.3zM167.5 87.1h7.3v5.5h-7.3zM174.6 87.1h7.3v5.5h-7.3zM181.6 87.1h7.3v5.5h-7.3zM188.6 87.1h7.3v5.5h-7.3zM195.6 87.1h7.3v5.5h-7.3zM202.6 87.1h7.3v5.5h-7.3zM209.6 87.1h7.3v5.5h-7.3zM216.7 87.1h7.3v5.5h-7.3zM223.7 87.1h7.3v5.5h-7.3zM230.7 87.1h7.3v5.5h-7.3zM237.7 87.1h7.3v5.5h-7.3zM244.7 87.1h7.3v5.5h-7.3zM251.7 87.1h7.3v5.5h-7.3zM258.8 87.1h7.3v5.5h-7.3zM265.8 87.1h7.3v5.5h-7.3zM272.8 87.1h7.3v5.5h-7.3zM279.8 87.1h7.3v5.5h-7.3zM286.8 87.1h7.3v5.5h-7.3zM293.8 87.1h7.3v5.5h-7.3zM55.3 92.2h7.3v5.5h-7.3zM62.3 92.2h7.3v5.5h-7.3zM69.3 92.2h7.3v5.5h-7.3zM76.3 92.2h7.3v5.5h-7.3zM83.3 92.2h7.3v5.5h-7.3zM90.3 92.2h7.3v5.5h-7.3zM97.4 92.2h7.3v5.5h-7.3zM104.4 92.2h7.3v5.5h-7.3zM111.4 92.2h7.3v5.5h-7.3zM118.4 92.2h7.3v5.5h-7.3zM125.4 92.2h7.3v5.5h-7.3zM132.4 92.2h7.3v5.5h-7.3zM139.5 92.2h7.3v5.5h-7.3zM146.5 92.2h7.3v5.5h-7.3zM153.5 92.2h7.3v5.5h-7.3zM160.5 92.2h7.3v5.5h-7.3zM167.5 92.2h7.3v5.5h-7.3zM300.9 92.2h7.3v5.5h-7.3zM307.9 92.2h7.3v5.5h-7.3zM34.2 97.4h7.3v5.5h-7.3zM41.2 97.4h7.3v5.5h-7.3zM48.2 97.4h7.3v5.5h-7.3zM55.3 97.4h7.3v5.5h-7.3zM62.3 97.4h7.3v5.5h-7.3zM69.3 97.4h7.3v5.5h-7.3zM76.3 97.4h7.3v5.5h-7.3zM83.3 97.4h7.3v5.5h-7.3zM90.3 97.4h7.3v5.5h-7.3zM97.4 97.4h7.3v5.5h-7.3zM300.9 97.4h7.3v5.5h-7.3zM307.9 97.4h7.3v5.5h-7.3zM34.2 102.6h7.3v5.5h-7.3zM41.2 102.6h7.3v5.5h-7.3zM48.2 102.6h7.3v5.5h-7.3zM34.2 107.8h7.3v5.5h-7.3zM41.2 107.8h7.3v5.5h-7.3zM48.2 107.8h7.3v5.5h-7.3zM395.3 87.1h7.3v5.5h-7.3zM402.3 87.1h7.3v5.5h-7.3zM409.3 87.1h7.3v5.5h-7.3zM416.3 87.1h7.3v5.5h-7.3zM423.3 87.1h7.3v5.5h-7.3zM430.4 87.1h7.3v5.5h-7.3zM437.4 87.1h7.3v5.5h-7.3zM444.4 87.1h7.3v5.5h-7.3zM472.5 87.1h7.3v5.5h-7.3zM479.5 87.1h7.3v5.5h-7.3zM486.5 87.1h7.3v5.5h-7.3zM493.5 87.1h7.3v5.5h-7.3zM500.6 87.1h7.3v5.5h-7.3zM507.6 87.1h7.3v5.5h-7.3zM528.6 87.1h7.3v5.5h-7.3zM535.7 87.1h7.3v5.5h-7.3zM542.7 87.1h7.3v5.5h-7.3zM549.7 87.1h7.3v5.5h-7.3zM556.7 87.1h7.3v5.5h-7.3zM563.7 87.1h7.3v5.5h-7.3zM570.8 87.1h7.3v5.5h-7.3zM577.8 87.1h7.3v5.5h-7.3zM605.9 87.1h7.3v5.5h-7.3zM612.9 87.1h7.3v5.5h-7.3zM619.9 87.1h7.3v5.5h-7.3zM374.2 92.2h7.3v5.5h-7.3zM381.2 92.2h7.3v5.5h-7.3zM388.2 92.2h7.3v5.5h-7.3zM514.6 92.2h7.3v5.5h-7.3zM521.6 92.2h7.3v5.5h-7.3zM633.9 92.2h7.3v5.5h-7.3zM641.0 92.2h7.3v5.5h-7.3zM648.0 92.2h7.3v5.5h-7.3z"/><path fill="#ffb8a0" d="M300.2 423.4h14.3v13.9h-14.3zM388.8 165.8h14.2v13.9h-14.2zM374.9 179.4h14.2v13.9h-14.2zM415.6 653.9h14.3v13.9h-14.3zM401.7 667.4h14.3v13.9h-14.3zM34.2 71.5h7.3v5.5h-7.3zM307.9 71.5h7.3v5.5h-7.3zM48.2 76.7h7.3v5.5h-7.3zM62.3 81.9h7.3v5.5h-7.3zM69.3 81.9h7.3v5.5h-7.3zM76.3 81.9h7.3v5.5h-7.3zM83.3 81.9h7.3v5.5h-7.3zM90.3 81.9h7.3v5.5h-7.3zM97.4 81.9h7.3v5.5h-7.3zM132.4 81.9h7.3v5.5h-7.3zM139.5 81.9h7.3v5.5h-7.3zM146.5 81.9h7.3v5.5h-7.3zM153.5 81.9h7.3v5.5h-7.3zM300.9 81.9h7.3v5.5h-7.3zM619.9 76.7h7.3v5.5h-7.3zM626.9 76.7h7.3v5.5h-7.3zM388.2 81.9h7.3v5.5h-7.3zM395.3 81.9h7.3v5.5h-7.3zM402.3 81.9h7.3v5.5h-7.3zM409.3 81.9h7.3v5.5h-7.3zM542.7 81.9h7.3v5.5h-7.3z"/><path fill="#ff6b47" d="M374.9 165.8h14.2v13.9h-14.2zM444.5 233.6h14.2v13.9h-14.2zM458.4 247.2h14.2v13.9h-14.2zM472.3 260.7h14.2v13.9h-14.2zM555.9 342.1h14.2v13.9h-14.2zM569.8 355.6h14.2v13.9h-14.2zM583.7 369.2h14.2v13.9h-14.2zM597.6 382.8h14.2v13.9h-14.2zM105.0 693.4h14.3v13.9h-14.3zM119.0 707.0h14.3v13.9h-14.3zM133.0 720.5h14.3v13.9h-14.3zM217.0 802.0h14.3v13.9h-14.3zM231.0 815.5h14.3v13.9h-14.3zM245.0 829.1h14.3v13.9h-14.3zM259.0 842.7h14.3v13.9h-14.3z"/><path fill="#ff7956" d="M388.8 179.4h14.2v13.9h-14.2zM402.7 192.9h14.2v13.9h-14.2zM416.7 206.5h14.2v13.9h-14.2zM430.6 220.0h14.2v13.9h-14.2zM486.3 274.3h14.2v13.9h-14.2zM500.2 287.8h14.2v13.9h-14.2zM611.5 396.3h14.2v13.9h-14.2zM35.0 625.5h14.3v13.9h-14.3zM49.0 639.1h14.3v13.9h-14.3zM63.0 652.6h14.3v13.9h-14.3zM77.0 666.2h14.3v13.9h-14.3zM91.0 679.8h14.3v13.9h-14.3zM147.0 734.1h14.3v13.9h-14.3zM161.0 747.7h14.3v13.9h-14.3zM273.0 856.3h14.3v13.9h-14.3zM373.7 626.7h14.3v13.9h-14.3zM387.7 640.3h14.3v13.9h-14.3zM401.7 653.9h14.3v13.9h-14.3zM415.6 667.4h14.3v13.9h-14.3zM429.6 681.0h14.3v13.9h-14.3zM555.4 803.2h14.3v13.9h-14.3zM569.4 816.8h14.3v13.9h-14.3zM583.4 830.4h14.3v13.9h-14.3zM597.4 844.0h14.3v13.9h-14.3zM611.4 857.6h14.3v13.9h-14.3z"/><path fill="#d2b6ff" d="M430.6 179.4h14.2v13.9h-14.2zM388.8 220.0h14.2v13.9h-14.2zM569.8 220.0h14.2v13.9h-14.2zM486.3 247.2h14.2v13.9h-14.2zM458.4 274.3h14.2v13.9h-14.2zM597.6 274.3h14.2v13.9h-14.2zM430.6 355.6h14.2v13.9h-14.2zM597.6 355.6h14.2v13.9h-14.2zM639.4 355.6h14.2v13.9h-14.2zM486.3 382.8h14.2v13.9h-14.2zM569.8 382.8h14.2v13.9h-14.2zM569.8 423.4h14.2v13.9h-14.2zM91.0 639.1h14.3v13.9h-14.3zM49.0 679.8h14.3v13.9h-14.3zM231.0 679.8h14.3v13.9h-14.3zM147.0 707.0h14.3v13.9h-14.3zM119.0 734.1h14.3v13.9h-14.3zM259.0 734.1h14.3v13.9h-14.3zM91.0 815.5h14.3v13.9h-14.3zM259.0 815.5h14.3v13.9h-14.3zM301.0 815.5h14.3v13.9h-14.3zM147.0 842.7h14.3v13.9h-14.3zM231.0 842.7h14.3v13.9h-14.3zM231.0 883.4h14.3v13.9h-14.3zM443.6 640.3h14.3v13.9h-14.3zM443.6 653.9h14.3v13.9h-14.3zM387.7 694.6h14.3v13.9h-14.3zM401.7 694.6h14.3v13.9h-14.3zM597.4 735.3h14.3v13.9h-14.3zM485.5 844.0h14.3v13.9h-14.3zM34.2 87.1h7.3v5.5h-7.3zM41.2 87.1h7.3v5.5h-7.3zM48.2 87.1h7.3v5.5h-7.3zM62.3 87.1h7.3v5.5h-7.3zM69.3 87.1h7.3v5.5h-7.3zM76.3 87.1h7.3v5.5h-7.3zM125.4 87.1h7.3v5.5h-7.3zM132.4 87.1h7.3v5.5h-7.3zM300.9 87.1h7.3v5.5h-7.3zM307.9 87.1h7.3v5.5h-7.3zM34.2 92.2h7.3v5.5h-7.3zM41.2 92.2h7.3v5.5h-7.3zM48.2 92.2h7.3v5.5h-7.3zM374.2 87.1h7.3v5.5h-7.3zM381.2 87.1h7.3v5.5h-7.3zM388.2 87.1h7.3v5.5h-7.3zM451.4 87.1h7.3v5.5h-7.3zM458.4 87.1h7.3v5.5h-7.3zM465.5 87.1h7.3v5.5h-7.3zM584.8 87.1h7.3v5.5h-7.3zM591.8 87.1h7.3v5.5h-7.3zM598.8 87.1h7.3v5.5h-7.3zM626.9 87.1h7.3v5.5h-7.3zM633.9 87.1h7.3v5.5h-7.3zM641.0 87.1h7.3v5.5h-7.3zM648.0 87.1h7.3v5.5h-7.3z"/><path fill="#be99ff" d="M458.4 206.5h14.2v13.9h-14.2zM416.7 247.2h14.2v13.9h-14.2zM119.0 666.2h14.3v13.9h-14.3zM77.0 707.0h14.3v13.9h-14.3zM429.6 653.9h14.3v13.9h-14.3zM401.7 681.0h14.3v13.9h-14.3zM639.3 816.8h14.3v13.9h-14.3zM569.4 884.7h14.3v13.9h-14.3z"/><path fill="#ffa082" d="M514.1 301.4h14.2v13.9h-14.2zM528.0 315.0h14.2v13.9h-14.2zM175.0 761.2h14.3v13.9h-14.3zM189.0 774.8h14.3v13.9h-14.3zM387.7 626.7h14.3v13.9h-14.3zM373.7 640.3h14.3v13.9h-14.3z"/><path fill="#ff9373" d="M471.6 721.8h14.3v13.9h-14.3zM485.5 735.3h14.3v13.9h-14.3zM499.5 748.9h14.3v13.9h-14.3zM541.5 789.7h14.3v13.9h-14.3zM34.2 81.9h7.3v5.5h-7.3zM48.2 81.9h7.3v5.5h-7.3zM619.9 81.9h7.3v5.5h-7.3zM626.9 81.9h7.3v5.5h-7.3z"/><path fill="#c8a8ff" d="M569.4 748.9h14.3v13.9h-14.3zM499.5 816.8h14.3v13.9h-14.3zM597.4 816.8h14.3v13.9h-14.3zM569.4 844.0h14.3v13.9h-14.3zM639.3 857.6h14.3v13.9h-14.3zM611.4 884.7h14.3v13.9h-14.3zM514.6 87.1h7.3v5.5h-7.3zM521.6 87.1h7.3v5.5h-7.3z"/><path fill="#ffac91" d="M513.5 762.5h14.3v13.9h-14.3zM527.5 776.1h14.3v13.9h-14.3zM34.2 76.7h7.3v5.5h-7.3zM307.9 76.7h7.3v5.5h-7.3zM41.2 81.9h7.3v5.5h-7.3zM55.3 81.9h7.3v5.5h-7.3zM444.4 81.9h7.3v5.5h-7.3zM451.4 81.9h7.3v5.5h-7.3zM458.4 81.9h7.3v5.5h-7.3zM465.5 81.9h7.3v5.5h-7.3zM514.6 81.9h7.3v5.5h-7.3zM521.6 81.9h7.3v5.5h-7.3zM528.6 81.9h7.3v5.5h-7.3zM535.7 81.9h7.3v5.5h-7.3zM633.9 81.9h7.3v5.5h-7.3z"/><line x1="36.0" y1="167.0" x2="313.2" y2="436.0" stroke="#ff1900" stroke-width="3.2"/><line x1="375.9" y1="166.8" x2="652.3" y2="436.0" stroke="#ff1900" stroke-width="3.2"/><line x1="36.0" y1="626.5" x2="314.0" y2="896.0" stroke="#ff1900" stroke-width="3.2"/><line x1="374.7" y1="627.7" x2="652.3" y2="897.3" stroke="#ff1900" stroke-width="3.2"/></svg>
<canvas id="cvC" style="position:absolute;left:35.00px;top:166.00px;width:279.20px;height:271.00px"></canvas><canvas id="cvD" style="position:absolute;left:374.90px;top:165.80px;width:278.40px;height:271.20px"></canvas><canvas id="cvG" style="position:absolute;left:35.00px;top:625.50px;width:280.00px;height:271.50px"></canvas><canvas id="cvH" style="position:absolute;left:373.70px;top:626.70px;width:279.60px;height:271.60px"></canvas><canvas id="cvA" style="position:absolute;left:34.20px;top:35.30px;width:280.70px;height:103.50px"></canvas><canvas id="cvB" style="position:absolute;left:374.20px;top:35.30px;width:280.80px;height:103.50px"></canvas>
<svg width="685" height="919" viewBox="0 0 685 919" font-family="Liberation Sans, sans-serif">
<text x="172.2" y="13.2" font-size="16.5" text-anchor="middle">Late stage 5</text>
<text x="512.2" y="13.2" font-size="16.3" text-anchor="middle">Stage 7</text>
<text x="176.2" y="610.3" font-size="16.6" text-anchor="middle">Stage-7_subset a (105 genes)</text>
<text x="514" y="610.3" font-size="16.6" text-anchor="middle">Stage-7_subset b (108 genes)</text>
<text x="-0.8" y="26.6" font-size="20" font-weight="bold">A</text>
<text x="339.6" y="26.6" font-size="20" font-weight="bold">B</text>
<text x="0.8" y="170.6" font-size="20" font-weight="bold">C</text>
<text x="340.6" y="171" font-size="20" font-weight="bold">D</text>
<text x="2.8" y="463.6" font-size="20" font-weight="bold">E</text>
<text x="342.6" y="463.6" font-size="20" font-weight="bold">F</text>
<text x="2.7" y="606.4" font-size="20" font-weight="bold">G</text>
<text x="342.6" y="606.6" font-size="20" font-weight="bold">H</text>
<text x="28.9" y="38.5" font-size="8.3" text-anchor="end" fill="#222">50</text>
<line x1="30.1" x2="33.1" y1="35.5" y2="35.5" stroke="#333" stroke-width="0.9"/>
<text x="28.9" y="48.9" font-size="8.3" text-anchor="end" fill="#222">40</text>
<line x1="30.1" x2="33.1" y1="45.9" y2="45.9" stroke="#333" stroke-width="0.9"/>
<text x="28.9" y="59.3" font-size="8.3" text-anchor="end" fill="#222">30</text>
<line x1="30.1" x2="33.1" y1="56.3" y2="56.3" stroke="#333" stroke-width="0.9"/>
<text x="28.9" y="69.7" font-size="8.3" text-anchor="end" fill="#222">20</text>
<line x1="30.1" x2="33.1" y1="66.7" y2="66.7" stroke="#333" stroke-width="0.9"/>
<text x="28.9" y="80.1" font-size="8.3" text-anchor="end" fill="#222">10</text>
<line x1="30.1" x2="33.1" y1="77.1" y2="77.1" stroke="#333" stroke-width="0.9"/>
<text x="28.9" y="99.4" font-size="8.3" text-anchor="end" fill="#222">10</text>
<line x1="30.1" x2="33.1" y1="96.4" y2="96.4" stroke="#333" stroke-width="0.9"/>
<text x="28.9" y="109.9" font-size="8.3" text-anchor="end" fill="#222">20</text>
<line x1="30.1" x2="33.1" y1="106.9" y2="106.9" stroke="#333" stroke-width="0.9"/>
<text x="28.9" y="120.5" font-size="8.3" text-anchor="end" fill="#222">30</text>
<line x1="30.1" x2="33.1" y1="117.5" y2="117.5" stroke="#333" stroke-width="0.9"/>
<text x="28.9" y="130.7" font-size="8.3" text-anchor="end" fill="#222">40</text>
<line x1="30.1" x2="33.1" y1="127.7" y2="127.7" stroke="#333" stroke-width="0.9"/>
<text x="28.9" y="140.9" font-size="8.3" text-anchor="end" fill="#222">50</text>
<line x1="30.1" x2="33.1" y1="137.9" y2="137.9" stroke="#333" stroke-width="0.9"/>
<text transform="translate(15.8,87) rotate(-90)" font-size="8.3" text-anchor="middle" fill="#111">Count</text>
<text x="103.3" y="147.9" font-size="8" text-anchor="middle" fill="#1e1e1e">20</text>
<line x1="103.3" x2="103.3" y1="139" y2="141" stroke="#999" stroke-width="0.5"/>
<text x="172.9" y="147.9" font-size="8" text-anchor="middle" fill="#1e1e1e">40</text>
<line x1="172.9" x2="172.9" y1="139" y2="141" stroke="#999" stroke-width="0.5"/>
<text x="242.5" y="147.9" font-size="8" text-anchor="middle" fill="#1e1e1e">60</text>
<line x1="242.5" x2="242.5" y1="139" y2="141" stroke="#999" stroke-width="0.5"/>
<text x="312.1" y="147.9" font-size="8" text-anchor="middle" fill="#1e1e1e">80</text>
<line x1="312.1" x2="312.1" y1="139" y2="141" stroke="#999" stroke-width="0.5"/>
<text x="368.9" y="38.5" font-size="8.3" text-anchor="end" fill="#222">50</text>
<line x1="370.1" x2="373.1" y1="35.5" y2="35.5" stroke="#333" stroke-width="0.9"/>
<text x="368.9" y="48.9" font-size="8.3" text-anchor="end" fill="#222">40</text>
<line x1="370.1" x2="373.1" y1="45.9" y2="45.9" stroke="#333" stroke-width="0.9"/>
<text x="368.9" y="59.3" font-size="8.3" text-anchor="end" fill="#222">30</text>
<line x1="370.1" x2="373.1" y1="56.3" y2="56.3" stroke="#333" stroke-width="0.9"/>
<text x="368.9" y="69.7" font-size="8.3" text-anchor="end" fill="#222">20</text>
<line x1="370.1" x2="373.1" y1="66.7" y2="66.7" stroke="#333" stroke-width="0.9"/>
<text x="368.9" y="80.1" font-size="8.3" text-anchor="end" fill="#222">10</text>
<line x1="370.1" x2="373.1" y1="77.1" y2="77.1" stroke="#333" stroke-width="0.9"/>
<text x="368.9" y="99.4" font-size="8.3" text-anchor="end" fill="#222">10</text>
<line x1="370.1" x2="373.1" y1="96.4" y2="96.4" stroke="#333" stroke-width="0.9"/>
<text x="368.9" y="109.9" font-size="8.3" text-anchor="end" fill="#222">20</text>
<line x1="370.1" x2="373.1" y1="106.9" y2="106.9" stroke="#333" stroke-width="0.9"/>
<text x="368.9" y="120.5" font-size="8.3" text-anchor="end" fill="#222">30</text>
<line x1="370.1" x2="373.1" y1="117.5" y2="117.5" stroke="#333" stroke-width="0.9"/>
<text x="368.9" y="130.7" font-size="8.3" text-anchor="end" fill="#222">40</text>
<line x1="370.1" x2="373.1" y1="127.7" y2="127.7" stroke="#333" stroke-width="0.9"/>
<text x="368.9" y="140.9" font-size="8.3" text-anchor="end" fill="#222">50</text>
<line x1="370.1" x2="373.1" y1="137.9" y2="137.9" stroke="#333" stroke-width="0.9"/>
<text transform="translate(355.8,87) rotate(-90)" font-size="8.3" text-anchor="middle" fill="#111">Count</text>
<text x="443.3" y="147.9" font-size="8" text-anchor="middle" fill="#1e1e1e">20</text>
<line x1="443.3" x2="443.3" y1="139" y2="141" stroke="#999" stroke-width="0.5"/>
<text x="512.9" y="147.9" font-size="8" text-anchor="middle" fill="#1e1e1e">40</text>
<line x1="512.9" x2="512.9" y1="139" y2="141" stroke="#999" stroke-width="0.5"/>
<text x="582.5" y="147.9" font-size="8" text-anchor="middle" fill="#1e1e1e">60</text>
<line x1="582.5" x2="582.5" y1="139" y2="141" stroke="#999" stroke-width="0.5"/>
<text x="652.1" y="147.9" font-size="8" text-anchor="middle" fill="#1e1e1e">80</text>
<line x1="652.1" x2="652.1" y1="139" y2="141" stroke="#999" stroke-width="0.5"/>
<line x1="33.7" x2="33.7" y1="446.0" y2="450.0" stroke="#999" stroke-width="0.5"/>
<line x1="103.3" x2="103.3" y1="446.0" y2="450.0" stroke="#999" stroke-width="0.5"/>
<text x="103.3" y="456.6" font-size="8.2" text-anchor="middle" fill="#1e1e1e">20</text>
<line x1="172.9" x2="172.9" y1="446.0" y2="450.0" stroke="#999" stroke-width="0.5"/>
<text x="172.9" y="456.6" font-size="8.2" text-anchor="middle" fill="#1e1e1e">40</text>
<line x1="242.5" x2="242.5" y1="446.0" y2="450.0" stroke="#999" stroke-width="0.5"/>
<text x="242.5" y="456.6" font-size="8.2" text-anchor="middle" fill="#1e1e1e">60</text>
<line x1="312.1" x2="312.1" y1="446.0" y2="450.0" stroke="#999" stroke-width="0.5"/>
<text x="312.1" y="456.6" font-size="8.2" text-anchor="middle" fill="#1e1e1e">80</text>
<line x1="373.0" x2="373.0" y1="446.0" y2="450.0" stroke="#999" stroke-width="0.5"/>
<line x1="442.6" x2="442.6" y1="446.0" y2="450.0" stroke="#999" stroke-width="0.5"/>
<text x="442.6" y="456.6" font-size="8.2" text-anchor="middle" fill="#1e1e1e">20</text>
<line x1="512.2" x2="512.2" y1="446.0" y2="450.0" stroke="#999" stroke-width="0.5"/>
<text x="512.2" y="456.6" font-size="8.2" text-anchor="middle" fill="#1e1e1e">40</text>
<line x1="581.8" x2="581.8" y1="446.0" y2="450.0" stroke="#999" stroke-width="0.5"/>
<text x="581.8" y="456.6" font-size="8.2" text-anchor="middle" fill="#1e1e1e">60</text>
<line x1="651.4" x2="651.4" y1="446.0" y2="450.0" stroke="#999" stroke-width="0.5"/>
<text x="651.4" y="456.6" font-size="8.2" text-anchor="middle" fill="#1e1e1e">80</text>
<line x1="33.7" x2="33.7" y1="906.5" y2="910.5" stroke="#999" stroke-width="0.5"/>
<line x1="103.3" x2="103.3" y1="906.5" y2="910.5" stroke="#999" stroke-width="0.5"/>
<text x="103.3" y="918.8" font-size="8.2" text-anchor="middle" fill="#1e1e1e">20</text>
<line x1="172.9" x2="172.9" y1="906.5" y2="910.5" stroke="#999" stroke-width="0.5"/>
<text x="172.9" y="918.8" font-size="8.2" text-anchor="middle" fill="#1e1e1e">40</text>
<line x1="242.5" x2="242.5" y1="906.5" y2="910.5" stroke="#999" stroke-width="0.5"/>
<text x="242.5" y="918.8" font-size="8.2" text-anchor="middle" fill="#1e1e1e">60</text>
<line x1="312.1" x2="312.1" y1="906.5" y2="910.5" stroke="#999" stroke-width="0.5"/>
<text x="312.1" y="918.8" font-size="8.2" text-anchor="middle" fill="#1e1e1e">80</text>
<line x1="373.0" x2="373.0" y1="907.5" y2="911.5" stroke="#999" stroke-width="0.5"/>
<line x1="442.6" x2="442.6" y1="907.5" y2="911.5" stroke="#999" stroke-width="0.5"/>
<text x="442.6" y="919.5" font-size="8.2" text-anchor="middle" fill="#1e1e1e">20</text>
<line x1="512.2" x2="512.2" y1="907.5" y2="911.5" stroke="#999" stroke-width="0.5"/>
<text x="512.2" y="919.5" font-size="8.2" text-anchor="middle" fill="#1e1e1e">40</text>
<line x1="581.8" x2="581.8" y1="907.5" y2="911.5" stroke="#999" stroke-width="0.5"/>
<text x="581.8" y="919.5" font-size="8.2" text-anchor="middle" fill="#1e1e1e">60</text>
<line x1="651.4" x2="651.4" y1="907.5" y2="911.5" stroke="#999" stroke-width="0.5"/>
<text x="651.4" y="919.5" font-size="8.2" text-anchor="middle" fill="#1e1e1e">80</text>
<line x1="23.6" x2="23.6" y1="475.9" y2="533.4" stroke="#888" stroke-width="0.9"/>
<line x1="23.2" x2="327.8" y1="533.4" y2="533.4" stroke="#888" stroke-width="0.9"/>
<text x="21.4" y="533.2" font-size="8.4" text-anchor="end" fill="#222">0</text>
<line x1="22.0" x2="23.6" y1="530.2" y2="530.2" stroke="#888" stroke-width="0.6"/>
<text x="21.4" y="520.3" font-size="8.4" text-anchor="end" fill="#222">1</text>
<line x1="22.0" x2="23.6" y1="517.3" y2="517.3" stroke="#888" stroke-width="0.6"/>
<text x="21.4" y="507.3" font-size="8.4" text-anchor="end" fill="#222">2</text>
<line x1="22.0" x2="23.6" y1="504.3" y2="504.3" stroke="#888" stroke-width="0.6"/>
<text x="21.4" y="494.4" font-size="8.4" text-anchor="end" fill="#222">3</text>
<line x1="22.0" x2="23.6" y1="491.4" y2="491.4" stroke="#888" stroke-width="0.6"/>
<text x="21.4" y="481.5" font-size="8.4" text-anchor="end" fill="#222">4</text>
<line x1="22.0" x2="23.6" y1="478.5" y2="478.5" stroke="#888" stroke-width="0.6"/>
<text transform="translate(12.8,503.3) rotate(-90)" font-size="8.2" text-anchor="middle" fill="#111">Expression level</text>
<text x="103.3" y="543" font-size="8" text-anchor="middle" fill="#1e1e1e">20</text>
<line x1="103.3" x2="103.3" y1="533.4" y2="535" stroke="#888" stroke-width="0.5"/>
<text x="172.9" y="543" font-size="8" text-anchor="middle" fill="#1e1e1e">40</text>
<line x1="172.9" x2="172.9" y1="533.4" y2="535" stroke="#888" stroke-width="0.5"/>
<text x="242.5" y="543" font-size="8" text-anchor="middle" fill="#1e1e1e">60</text>
<line x1="242.5" x2="242.5" y1="533.4" y2="535" stroke="#888" stroke-width="0.5"/>
<text x="312.1" y="543" font-size="8" text-anchor="middle" fill="#1e1e1e">80</text>
<line x1="312.1" x2="312.1" y1="533.4" y2="535" stroke="#888" stroke-width="0.5"/>
<line x1="33.7" x2="33.7" y1="533.4" y2="535" stroke="#888" stroke-width="0.5"/>
<line x1="363.6" x2="363.6" y1="475.9" y2="533.4" stroke="#888" stroke-width="0.9"/>
<line x1="363.2" x2="667.8" y1="533.4" y2="533.4" stroke="#888" stroke-width="0.9"/>
<text x="361.4" y="533.2" font-size="8.4" text-anchor="end" fill="#222">0</text>
<line x1="362.0" x2="363.6" y1="530.2" y2="530.2" stroke="#888" stroke-width="0.6"/>
<text x="361.4" y="520.3" font-size="8.4" text-anchor="end" fill="#222">1</text>
<line x1="362.0" x2="363.6" y1="517.3" y2="517.3" stroke="#888" stroke-width="0.6"/>
<text x="361.4" y="507.3" font-size="8.4" text-anchor="end" fill="#222">2</text>
<line x1="362.0" x2="363.6" y1="504.3" y2="504.3" stroke="#888" stroke-width="0.6"/>
<text x="361.4" y="494.4" font-size="8.4" text-anchor="end" fill="#222">3</text>
<line x1="362.0" x2="363.6" y1="491.4" y2="491.4" stroke="#888" stroke-width="0.6"/>
<text x="361.4" y="481.5" font-size="8.4" text-anchor="end" fill="#222">4</text>
<line x1="362.0" x2="363.6" y1="478.5" y2="478.5" stroke="#888" stroke-width="0.6"/>
<text transform="translate(352.8,503.3) rotate(-90)" font-size="8.2" text-anchor="middle" fill="#111">Expression level</text>
<text x="443.3" y="543" font-size="8" text-anchor="middle" fill="#1e1e1e">20</text>
<line x1="443.3" x2="443.3" y1="533.4" y2="535" stroke="#888" stroke-width="0.5"/>
<text x="512.9" y="543" font-size="8" text-anchor="middle" fill="#1e1e1e">40</text>
<line x1="512.9" x2="512.9" y1="533.4" y2="535" stroke="#888" stroke-width="0.5"/>
<text x="582.5" y="543" font-size="8" text-anchor="middle" fill="#1e1e1e">60</text>
<line x1="582.5" x2="582.5" y1="533.4" y2="535" stroke="#888" stroke-width="0.5"/>
<text x="652.1" y="543" font-size="8" text-anchor="middle" fill="#1e1e1e">80</text>
<line x1="652.1" x2="652.1" y1="533.4" y2="535" stroke="#888" stroke-width="0.5"/>
<line x1="373.7" x2="373.7" y1="533.4" y2="535" stroke="#888" stroke-width="0.5"/>
<path d="M37.60,529.10 C38.50,529.18 41.27,529.47 43.00,529.60 C44.73,529.73 45.17,529.93 48.00,529.90 C50.83,529.87 54.67,529.47 60.00,529.40 C65.33,529.33 73.33,529.52 80.00,529.50 C86.67,529.48 93.33,529.23 100.00,529.30 C106.67,529.37 113.02,529.85 120.00,529.90 C126.98,529.95 134.60,529.65 141.90,529.60 C149.20,529.55 157.72,529.60 163.80,529.60 C169.88,529.60 174.75,529.75 178.40,529.60 C182.05,529.45 182.78,528.78 185.70,528.70 C188.62,528.62 192.25,529.27 195.90,529.10 C199.55,528.93 204.42,527.93 207.60,527.70 C210.78,527.47 213.03,528.07 215.00,527.70 C216.97,527.33 217.93,526.23 219.40,525.50 C220.87,524.77 221.85,523.62 223.80,523.30 C225.75,522.98 228.92,523.43 231.10,523.60 C233.28,523.77 234.97,524.47 236.90,524.30 C238.83,524.13 240.75,523.50 242.70,522.60 C244.65,521.70 246.88,519.73 248.60,518.90 C250.32,518.07 251.55,517.67 253.00,517.60 C254.45,517.53 255.85,518.03 257.30,518.50 C258.75,518.97 260.35,520.08 261.70,520.40 C263.05,520.72 263.93,520.65 265.40,520.40 C266.87,520.15 268.80,519.23 270.50,518.90 C272.20,518.57 273.65,518.45 275.60,518.40 C277.55,518.35 280.13,518.47 282.20,518.60 C284.27,518.73 286.07,519.08 288.00,519.20 C289.93,519.32 291.85,519.40 293.80,519.30 C295.75,519.20 297.98,518.18 299.70,518.60 C301.42,519.02 302.65,520.70 304.10,521.80 C305.55,522.90 306.70,524.47 308.40,525.20 C310.10,525.93 313.32,526.03 314.30,526.20" fill="none" stroke="#F8766D" stroke-width="1.15" stroke-linejoin="round"/>
<path d="M37.60,525.50 C38.28,525.42 40.05,525.48 41.70,525.00 C43.35,524.52 45.80,524.47 47.50,522.60 C49.20,520.73 50.57,517.33 51.90,513.80 C53.23,510.27 54.40,504.68 55.50,501.40 C56.60,498.12 57.15,495.93 58.50,494.10 C59.85,492.27 61.78,491.55 63.60,490.40 C65.42,489.25 67.45,488.00 69.40,487.20 C71.35,486.40 73.35,485.43 75.30,485.60 C77.25,485.77 79.17,487.20 81.10,488.20 C83.03,489.20 85.43,490.98 86.90,491.60 C88.37,492.22 88.43,492.53 89.90,491.90 C91.37,491.27 93.52,489.38 95.70,487.80 C97.88,486.22 100.57,483.58 103.00,482.40 C105.43,481.22 107.87,480.98 110.30,480.70 C112.73,480.42 115.17,480.73 117.60,480.70 C120.03,480.67 122.80,480.10 124.90,480.50 C127.00,480.90 128.58,481.45 130.20,483.10 C131.82,484.75 133.13,487.72 134.60,490.40 C136.07,493.08 137.53,496.27 139.00,499.20 C140.47,502.13 141.95,505.32 143.40,508.00 C144.85,510.68 146.00,513.23 147.70,515.30 C149.40,517.37 151.65,519.07 153.60,520.40 C155.55,521.73 157.70,522.45 159.40,523.30 C161.10,524.15 162.58,525.07 163.80,525.50 C165.02,525.93 165.48,526.07 166.70,525.90 C167.92,525.73 169.88,524.70 171.10,524.50 C172.32,524.30 172.53,524.42 174.00,524.70 C175.47,524.98 177.70,525.83 179.90,526.20 C182.10,526.57 185.02,526.70 187.20,526.90 C189.38,527.10 190.82,527.47 193.00,527.40 C195.18,527.33 198.12,526.58 200.30,526.50 C202.48,526.42 204.15,526.67 206.10,526.90 C208.05,527.13 210.52,527.70 212.00,527.90 C213.48,528.10 213.28,528.02 215.00,528.10 C216.72,528.18 219.87,528.40 222.30,528.40 C224.73,528.40 227.17,528.27 229.60,528.10 C232.03,527.93 234.47,527.35 236.90,527.40 C239.33,527.45 242.25,528.07 244.20,528.40 C246.15,528.73 246.65,529.23 248.60,529.40 C250.55,529.57 253.47,529.40 255.90,529.40 C258.33,529.40 261.02,529.68 263.20,529.40 C265.38,529.12 266.82,528.07 269.00,527.70 C271.18,527.33 274.10,527.38 276.30,527.20 C278.50,527.02 280.00,526.60 282.20,526.60 C284.40,526.60 286.83,527.07 289.50,527.20 C292.17,527.33 295.90,527.08 298.20,527.40 C300.50,527.72 301.83,529.05 303.30,529.10 C304.77,529.15 305.78,529.15 307.00,527.70 C308.22,526.25 309.38,522.47 310.60,520.40 C311.82,518.33 313.68,516.15 314.30,515.30" fill="none" stroke="#22B8C6" stroke-width="1.15" stroke-linejoin="round"/>
<path d="M377.70,529.30 C378.57,529.37 380.43,529.75 382.90,529.70 C385.37,529.65 389.43,529.07 392.50,529.00 C395.57,528.93 398.38,529.25 401.30,529.30 C404.22,529.35 407.08,529.30 410.00,529.30 C412.92,529.30 415.87,529.58 418.80,529.30 C421.73,529.02 424.97,527.98 427.60,527.60 C430.23,527.22 432.57,527.30 434.60,527.00 C436.63,526.70 438.05,526.87 439.80,525.80 C441.55,524.73 443.20,521.97 445.10,520.60 C447.00,519.23 449.55,517.88 451.20,517.60 C452.85,517.32 453.63,517.83 455.00,518.90 C456.37,519.97 457.93,522.53 459.40,524.00 C460.87,525.47 462.10,526.80 463.80,527.70 C465.50,528.60 467.42,529.17 469.60,529.40 C471.78,529.63 474.47,529.27 476.90,529.10 C479.33,528.93 481.52,528.52 484.20,528.40 C486.88,528.28 490.08,528.40 493.00,528.40 C495.92,528.40 499.27,528.65 501.70,528.40 C504.13,528.15 505.65,527.87 507.60,526.90 C509.55,525.93 511.70,523.93 513.40,522.60 C515.10,521.27 516.47,519.77 517.80,518.90 C519.13,518.03 520.18,517.40 521.40,517.40 C522.62,517.40 523.88,518.03 525.10,518.90 C526.32,519.77 527.62,521.38 528.70,522.60 C529.78,523.82 530.50,525.72 531.60,526.20 C532.70,526.68 534.08,526.07 535.30,525.50 C536.52,524.93 537.80,523.60 538.90,522.80 C540.00,522.00 540.55,520.98 541.90,520.70 C543.25,520.42 545.42,521.08 547.00,521.10 C548.58,521.12 550.10,521.28 551.40,520.80 C552.70,520.32 553.43,519.10 554.80,518.20 C556.17,517.30 557.85,516.02 559.60,515.40 C561.35,514.78 563.55,514.30 565.30,514.50 C567.05,514.70 568.63,515.58 570.10,516.60 C571.57,517.62 572.63,519.27 574.10,520.60 C575.57,521.93 577.03,523.40 578.90,524.60 C580.77,525.80 583.15,527.22 585.30,527.80 C587.45,528.38 589.65,528.15 591.80,528.10 C593.95,528.05 596.33,527.95 598.20,527.50 C600.07,527.05 601.40,526.42 603.00,525.40 C604.60,524.38 605.93,522.42 607.80,521.40 C609.67,520.38 612.32,519.43 614.20,519.30 C616.08,519.17 617.48,519.85 619.10,520.60 C620.72,521.35 622.03,522.60 623.90,523.80 C625.77,525.00 628.17,526.87 630.30,527.80 C632.43,528.73 634.57,529.40 636.70,529.40 C638.83,529.40 641.22,528.60 643.10,527.80 C644.98,527.00 646.25,525.40 648.00,524.60 C649.75,523.80 652.67,523.27 653.60,523.00" fill="none" stroke="#F8766D" stroke-width="1.15" stroke-linejoin="round"/>
<path d="M377.70,528.40 C378.72,528.20 381.33,527.33 383.80,527.20 C386.27,527.07 389.58,527.53 392.50,527.60 C395.42,527.67 399.25,527.83 401.30,527.60 C403.35,527.37 403.35,527.23 404.80,526.20 C406.25,525.17 407.97,523.80 410.00,521.40 C412.03,519.00 414.67,515.45 417.00,511.80 C419.33,508.15 421.95,502.77 424.00,499.50 C426.05,496.23 427.25,493.22 429.30,492.20 C431.35,491.18 434.40,492.47 436.30,493.40 C438.20,494.33 439.23,495.75 440.70,497.80 C442.17,499.85 443.93,503.67 445.10,505.70 C446.27,507.73 446.83,509.28 447.70,510.00 C448.57,510.72 449.13,511.45 450.30,510.00 C451.47,508.55 453.43,504.32 454.70,501.30 C455.97,498.28 456.75,494.25 457.90,491.90 C459.05,489.55 460.50,487.82 461.60,487.20 C462.70,486.58 463.53,487.17 464.50,488.20 C465.47,489.23 466.30,490.83 467.40,493.40 C468.50,495.97 469.77,499.95 471.10,503.60 C472.43,507.25 473.95,512.02 475.40,515.30 C476.85,518.58 478.33,521.60 479.80,523.30 C481.27,525.00 482.50,525.13 484.20,525.50 C485.90,525.87 488.05,526.03 490.00,525.50 C491.95,524.97 493.95,523.33 495.90,522.30 C497.85,521.27 500.00,519.92 501.70,519.30 C503.40,518.68 504.63,518.30 506.10,518.60 C507.57,518.90 509.03,519.95 510.50,521.10 C511.97,522.25 513.20,524.28 514.90,525.50 C516.60,526.72 519.00,528.03 520.70,528.40 C522.40,528.77 523.77,528.32 525.10,527.70 C526.43,527.08 527.62,525.55 528.70,524.70 C529.78,523.85 530.50,522.83 531.60,522.60 C532.70,522.37 533.72,522.70 535.30,523.30 C536.88,523.90 539.15,525.72 541.10,526.20 C543.05,526.68 545.52,526.20 547.00,526.20 C548.48,526.20 548.43,525.93 550.00,526.20 C551.57,526.47 554.27,527.48 556.40,527.80 C558.53,528.12 560.65,528.32 562.80,528.10 C564.95,527.88 567.42,527.48 569.30,526.50 C571.18,525.52 572.50,524.38 574.10,522.20 C575.70,520.02 577.30,516.35 578.90,513.40 C580.50,510.45 582.10,506.97 583.70,504.50 C585.30,502.03 586.88,499.98 588.50,498.60 C590.12,497.22 591.92,496.02 593.40,496.20 C594.88,496.38 596.07,498.05 597.40,499.70 C598.73,501.35 599.93,503.55 601.40,506.10 C602.87,508.65 604.60,512.32 606.20,515.00 C607.80,517.68 609.67,520.78 611.00,522.20 C612.33,523.62 613.13,523.90 614.20,523.50 C615.27,523.10 616.05,522.03 617.40,519.80 C618.75,517.57 620.68,513.32 622.30,510.10 C623.92,506.88 625.50,502.95 627.10,500.50 C628.70,498.05 630.30,496.55 631.90,495.40 C633.50,494.25 635.10,493.28 636.70,493.60 C638.30,493.92 639.88,496.02 641.50,497.30 C643.12,498.58 644.38,499.50 646.40,501.30 C648.42,503.10 652.40,506.97 653.60,508.10" fill="none" stroke="#22B8C6" stroke-width="1.15" stroke-linejoin="round"/>
<line x1="59.9" y1="31.2" x2="52.7" y2="46.800000000000004" stroke="#000" stroke-width="1.7"/>
<path d="M52.1,48.2 L50.5,40.9 L53.9,45.0 L59.1,44.5 Z" fill="#000"/>
<line x1="318.7" y1="31.4" x2="312.0" y2="46.7" stroke="#000" stroke-width="1.7"/>
<path d="M311.4,48.1 L309.8,40.8 L313.2,44.9 L318.4,44.4 Z" fill="#000"/>
<line x1="402.5" y1="31.4" x2="395.70000000000005" y2="46.4" stroke="#000" stroke-width="1.7"/>
<path d="M395.1,47.8 L393.5,40.5 L396.9,44.6 L402.1,44.1 Z" fill="#000"/>
<line x1="637.5" y1="31.4" x2="630.7" y2="46.4" stroke="#000" stroke-width="1.7"/>
<path d="M630.1,47.8 L628.5,40.5 L631.9,44.6 L637.1,44.1 Z" fill="#000"/>
<path d="M449.3,48.4 V40.6 Q449.3,39.6 450.3,39.6 H545.3 Q546.3,39.6 546.3,40.6 V48.4" fill="none" stroke="#444" stroke-width="1"/>
<defs><linearGradient id="g1" x1="0" y1="0" x2="0" y2="1"><stop offset="0.000" stop-color="#ff1900"/><stop offset="0.050" stop-color="#ff4220"/><stop offset="0.100" stop-color="#ff5c37"/><stop offset="0.150" stop-color="#ff714d"/><stop offset="0.200" stop-color="#ff8563"/><stop offset="0.250" stop-color="#ff9879"/><stop offset="0.300" stop-color="#ffab8f"/><stop offset="0.350" stop-color="#ffbda6"/><stop offset="0.400" stop-color="#ffcebd"/><stop offset="0.450" stop-color="#ffe0d4"/><stop offset="0.500" stop-color="#fff1ec"/><stop offset="0.550" stop-color="#fdfbff"/><stop offset="0.600" stop-color="#f0e5ff"/><stop offset="0.650" stop-color="#e3cfff"/><stop offset="0.700" stop-color="#d5baff"/><stop offset="0.750" stop-color="#c6a5ff"/><stop offset="0.800" stop-color="#b690ff"/><stop offset="0.850" stop-color="#a57bff"/><stop offset="0.900" stop-color="#9265ff"/><stop offset="0.950" stop-color="#7c50ff"/><stop offset="1.000" stop-color="#6239ff"/></linearGradient></defs>
<rect x="667.1" y="66.9" width="8.799999999999955" height="40.0" fill="url(#g1)"/>
<text x="667.1" y="64.3" font-size="4.6" fill="#222">value</text>
<text x="677.6999999999999" y="70.0" font-size="3.8" fill="#333">0.8</text>
<text x="677.6999999999999" y="79.8" font-size="3.8" fill="#333">0.4</text>
<text x="677.6999999999999" y="89.9" font-size="3.8" fill="#333">0.0</text>
<text x="677.6999999999999" y="100.0" font-size="3.8" fill="#333">-0.4</text>
<defs><linearGradient id="g2" x1="0" y1="0" x2="0" y2="1"><stop offset="0.000" stop-color="#ff1900"/><stop offset="0.050" stop-color="#ff4422"/><stop offset="0.100" stop-color="#ff5f3b"/><stop offset="0.150" stop-color="#ff7653"/><stop offset="0.200" stop-color="#ff8c6a"/><stop offset="0.250" stop-color="#ffa082"/><stop offset="0.300" stop-color="#ffb39a"/><stop offset="0.350" stop-color="#ffc7b3"/><stop offset="0.400" stop-color="#ffdacc"/><stop offset="0.450" stop-color="#ffece5"/><stop offset="0.500" stop-color="#ffffff"/><stop offset="0.550" stop-color="#f2e7ff"/><stop offset="0.600" stop-color="#e3d0ff"/><stop offset="0.650" stop-color="#d4b9ff"/><stop offset="0.700" stop-color="#c4a2ff"/><stop offset="0.750" stop-color="#b38bff"/><stop offset="0.800" stop-color="#a074ff"/><stop offset="0.850" stop-color="#8a5dff"/><stop offset="0.900" stop-color="#7145ff"/><stop offset="0.950" stop-color="#502bff"/><stop offset="1.000" stop-color="#0000ff"/></linearGradient></defs>
<rect x="667" y="283.8" width="7.899999999999977" height="36.099999999999966" fill="url(#g2)"/>
<text x="667" y="281.3" font-size="4.6" fill="#222">value</text>
<text x="676.6999999999999" y="285.8" font-size="3.8" fill="#333">1.0</text>
<text x="676.6999999999999" y="294.5" font-size="3.8" fill="#333">0.5</text>
<text x="676.6999999999999" y="303.6" font-size="3.8" fill="#333">0.0</text>
<text x="676.6999999999999" y="312.4" font-size="3.8" fill="#333">-0.5</text>
<text x="676.6999999999999" y="321.9" font-size="3.8" fill="#333">-1.0</text>
<defs><linearGradient id="g3" x1="0" y1="0" x2="0" y2="1"><stop offset="0.000" stop-color="#ff1900"/><stop offset="0.050" stop-color="#ff4422"/><stop offset="0.100" stop-color="#ff5f3b"/><stop offset="0.150" stop-color="#ff7653"/><stop offset="0.200" stop-color="#ff8c6a"/><stop offset="0.250" stop-color="#ffa082"/><stop offset="0.300" stop-color="#ffb39a"/><stop offset="0.350" stop-color="#ffc7b3"/><stop offset="0.400" stop-color="#ffdacc"/><stop offset="0.450" stop-color="#ffece5"/><stop offset="0.500" stop-color="#ffffff"/><stop offset="0.550" stop-color="#f2e7ff"/><stop offset="0.600" stop-color="#e3d0ff"/><stop offset="0.650" stop-color="#d4b9ff"/><stop offset="0.700" stop-color="#c4a2ff"/><stop offset="0.750" stop-color="#b38bff"/><stop offset="0.800" stop-color="#a074ff"/><stop offset="0.850" stop-color="#8a5dff"/><stop offset="0.900" stop-color="#7145ff"/><stop offset="0.950" stop-color="#502bff"/><stop offset="1.000" stop-color="#0000ff"/></linearGradient></defs>
<rect x="669.7" y="746.7" width="6.5" height="31.899999999999977" fill="url(#g3)"/>
<text x="669.7" y="744.7" font-size="4.6" fill="#222">value</text>
<text x="678.0" y="748.6" font-size="3.8" fill="#333">1.0</text>
<text x="678.0" y="756.3" font-size="3.8" fill="#333">0.5</text>
<text x="678.0" y="764.3" font-size="3.8" fill="#333">0.0</text>
<text x="678.0" y="772.3" font-size="3.8" fill="#333">-0.5</text>
<text x="678.0" y="779.9" font-size="3.8" fill="#333">-1.0</text>
</svg>
<script>
var A="ABCDEFGHIJKLMNOPQRSTUVWXYZabcdefghijklmnopqrstuvwxyz0123456789+/",P=["#0000ff", "#2b13ff", "#3f1fff", "#4e2aff", "#5a33ff", "#653bff", "#6e43ff", "#774bff", "#7f52ff", "#875aff", "#8e61ff", "#9569ff", "#9c70ff", "#a277ff", "#a87fff", "#ae86ff", "#b48dff", "#ba94ff", "#bf9bff", "#c5a3ff", "#caaaff", "#cfb1ff", "#d4b9ff", "#d9c0ff", "#dec7ff", "#e2cfff", "#e7d6ff", "#ecddff", "#f0e5ff", "#f4ecff", "#f9f4ff", "#fdfbff", "#fffcfb", "#fff6f3", "#fff0ea", "#ffeae2", "#ffe4da", "#ffded2", "#ffd8ca", "#ffd2c2", "#ffccba", "#ffc6b2", "#ffc0aa", "#ffbaa3", "#ffb49b", "#ffae93", "#ffa88b", "#ffa184", "#ff9b7c", "#ff9575", "#ff8e6d", "#ff8866", "#ff815e", "#ff7a57", "#ff734f", "#ff6c48", "#ff6540", "#ff5d39", "#ff5531", "#ff4c29", "#ff4221", "#ff3818", "#ff2b0d", "#ff1900"],H={"C": {"box": [35, 166, 314.2, 437], "n": 80, "d": "//umnnnmkjihgeddddddddddccbbbbbbbccdddeeffggghijklllkjjjkkkjjijklnnljihhhhhgfedd//6umnnmkjihgeddddddddddccbbbbbbbccdddeeffggghijklllkjjjkkkjjijklnnljihhhhhgfeddu6/6ummmlkihgfeeeeeeeeddccbbaaabbcccdddeeffghhijkllkkjjjjkjjjijklmmljhhhhhhgfeeemu6/6umllkjihggggggffeeddccbaZZabbcccccddefghhijjjkkjjjjjjjjjjjklmlkihggghhgggffnmu6/6umllkjihhhhhhggfeeddcbaYYZabbbbbbccdeghiiiiiijjjjjiiiijjkkllljhgfgggggggggnnmu6/6umllkjiiiijihhgfeedcbZXXYabbbaaabbcdfhijiihhijkkjihhijjkkklkihfefggghhhiinnmmu6/6umlkjiijjkjihggfeedbZYXYabbbaaaabcdfhijihgghikjihgghikkkkkjigfeffgghhhhhmmmlmu6/6umjihhijkkjihggfedcaZYZabbbbaabbcdfgiihhgghijjihgghikkkjjihgfeffgggggggkklllmu6/6umhggikllkjihggedcbaaabbcbbbbbbbceghihgfghijjhgffhikkjiihggffffggffeeejjkkllmu6/6umfgikmmlkjihgfedcbbbbcccccccbbceghhggffghiihgefgijkjihgggffffgfeddcciiijkllmu6/6umfhjlmlkjiihgfeddccccccccccbbcdfgggfffghiihgeeghjjihgfffffgggfedcbbhhhijkkjmu6/6umhikkkkjjiihggfeeeddddcccbbbbcdefffffghiihfddfhiihgeeefffggggfecccggghijjihmu6/6umhijjjjjjjiihhggffeddccbbbaabcddeefgghiigfddeghhgedddeffgghhfedcceefghiihgfmu6/6umhhijkkkkkjjiihggfedccbbaaaabbcdefgghihgeccdfggedcbcdefghhhgedccddeghiihggfmu6/6umgijkkkkkkjihhgffedccbaaZZZaabcdefghihgfdcdfggedcbcdefghhhgedccddeghijiiihhmu6/6umijkkkkkjihfeeeeddccbaZYYZabccddeghiihfedfghhgedcdddefghgfdcbbddeghijjkkjihmu6/6umjkkkkkjhfdcccccccbbZYXXZacccccdfgiihgffghiihgedddddefggedbaaddeghjkklmlkihmu6/6umkkkkkigdaZaabccbbbZYWWYacdcbabegijihgghijjihgeedccdeffecaZZddeghijklmmkjhgmu6/6umkkkjigdZYZbcccbbaZYWXZacdcbabdgiihgfghijjihgeedccdeffdcaZZddefghijkllkjiiimu6/6umkkkjgebabdeedcbaZYYYabddcbbbdfghgfeeghiihgeddcccdeeedcbaaddefghhijkkkjjjjjnv6/6vnkkjhfccdeggecbaaZZZbcddccbcdeffedddeghhgedcccccddeedcbaaddeefgghijjjjkkkkknv6/6vnkjigedfghhfdbaaaabccdddccccdddccbcdeggedcbbcccdddddcbbbdddeefgghiijjkkkkkknv6/6vnjigffghjigebabbbccdddddccccccbbabcdeedcbbbccddeeeeddccddddeefgghiijkkkkkkknv6/6vnigffhikjhgdcccccdddddccccccbbaZabcddcbaabcdeffgggffeecccddeefgghijkkkkkkkknv6/6vnhfghjlljheddddddddddccccccbaaZZZabbbaaabcefghhihhgggccccddeeefghikkkkkjkkknv6/6vnggikmmkigfeedddddddccbbbbbaZYYYZaaaaZabdeghijjjiiiibbbcccdddefgijkjjiijjjjnv6/6vnhikllkihgffeeeedddccccbbbaZYYYZZZZZZabdfghikkjjjiibbbbbbbccdeghjjihggghiiinv6/6vnijjjjihgggffeeedddddccbbaZZYZZZZZZZabdfghijkjjiiibbaaaZZabcdfhiihfddefggghnv6/6vnhhhhhhhhgggfeedeeeedcbbaaZZZaaaZZZZbdfghijjjiiiibbaZYXYZabdegihfdaZbcefffgnv6/6vnggghiiihhggfeeeefedcbaaaaaaaaaZZYZbdfghijjjiihhbbaZYXXYabceghhecZYacdffgghnv6/6vneghiiiihhgfeeeffedcaaaaaaaaaaaZZZbdfghijjiihhhbbbaZYYZabcefggecaZbdfghhiiinv6/6vngghhiiihggfeeeedcbZZZaaaaaaaaaabcefghijjiiihhbbbbaaaabbcdfgfecabdeghijkkjhnv6/6vngghhiiihgffeeedbZYXYZaaaaaaabbcdefghiijiiiiicccbbbbbbccdeffecbceghjklmljhgnv6/6vngghhiihggfeedcaYWWXZaaaaZabbcdeffghiijiiiiiccccbbbbcccddeedccceghijlmljhgenv6/6vnghiijihggfedcaYXWYZabaaZZbcdeeffgghiiiiiiiddccbbbbbccdddddcccdefghjkkjhgggnv6/6vnhijjjiihggfdcaYYZbccbaZZbcdeefffghiiiiiiidddcbaabbccccccccbbccdeghiiihhhggnv6/6vnijjjjjihhgfdcaabcddbaZZaceffeefgghiiihhhdddcbaaabcccccccbbbbbbbdeghhhiihggnv6/6vnjkkkkjiihgfdccddeecaYYaceffeeefghhhhhhheedcbaaabcccbbbbbbaaaaacdfgghiihhggnv6/6vnkkkjjjihhgedddefedbZZbceffeeefghhhhhhheeedcbabbccbbbaaZZZZaabcdefghiiihhhhnv6/6vniiiiiihhgfdddeeedcbbcddeefffgghhhhhhhffedcbbbbbbbbaaZYYYYZabcdefgghiiihiiicc3/3cchgghhhhgfeddeeedddcddddefggghhhhhiiifffedcccbbbbaaZYXWWYZabcddefghhiiiijjjcc3/3ccffghihgfedddeeeeeeddccefghhhhhhiiiiggffedddcccbaaZYXWXYZbccddefgghhiijjjkkcc3/3ccefhiihgeeeddeefffedbcdfghhhghhhhhhgggggfffeedcbaZZZYZabccdddeefggghhijjkkicc3/3ccghiihgfeeedeefffdcabdfghggfffgggggghhhhhgggfdcbaaaaabccddddeeeffggghijkkihcc3/3cchiihgffeeeeefffdbZaceghgfeddeeeehhhhiiiihhgedbabcccddddddddeeeeffggijkjigfcc3/3cciihhgffeeeefffdbZZbeggfecbccccciiiiijjiihgfdcbccddddddddddddeeeffghijjigfecc3/3ccihhggffeeffgfdbZZbeggfdcbbbcccjjjjiiihhggfedcccccccdddddddeeeeeefghijihgfgcc3/3cchhhggggggggfecaacefgfedccccddkkkjiihhggffeeddcbbbccdccccdeefeeeeghiiihhhhhcc3/3cchhhhhhhhhhgfdcbcdefeeeeeddddllljihggffffffedcaabbccccccdeffeeddfghhhhiiiiicc3/3cciiiiiiihhggeddddeeeffffeeeelllkihgggfffggfedbbbcccccbcdeeeddccdfghhhhiiiiicc3/3cciiiiiiiiihgfeeeeeffffffeeellkkjihhhgggggggfedddccccbccdddcbaacdfgggghhhhhhcc3/3ccghhhijkkihgggffffffffeeeekkkjjjiiihhhhhhhgggfedcccbbccccbZYYacdefffggghhhhcc3/3ccffgijllkjihhggggggffedddjjjjjkkjjiiiiiiiiiigfdcccbbbbbaZYWXYacddeeeffgghhicc3/3ccdfiknnmljiihhhgggfeedccjjjjjkjjjiiiihhiijihfdcbbbbbbaaZXWWYacddddeeffgghiicc3/3ccfiloonmlkjihhggfeeddccjjjjjjiihhhhggghhihgecbbaaaaaaaZYXYZbdddddeeeffghiigcc3/3cciloponmlkihgffeddddddkkjjiihhgggffeffghgfdcbaaZZZaaaaZZZbcdeeeddeeefghiihfcc3/3cclopoonmkjhgfdccccdddkkkjihggfeeddcdefgfedbaZZYYZZaaaaaacdefeeeddeeeghiihfdcc3/3ccoppponljhfecbabcdddkkjjihggffeddccdfggedcbaZYYYZaaaaabcdeeeeeeeeeeghiihgffcc3/3ccooppoljhfecaabccddjjjjiihhhggfeddfghhgedcbZYYZZaaaaaabbcdddeeeeefghiiiiiiicc3/3ccnoonlkigfdcbbbcccjjjjjjiiiihhgffghiihgedcaZZZaaaaaaaaaabcdefffffghhijjklllcb3/3bcnonmkihgedcbbbbbiiijjjkkkjjihgghijjihgedbaZZaaaaaZZZZYZbdeffffgghhiklnoooocb3/3bcnnmkjigfeccbaaajjjjkkkkkkjihgghijjihgedbaZZaaaaaaZZZYZbceffffffggiklnopppocb3/3bcmlkjihgedcbaaakkkkkkkkjjihgeeghiihgedcbaZZZZaaabbbaabcddeddddefghikmnooponcb3/3bckjjihfedccccclllllkkjiihgeddeghhgedcbaaZZZZZabbcccccddddcbbbcdeghjlmnopponcb3/3bcjjihfdddddddnnmmllkjihgedccdeggedcbaaZZZZYZabcddeeeddcbaZZZacdfgijlmnopooncb3/3bciihfdddeeffnnmllkjihgfedbbcdeedcbbaaaaaZZZbcdeefffedccbaZZabdeghiklmnonnnmcb3/3bcigfedefggglllkjiihggfedccddeedcbbbbbbbbbbcdeeefffeeeddcbbccdeghijkklllmmlkcb3/3bcggffgghhhjjjihhggggffeddddddccccccddddddeefffeeefffffeeeeddefghiijjjkkkkjjcb3/3bcgghhiiiiiihhgffffffffeeddccccccdeeffffffffffeeefgggggggfeeefghhhhhhiijjjjicb3/3bciijjjkkhhhgfeeefffffffedcccccdefggggggggggffeefghhhhgggfeefghhggffghiiiiiicb3/3bcijjkkkhhhggfffffgggggfeddddddfghhhhhhhhhgggffgghhggfffeeffgggffeefgghhhhggcb3/3bcijjkkhhhgggffffggghhgfeeeddefhiiiiiiiiihhgggghhhgfedeefffgggfdccdefgffffggcb3/3bcijkkhhhhgggggggghhhhgffeedeghjkjjjjjiiiihhhhhhgfeccdefffggfecbacdeeeddefgicb3/3bcjjjhhhhgggggffghhhggffeedegijkkjjjjjjiiihhhhhhfdbbcefffffedcaabccdddddfhiicb3/3bckkggggghhgfeeffggfeeddddeghjjjjjiiiiiiihhhhhhfdcbceffffeedcbbbbcccddeghjjicb3/3bclfffgghhgfddeeeeddcccccdfhijjiiiiiiiiihhhhihgecbcdefeeeddcccbbbbcdefgijjjicb3/3bceeegghhgedccdddcbaabbbdfgijiiihiiiiihhhhiihgecccdeeeddddddccbaacdeghijkjjjcb3/3bddefgihgecbccccbaZZaabcegiiiihhhiiiihhhhiihgeccddeeedccddddcbaacdfghikkkkjkcb3//ddefgihgecbccccbaZZaabcegiiiihhhiiiihhhhiihgeccddeeedccddddcbaacdfghikkkkjklcb//"}, "D": {"box": [374.9, 165.8, 653.3, 437], "n": 80, "d": "//0unjqleacccdffdcaaachiiiiiiihgdcccccaacehigebacdfioqpnifdehihhijjjjjjihjmnmljj//60unjmfbbcccddcbaZadijiiijjjigdbbbbbabdgiihebaaceinqqnjgefghgghjkkkkkjiikmmlkj06/60unjhdbaabbbZZYZbekljiijkkjgcaZZZZZcgijihfcZYZdinqqolihggfccgjlmmmmljiijmmlku06/60unjebZZZZYXXXYZdjljijklljgbYXXXYadijihhgdaXYdhmoonljhggebbfilmmmmlkihiklkjnu06/60unjZXYYXWWWXXWZfijklllkheZWVVWXaehiffhigdZZcgkmlkjhfegfcdgiklkkkkkjiiiiiijnu06/60unjZZZXWWWXWUWcgjllljhfdaYXXXYadggefhiheaZbeijiiiigghhfeghiihhhhiihhgfffqjnu06/60unjecYWWWWVSUafjlljgeccddedbaabdeegihfcaabdefegkmmljihgggfeeeeeeeedcccclmjnu06/60unjgcZXWVURUbgijigdbabfhhhfdcbbcfhhgecccccbbcglopokihgfedcddccccdcaZZZefhjnu06/60unjkhbYVTSWehgedcaZZcgijjhgfdabghfeddffdbaabgmqqolhfdcbcdeedcbbedZXYYabdejnu06/60unjlfZVTSXgidaYXWXZchklkigfcZaghfdceggdbZachnqqokgdaZabdffdcbcfeZWWXcbbbZejr06/60rjehbVSTYhibWTSTVYcilmligdaYagigedehgcbbcehnqqokfaXXYbdffdccdgfaWVVccaZXZejr06/60rjeeXUVaiiZTPOQTYdilnmjfbZZcijhfdehgcbdfgjnpqnicXUVXadggfedehgbXVVccaZYZeejr06/60rjebYYckiYRMMPTXdilnmjfaZaekmigddffbcfijlnpolfZTRTWaehjjheeggbZXXdcbZYZcgejr06/60rjedcfkiYQNNQUYdilmlifaZbfmnjhfefebchjkmoonkdXSQTWaeijjiedgfcaZYfdbZXXYckejr06/60rjehiliYSQRTWaeiklkifbZaelnkihghfcciklmnnmidYTSVYbehiihedffdbaZfdbYWWWZhlejr06/60rjekieYVVWXZbehjjjjhfcbekmkjiiigddhiijjjigdaXXZabceffedeffdcbadcZXWWWXbfhejr06/60rjecXXYbcddcdghhillkheehkllkjjigeeecbbabcdefffebaaaabefggdccccbZXWWWWYZbeejr06/60rjeSVZeggfddefgimnnkecfilmllkjhfdaXWVVWZdhjkjgcZYXXZdghgedddaaYXXXWVVVVXbejr06/60rjeUZfihgdcdegjnooldacglnmlljhecZVTSSUXdhlnlieaWVWYdghhffffaZZYXWVUTTSUYdejr06/60rjecghhgedccegjlnlfcdfiklljihfdbYWVUVXcgijigebZZacefffffggaabZWUSRSSTVYchchp28/82phcgfghfdaZZZbeikkjhfceklhfghhggfecZZccZYYZbdfhjjhfdcdeghcdedZWUUWXYacfikchp28/82phcfeddbYXYYYadgijifYZikfefgijllkjgedaUSTVZeimonhdbabdfghikjfcabeghikklicchp28/82phcbXWVWYcdaYWWaeigXXfigecdgjmoppnlhbURSUYdimpnhcbaabddijlligfghiiiiiieXSchp28/82phcYVTUXdebXTSXchgXWdggebbeimoqrqnidYWWYaehknlgdcccddeiijjjjjigdbZYYYYXVUchp28/82phcaVTVbcZWTUZdhfXWdggebbdfjlnonliggghhggghjigffgghhhiiiiklljeaWTRQSVYZZcchp28/82phcaWVYZYXWYdffcXYegfdccdeghjjjihilnnmjgedeefghijkkkiiijlllidYTPMNQVbefggchp28/82phcaWVVXZdgigaWWaghdcdefedcccbdfiorrplgbYXZdgijklmmijjklljgcXSOMNRWcgihffchp28/82pcWUUUWcnoncWUWlmlcbeggfdaXWWYchnrsrmhaXXZdgijlmnnijklljgdaWTQPQTXdghhgebchp28/82pURRRUcorocURUmnmcafhiifbWTUWafkoqqnjdbcdfghiklmmijklkhebZXVTTUWZdfgghdXYchp28/82pRRRUcorocURUmnmcafijjhdXUVWZdilnomjgefgggghjkklhijjhfcaZZYYXYabcddefdWVabgn08/80nUUWcnoncWUWlmlcbfijkigaYYZZcfikkkjhghggggghiiiggggedcbcccdddeeddcddbVTVabcn08/80ncccccccccccccddegijjifddcbbcdefgghhhgffeeffffddcbZadfghiiiiihgedcaYWUTWaWUn08/80nccUSUcprpWUWefccgijkjjigdaXVVWZcfggfedcbaaaacbaYWYdhikllllkjhfecZXYXVVWURRn08/80ncSOScrurURUfgbafijlnnmkgbVSQSVZdggfdcbaZYYYcbZXVXehjlmnnmljhggeZYcdbYVURRUn08/80nSOScrurURUfhbaehjmpqpnidWSRRTXdgggdccbaZYYcbZXVXdhjklmmlkjiijgZYdecZVURRUcn08/80nOScrurURUehbaehjlopomjfaXVVVYceffededcbaacbZXWXbfhiijjiijlmnjbYabZYXWUUWccn08/80nUcprpWUWegbbfhiijkkjjigffdbaaabcefhhgfeecbZYXYadgggffffhlnoleaYXWXZcccccccn08/80ncccccccefccefeddddfiklllieaXXXaegijihggaaZaaaacffdbaabfknonidWTTWdnooncUSSn08/80nUSUoqofeedcaXVVVVainpppleZVTUXdhjjjiggabcdedbbdcaZZZZchkllkgWSUYgorrocSOOOn08/80nOSqsqgdffdaWTSRSXglpqqoicYVUWcgjkjihgcdgihgdbaZYZababeedfkiaXZdinooncUSSSUcp6/6pcUoqogdfggfaWUTUWafknpqolhdZZcfijjiiiegijigecbaacefeeecacjjecdfgccccccccccccp6/6pccccgeefggedaZaaZbfikllljhfddeghhggghijifeefgggikmlkhfcdhiihhfaWUUWcprrrpcUcp6/6pcTVdfcbbdjlkkjgdaZYZabdhjjigeeddbaZiiihffghhhijmnnmkigfffggfcWURRUcruuurcSOcp6/6pcTefcZZckonnmjfcZYYZacgijjhfdcbbZYghhhhhihffghijkklllicYXXXXWWUUWcprrrpcUSUcp6/6pciebaZcjllkkigffghijiffghhgddeeeeeefgiihgedefghijlmnkeZXWWYalmmlcWUUUWcoqoccp6/6pchebabfgfffffgikmnnlfcdfhgeefghhbbcdghfedcdddfhiklmlkifddegmnnmcURRRUcqsqcTcp6/6pcifaYZZXXYacfilnooleaacghgfghiiaaZadeccdeeedegijllllkiggghlmmlcWUUUWcoqocVTcp6/6pcjdZZYXXYZadgjkllidZZbghfeffghcaYXZaacfghhffhijkljhfgggfdccccdeffeeefgggdeicp6/6pcheeefedcaacdeddcaabdggcaabccdcZYZZacfgggfefgijjifeeeedcbaabdfghhgfeddeffehcp6/6pcjhghhfcaZbbcbaabbcdgfbaaabbfeddcbbcddccbbcdghhhgfcbbcdefffecbbbbceffeccbchp28/82phcgfbabcdeffffeeddffeeffeeiiihgedcbbbbcccdefefhgdbbceghiigcaaabcdfgfbZabchp28/82phceZYabdfhiiihfddfgghiihhonnmkiebaZbdfhihedcdhigeddfgijjigfeefecdggbZZaachp28/82phcZWXYadhjkkjgccegiklllkqqqomjfbaacfijkieaZbgjjifeefijkjiihhhfaafgdccbYZchp28/82phcXWWXafiklkiecdgikmmllpqqoliecbcegjklicXVYglmmjgddfhijjjjjieXWaejkjfZZechp28/82phcWUUWbfiklkhecdgijkkjnnonkiggghhjlmmjbWTWfloolhcabdgiklmlidVTWdlolgZYegchp28/82phcWSSWaeilmkidceffgggijlljiklmnnnnonjbVSVekpqnjcXWXafjnpojdVSUaknlfXXfhgchp28/82phcSOQTYeknomhdaZZZaafgijhimoqqqpponjaVSUcjprojcWTUYdjnqpkdVRTZknkfXXehfechp28/82phcNNQVckoqoidYVVWXXdehhfgmpqqqqonmibWUVZgnqnjbWUVYdimpokdVSUajmkfYYdfbZZchp28/82phcORWdjnpoidXUUVWWefggegloooonlkigcZXXZelnlidYWWZcgknmjfaXWagjifaZccaYWXchp28/82phcVZdhkonkgaXVVVVhgggghjklkkifddddddccdhiihfcaZZbdgijjiigaZdfgfcaaabaXWWchr28/82rhcccbfknnlhdZWVUihfefhiihgfcZXYaehhgcabdgiihfdcbabdfiknlfbacfgfdaZcbYWUWchr28/82rhcdZagkmnlieaZYhgcbcfhhfdaXTSTXfjliZUUYglonkifcXVWaglppkfZZfiigcbddaXUSSchr28/82rhcYWaejmmljihghgcbdeggdaXURQSXfknjYSRWgnrrolidVSSXflpqniYYgkljdbefdaWSONchr28/82rhcVVZglnonnmlihgfgggfcZXVTTVZfjliYTSWhnrsqnkeVQRVflpqpkZYhmnkecfhhfbWQNOchr28/82rhcTWeknpppoojjjiihgebaYXWWYaegigZVUYhmprqokfWSRVdiloqlaZinoldbfijifaTQRVchr28/82rhcXchmpqqppjkllkifdcbbaaabbbceebZYagjlmnmkgZVTVbeeiolbajnoldafikkieYVWZcchr28/82rhcadknppppjkmmliecddddeeecaZabdedeggghjjjgcZXYaaZclldcillicafiklkiecddcdchr28/82rhcdgjlmmnjkmmkhedeffghiheaYWZfiihgebadghhfddcaXVYhjhgffedabehjkllkkjhbZYchr28/82rhcbaeghijkmmkhedeffgjjifaXVZhmmkhdYXbeghgggeaXTVdhjifcaZabefgikmnonkfaWVchr28/82rhcYZadejkmmkhecdddfjjifaXWajopnjeXXcfhhgggfbXUUZfjjgdaZbcddcehkoqpokgaVTcgmx6/6xmgcWVZbijllkheccccehihebZYcjnnlieZZdgggffgfcaXWZdijhfcbddddcceimoonnkeZWXcgmx6/6xmgcTYbhijkkiecbbcdeeededdehhhggfddfggfeddeeedccdghhhggggffedcdhiiknmjgecacgmx6/6xmgcbejiiijiecbcdeeddefggffdcdfggggggfdccdfghgfeefgghhgffgggdcdddglnmlkhddcgmx6/6xmgcimkihihedefghggffghhfdbbcfhiihggecbcehijjigeddegfcbegiigeaYXahlmnnmkgbcgmx6/6xmgcnmjiihdcdefggfffgghfcaacgijjihgebabdhjjkjhdcdefeaaehkkifZVUXdiloppnjaYcgmx6/6xmgmmmkigcaZZabbcdddeffdbacgjklkjhfaZacgijjjhdbefgfaafilmjfZVUVZejnpqpleZWcgmx6/6xmllmlifcZXWWXZabccdffedbdhklmlkifaYZbfhiiigbbeghfbafilmkgZWVVWainpqpmgaVTcgmx6/6xjklkifcZYWVVXZabcdfggfddhkmnmkifaYYaegghigaZehigcbehllkgaXWVVZhmoppmhdZYbcgmx6/6jjkjifcZYXVVXYZacdfghgdehkmnmlifaYYaegggigZYehihcbehkljgaXWVUYgloppniebbeicgmx6/"}, "G": {"box": [35, 625.5, 315, 897], "n": 80, "d": "//yrjeieaYabccccaaaaachiiiiiiihgdcccccaacehigebacdfioqpnifdehihhijjjjjjihjmnmljj//6yrjefbZabcdddbaZZadijiiijjjigdbbbbbabdgiihebaaceinqqnjgefghgghjkkkkkjiikmmlkjy6/6yrjeebabcdfebZZZbekljiijkkjgcaZZZZZcgijihfcZYZdinqqolihggfccgjlmmmmljiijmmlkry6/6yrjedaZabddaYYYZdjljijklljgbYXXXYadijihhgdaXYdhmoonljhggebbfilmmmmlkihiklkjjry6/6yrjeZXXXXXXXXXWZfijklllkheZWVVWXaehiffhigdZZcgkmlkjhfegfcdgiklkkkkkjiiiiiiejry6/6yrjebZXVUVWXWUWcgjllljhfdaYXXXYadggefhiheaZbeijiiiigghhfeghiihhhhiihhgfffiejry6/6yrjegbWUVWXWSUafjlljgeccddedbaabdeegihfcaabdefegkmmljihgggfeeeeeeeedccccefejry6/6yrjegaXWWWVSUbgijigdbabfhhhfdcbbcfhhgecccccbbcglopokihgfedcddccccdcaZZZabeejry6/6yrjehdYVVUSWehgedcaZZcgijjhgfdabghfeddffdbaabgmqqolhfdcbcdeedcbbedZXYYYZbdejry6/6yrjeibXVTSXgidaYXWXZchklkigfcZaghfdceggdbZachnqqokgdaZabdffdcbcfeZWWXaaaaZejr06/60rjegbWTTYhibWTSTVYcilmligdaYagigedehgcbbcehnqqokfaXXYbdffdccdgfaWVVbbbZXbejr06/60rjefYVVaiiZTPOQTYdilnmjfbZZcijhfdehgcbdfgjnpqnicXUVXadggfedehgbXVVcccaXZgejr06/60rjecYYckiYRMMPTXdilnmjfaZaekmigddffbcfijlnpolfZTRTWaehjjheeggbZXXcddbXXbgejr06/60rjedcfkiYQNNQUYdilmlifaZbfmnjhfefebchjkmoonkdXSQTWaeijjiedgfcaZYcdfdXVWahejr06/60rjehiliYSQRTWaeiklkifbZaelnkihghfcciklmnnmidYTSVYbehiihedffdbaZcdedXUUXdiejr06/60rjekieYVVWXZbehjjjjhfcbekmkjiiigddhiijjjigdaXXZabceffedeffdcbaabbaXVVWYbgejr06/60rjecXXYbcddcdghhillkheehkllkjjigeeecbbabcdefffebaaaabefggdcccaaZYXWWWVXbfejr06/60rjeSVZeggfddefgimnnkecfilmllkjhfdaXWVVWZdhjkjgcZYXXZdghgedddaZZYXXXWVVWYcejr06/60rjeUZfihgdcdegjnooldacglnmlljhecZVTSSUXdhlnlieaWVWYdghhffffaZZYXWWVUTTVYdejr06/60rjecghhgedccegjlnlfcdfiklljihfdbYWVUVXcgijigebZZacefffffggaabZWUSSSSTVYchchp28/82phcgfghfdaZZZbeikkjhfceklhfghhggfecZZccZYYZbdfhjjhfdcdeghcdedZWUUWXYacfikchp28/82phcfeddbYXYYYadgijifYZikfefgijllkjgedaUSTVZeimonhdbabdfghikjfcabeghikklicchp28/82phcbXWVWYcdaYWWaeigXXfigecdgjmoppnlhbURSUYdimpnhcbaabddijlligfghiiiiiieXSchp28/82phcYVTUXdebXTSXchgXWdggebbeimoqrqnidYWWYaehknlgdcccddeiijjjjjigdbZYYYYXVUchp28/82phcaVTVbcZWTUZdhfXWdggebbdfjlnonliggghhggghjigffgghhhiiiiklljeaWTRQSVYZZcchp28/82phcaWVYZYXWYdffcXYegfdccdeghjjjihilnnmjgedeefghijkkkiiijlllidYTPMNQVbefggchp28/82phcaWVVXZdgigaWWaghdcdefedcccbdfiorrplgbYXZdgijklmmijjklljgcXSOMNRWcgihffchp28/82pcWUUUWcnoncWUWlmlcbeggfdaXWWYchnrsrmhaXXZdgijlmnnijklljgdaWTQPQTXdghhgebchp28/82pURRRUcorocURUmnmcafhiifbWTUWafkoqqnjdbcdfghiklmmijklkhebZXVTTUWZdfgghdXYchp28/82pRRRUcorocURUmnmcafijjhdXUVWZdilnomjgefgggghjkklhijjhfcaZZYYXYabcddefdWVabgn08/80nUUWcnoncWUWlmlcbfijkigaYYZZcfikkkjhghggggghiiiggggedcbcccdddeeddcddbVTVabcn08/80ncccccccccccccddegijjifddcbbcdefgghhhgffeeffffddcbZadfghiiiiihgedcaYWUTWaWUn08/80nccUSUcprpWUWefccgijkjjigdaXVVWZcfggfedcbaaaacbaYWYdhikllllkjhfecZXYXVVWURRn08/80ncSOScrurURUfgbafijlnnmkgbVSQSVZdggfdcbaZYYYcbZXVXehjlmnnmljhggeZYcdbYVURRUn08/80nSOScrurURUfhbaehjmpqpnidWSRRTXdgggdccbaZYYcbZXVXdhjklmmlkjiijgZYdecZVURRUcn08/80nOScrurURUehbaehjlopomjfaXVVVYceffededcbaacbZXWXbfhiijjiijlmnjbYabZYXWUUWccn08/80nUcprpWUWegbbfhiijkkjjigffdbaaabcefhhgfeecbZYXYadgggffffhlnoleaYXWXZcccccccn08/80ncccccccefccefeddddfiklllieaXXXaegijihggaaZaaaacffdbaabfknonidWTTWdnooncUSSn08/80nUSUoqofeedcaXVVVVainpppleZVTUXdhjjjiggabcdedbbdcaZZZZchkllkgWSUYgorrocSOOOn08/80nOSqsqgdffdaWTSRSXglpqqoicYVUWcgjkjihgcdgihgdbaZYZababeedfkiaXZdinooncUSSSUcp6/6pcUoqogdfggfaWUTUWafknpqolhdZZcfijjiiiegijigecbaacefeeecacjjecdfgccccccccccccp6/6pccccgeefggedaZaaZbfikllljhfddeghhggghijifeefgggikmlkhfcdhiihhfaWUUWcprrrpcUcp6/6pcTVdfcbbdjlkkjgdaZYZabdhjjigeeddbaZiiihffghhhijmnnmkigfffggfcWURRUcruuurcSOcp6/6pcTefcZZckonnmjfcZYYZacgijjhfdcbbZYghhhhhihffghijkklllicYXXXXWWUUWcprrrpcUSUcp6/6pciebaZcjllkkigffghijiffghhgddeeeeeefgiihgedefghijlmnkeZXWWYalmmlcWUUUWcoqoccp6/6pchebabfgfffffgikmnnlfcdfhgeefghhbbcdghfedcdddfhiklmlkifddegmnnmcURRRUcqsqcTcp6/6pcifaYZZXXYacfilnooleaacghgfghiiaaZadeccdeeedegijllllkiggghlmmlcWUUUWcoqocVTcp6/6pcjdZZYXXYZadgjkllidZZbghfeffghcaYXZaacfghhffhijkljhfgggfdccccdeffeeefgggdeicp6/6pcheeefedcaacdeddcaabdggcaabccdcZYZZacfgggfefgijjifeeeedcbaabdfghhgfeddeffehcp6/6pcjhghhfcaZbbcbaabbcdgfbaaabbfeddcbbcddccbbcdghhhgfcbbcdefffecbbbbceffeccbchp28/82phcgfbabcdeffffeeddffeeffeeiiihgedcbbbbcccdefefhgdbbceghiigcaaabcdfgfbZabchp28/82phceZYabdfhiiihfddfgghiihhonnmkiebaZbdfhihedcdhigeddfgijjigfeefecdggbZZaachp28/82phcZWXYadhjkkjgccegiklllkqqqomjfbaacfijkieaZbgjjifeefijkjiihhhfaafgdccbYZchp28/82phcXWWXafiklkiecdgikmmllpqqoliecbcegjklicXVYglmmjgddfhijjjjjieXWaejkjfZZechp28/82phcWUUWbfiklkhecdgijkkjnnonkiggghhjlmmjbWTWfloolhcabdgiklmlidVTWdlolgZYegchp28/82phcWSSWaeilmkidceffgggijlljiklmnnnnonjbVSVekpqnjcXWXafjnpojdVSUaknlfXXfhgchp28/82phcSOQTYeknomhdaZZZaafgijhimoqqqpponjaVSUcjprojcWTUYdjnqpkdVRTZknkfXXehfechp28/82phcNNQVckoqoidYVVWXXdehhfgmpqqqqonmibWUVZgnqnjbWUVYdimpokdVSUajmkfYYdfbZZchp28/82phcORWdjnpoidXUUVWWefggegloooonlkigcZXXZelnlidYWWZcgknmjfaXWagjifaZccaYWXchp28/82phcVZdhkonkgaXVVVVhgggghjklkkifddddddccdhiihfcaZZbdgijjiigaZdfgfcaaabaXWWchr28/82rhcccbfknnlhdZWVUihfefhiihgfcZXYaehhgcabdgiihfdcbabdfiknlfbacfgfdaZcbYWUWchr28/82rhcdZagkmnlieaZYhgcbcfhhfdaXTSTXfjliZUUYglonkifcXVWaglppkfZZfiigcbddaXUSSchr28/82rhcYWaejmmljihghgcbdeggdaXURQSXfknjYSRWgnrrolidVSSXflpqniYYgkljdbefdaWSONchr28/82rhcVVZglnonnmlihgfgggfcZXVTTVZfjliYTSWhnrsqnkeVQRVflpqpkZYhmnkecfhhfbWQNOchr28/82rhcTWeknpppoojjjiihgebaYXWWYaegigZVUYhmprqokfWSRVdiloqlaZinoldbfijifaTQRVchr28/82rhcXchmpqqppjkllkifdcbbaaabbbceebZYagjlmnmkgZVTVbeeiolbajnoldafikkieYVWZcchr28/82rhcadknppppjkmmliecddddeeecaZabdedeggghjjjgcZXYaaZclldcillicafiklkiecddcdchr28/82rhcdgjlmmnjkmmkhedeffghiheaYWZfiihgebadghhfddcaXVYhjhgffedabehjkllkkjhbZYchr28/82rhcbaeghijkmmkhedeffgjjifaXVZhmmkhdYXbeghgggeaXTVdhjifcaZabefgikmnonkfaWVchr28/82rhcYZadejkmmkhecdddfjjifaXWajopnjeXXcfhhgggfbXUUZfjjgdaZbcddcehkoqpokgaVTcgmx6/6xmgcWVZbijllkheccccehihebZYcjnnlieZZdgggffgfcaXWZdijhfcbddddcceimoonnkeZWXcgmx6/6xmgcTYbhijkkiecbbcdeeededdehhhggfddfggfeddeeedccdghhhggggffedcdhiiknmjgecacgmx6/6xmgcbejiiijiecbcdeeddefggffdcdfggggggfdccdfghgfeefgghhgffgggdcdddglnmlkhddcgmx6/6xmgcimkihihedefghggffghhfdbbcfhiihggecbcehijjigeddegfcbegiigeaYXahlmnnmkgbcgmx6/6xmgcnmjiihdcdefggfffgghfcaacgijjihgebabdhjjkjhdcdefeaaehkkifZVUXdiloppnjaYcgmx6/6xmgmmmkigcaZZabbcdddeffdbacgjklkjhfaZacgijjjhdbefgfaafilmjfZVUVZejnpqpleZWcgmx6/6xmllmlifcZXWWXZabccdffedbdhklmlkifaYZbfhiiigbbeghfbafilmkgZWVVWainpqpmgaVTcgmx6/6xjklkifcZYWVVXZabcdfggfddhkmnmkifaYYaegghigaZehigcbehllkgaXWVVZhmoppmhdZYbcgmx6/6jjkjifcZYXVVXYZacdfghgdehkmnmlifaYYaegggigZYehihcbehkljgaXWVUYgloppniebbeicgmx6/"}, "H": {"box": [373.7, 626.7, 653.3, 898.3], "n": 80, "d": "//yswvurkhiihgddfebaaacccdfhlnmjdbegiihfcYVXdfbacdfjqsoibZbfklllllljifcZYdmpnljj//6ysvuqliiihfdcddaZZabcbcfimonjdacfhiigdaXYefcbbdfjprnjcZcgkmllmmlkigdaYclpnmkjy6/6ysuqmjjhfdbbbaZYYZbbYafkpqpkcYZcgiiigebcfgdbbceinonjdbdhlmllnonmjhfcZckonmmlsy6/6yssmjihdbaZaaZYXYaaZbgkopnjcZZbfhihgfddggedccehlmmjecehklkkmnmljigeacjmmllkwsy6/6yslhhgcaZZbbaYWWYadfhijjigdcdeghggedbcghffeedfjmmkfdfgiihhijjiihgecdikjihhvvsy6/6yskjifcbabaZXUUXaeghhiihgeefgffeedcbdghgfeedehjlkhgghhgeefghhhhhgeefggfeeuuusy6/6yspmljfcaYXVSTXacefhklkigfgfcabbcdefhigecceedegjllkjifbabdghijlkgecbbcbbrqqssy6/6ysrpnkfZVUSRSYbcdfhlmljgfgeaZabbcdehigfccffddfimmkjheZYZcgiijlkheaZabbcklmmlsy6/6ystqoiYSQPQTZccdfhlmkifddcaabbbaZafhhgddghhhhijkihfcYXZcgiiiiigecbbdefhijjhksy6/6ystrkYRONPTZcddegjkigedddcbccbZYZehhgeeghiihhiiihfcYXZcgiihhhgfedddeeiijihjpry6/6yrslZRONOSZdeedeffeeddfgfedccbZbegggffhhiihhhikjhebZYbfiiihhhgfffdaYiihhgimrry6/6yrodVRQRUaeeecbcccdefhhgfdccccefggggfffhiiiijllifbZYZehiiiiiigfecYWhhfdcflptry6/6yrjcXVWZefecaabcceghiigfdccehiihgggeaaehjjjkmmjfaYXYcfhiklljhecaXWgfdbacjnqtry6/6yrjeccdffecbabbcehjiigffedfijihgggebbegijjkmliebYYYadegijkjhecaYXddbaZbfkorsry6/6yrmihgeeffecaabehiihghjigfghggggghhhgghiijkjgdcbbaabbcbdghgfedaZdcbZZacfiklory6/6yrolhdcfggeaZbehihggilljhgfeefghikjgfggffggfefeedccbaYZcfgggfcbfdbabbaZYYZdjry6/6yroiaYdggfaZbdfggggjmonkgdcceghilkgddcaZZcgjjjhggfecZYadgihgfeedaabaYVSRRVcjry6/6yrkaXdghfaZbdfggghjmoolgcbbeggilkfccbXWWZgjlkihggfdaZacgihhggbaZZaZXUQOORXemry6/6yrcYdghfbabdfgghhilnnlhdbbegghjieccbXWXZdgjjhfeddcaabdghhhggaZYYYXVSPNNQVciory6/6yrdfhhgcbbcefhhhijkkjhfdceffghgedcbaZabcehhfdcbccccdefghgggaZYXWUSRQPORWchlckv6/6vkciihdbbbceghhhfffghhgfeeffeeeeddfgfedccccbZabdgggfeefgggaaZYWUTSTTSUZdghickv6/6vkcjgbZZadfhhgebaachihgffedbbddceikjifcaZZZYZbeijigedeeeecbbaYXXYZZZaefedaackv6/6vkcdVTVZfijifbXUUYgiffiidaYYZZZdknnlhdaYYYYZbfjkjhecdcaaccbaaaabccdeffecYXYckv6/6vkcUQTYfijigcXUUYgieeijebYXYYZdknnlhdbZZZYZbejkjhfddcZYcbYZdecccdeeeeffdddfckv6/6vkcQSWdhijifcZYaggccgigecaaabdhjjifdddcbaabehihgggfdbZdcabfgedddeeccfgggghickv6/6vkcXYbefgihgecceeccdeffffedddeeeedeghgfedddeeefhihgdcfffghhfffedcabegghhhijckv6/6vkceaYYafijigebbdcZYZdikjigdZXYadgjklkjigdaZbeikjihhhikkihhhhgebaacefffghgdckv6/6vkceYVWcgjkifbafeXVWbjnmkhdXUVYdhkmmnnmjfbZadiklkkjlmpojiklljfcbbaaaabcdbVUckv6/6vkcfXVYcgiigccihZVVajnmlieYVVYehjkmnpomjhebcfiklllnoqpjilmmkfccbaZZZabbZTQQckv6/6vkcdYYadghgdejicYWZilljifaYYafijklmoomkjgccehklllmnpnihklkiecccbbbbbbbZVTSYZgs6/6sgZYaZbdfgggihfdabfhhhgfeddegijkklmlkjigddfgikkljjkjggijigedeeeedddcbaZYWYYZgs6/6sgZYbZadghhggggddffddfgiiihgghhhhhghhhgeddefhhiddccdeggfedeghhhfffecdffdbaYZgs6/6sgZYZXbfiiedfggffdYYeimnnkgcaZZZYZbdghgeaZabcdbaYZceffdddfhjiigggfefiiheYYYZgs6/6sgZYYaeiidbdfghfcWWejnonkfaXVVVUVYcfhheYWXZaaecZZdfggddfhiiihggghghjjifYVXYZgs6/6sgZYaciiebbdggebXYeikkjhdZXVUUTUYcfhheYWYabcgfcbegfecdghiihggghhhhiijgaWVYYZgs6/6sgZYbikfbYZdebaacghffedbZZYYXVWYbeggebacdeeihgfgfcaacfgggggghhhhgfgiifcYYaYZgs6/6sgZYlmgZUUZaXZgjieZWXYZbdffebaabdddeghijiiiiihhfaZabefffhijjiihebcfhigcaZbYZgs6/6sgZYkgaTSYaYcjlicVRSUXbgijiebaaabcfjlmmlkhiiigebabcdddfjlmmljfbXXcgjjgdbZZYZgs6/6sgZYgcVUbefhkkgaTPPSWbgjkjfbZYXYbfknnmlkfgihgebbbcccceiloonkfaUUZeikigdaXYYZgs6/6sgZYfZYdgijkjeZTQQSXchkljfbZYXZcgkmmmkkcdggedcbbbcccdgjnonkfaUUYcgiihfdbaaZYbn5/5nbYZfefhjjjheaXVUWbgjlkiebaaacegjkkkjjYaefdcdcaZbceffhklljgcYYacefggggfecbZYbn5/5nbYZeefggfeddcbabdgiigecbbdeggggfggghVXbdbbedZYZchigggghhhhgggebbcdghiiiilZYbn5/5nbYZbcaZZadgiihgedcbaYYZdhjkjgaYZabcXYcdcdfeaZbeijhfdcdfhiiigebaceghiiikmkZYbn5/5nbYZcZXWYdhjkjhecbaaZZbfijkkhbYYZaadefggghhfeefiigecbbdghfeccdfijigedefgggZYbn5/5nbYZcaYZdghgfeddefghhhgfefhhgffeccffgghhiihhgghhgecbbcfgfecccehihgdbbbZacfZYbn5/5nbYZdZZdfggeddfhjllljgdbcgjiigedcbcdefggghhgggggfeeeeefiigdZXZcfgfdbYUTVZfZYbn5/5nbYZaYbehhggghkmnnnkgcZcjljgdbbaabbdffefgggggggggggfefijieYVVYdggfdZUSUYeeZYbn5/5nbYZacfhihhghklllkidaZcjlifcaaacbbceeccdefgggghhggffedegfZWVWadgggdZYbdfebZYbn5/5nbYZfgiihgeeffedcbZZZcikhfdcccddcceeccdeffeehiiihgfdabefdbaZbdfhgeaaeghfccZYbn5/5nbYZfhhgfeeedcaYYYZadhigfedccffeeddefgghfabhklljhebYYcfijjiffffebXYfijgaZcggpy6/6ypgcffddfghgfcZYZabdghgffedcjjihfeefhhhfabhjkkigebYXafknnlhfdcbaZchjjgZXadggpy6/6ypgfdbcfhiigecccccdghiiihgfqpnljhddhiiheegggfeeedZYaejmmlhdYWXagjkkjfZWYZaegpy6/6ypgcbbeghhggiihfccfilnnmllsrommjedhiiihggfdccdedZYadikljhdYWYcjlkjheaYZZYaggpy6/6ypgeddeeeegjkjheefhkmmmmmonnmmlgfhhhijihgdcccdcZZbdghiigfeeegiigeedddddbcfggpy6/6ypghcZZZbdhihhiihgffhiijijjjkkjiihhijjigcbbbdeddddddeffgijihecaZadghgfefgfcgpy6/6ypgdXVUVYdfgilmkgaYaceebcdefhlmjihijjifaXXafikkheZXYaeimnkfZVTTXcijhghhihffgpy6/6ypgXSPOQXcfjmoniWQSUXYZZbcdglmkiijkkjfZWWZgknnjeXUVYdinokfWRPQVbikgghiihfdcgpy6/6ypgSNLNUafjoqqjVNOQTVbcdefgkkiiklmmkgZWXafjnnjeYVVYdinnjeXSPQUahjfeghhgdbbegpy6/6ypgONPVafkpsslWOPRTUfghhghjjhhjlmljgcZZbeillieaYYaehkkhdYUSSWbghedghgfdcbdhgpy6/6ypgUUXaeiorsnaTRRSSkklkihihffhijigfggdcdfhhfdddefgggfdbZXWXbdeeddggeeffedcdgp08/80pgcaabfloqohbVSQPlmmligfecceffedejjgeccdddeghhiigcaZZbbbcggdcdfhheeghgeZXXgp08/80pggcbbfimnmjdZWVlllkhebZYYbbabcfjljhcaabdgjkjjjhaXXZdgghjicbehkkfehiheZVSSgp08/80pghcYWYfkppnljjlllkheaYXXZZYYbejkjhcZYZdhkmkkkhZVVYfijklibafjmlfdgiheZUPNOgp08/80pggZRRZiqtsrqplmnmifbZZZYYXYbehihfcZYZcglmmlkhZVUYfjklkgaaglnlecfggebVOLNUgp08/80pgdSQVeputsrqlmonjgdcccbZYYadghfdbZYZbfknnmlhZVUXeijjieYZhlnldaceggdYQNPUcgp08/80pgYTUcottsrqllnmjhggggfecaacggecZYYYaejnpomhYUTVbeffecYZhlnkcYZcijhdXUVXaggp08/80pgbWalrrrqpjkmlihhiiiihfdbcfgdbaZZZadimoolgZVUWabbbbbZbhjkibYYcikifcaaaachgp08/80pgdchklllliijjihiiiiiihebbefdcbbbbbdgjmmkhbYYYaaZZabdfgggdZYZchjhgfffebbcggp08/80pggbZabccfghihhjjihiiigcacdccdefeeddfjkjhdccbbaYYadhifdcaZZacfhhijjkifbYZdgp08/80pgaTTUVWcdfgghllihhikibYZaacgijjheabhjihgffedaXXaejjebZZZabcceilmopolfWRSYjmv6/6vmfVQORSZaceegkkihhiljdZYZacgjkkieZZeggghhhgdbYZcgkkfccccdddceimoqsroiYRQTbkmv6/6vmbRNPQYYZaceghgghilkgcaabdgijjhebabcdeghhgdcbcegjkhgjjihggffhknqssqmfZVUWdmmv6/6vmXQRRdcccdeeeefgijjhfdcdefghhgfedccddeeeeeffgggghhjllkihhihggijlnonkiecacglmv6/6vmaZYmlkjifcacefghhgggggfeeefghiifefdaYYbgjkkjgabgijihggilkfaWVWahmpqpolhbafmv6/6vmlkppomkgbZbdffeefgiihgedcdgikkihgeZWWahlnmkfYYfigffffinmfYQNOTbjptutrkZTVbmv6/6vmsnnnmjgbabdfecceghhhhfeddfhjlkkifaXYcimnmkgZYfgdcdefinmhaSOPRVdnsttrlaTQRXmv6/6vmlmmlifcbdddcaadfghhggeccdgikllkhbZadjmmmkgaZeebacdehmmicUQRRSZlrssrlbUONQamv6/6vjkmlhebbeeaYXYacfggggeaZbdhkllkhcabeillkjgbacdbaccdglmieXTTSQWjqrrqlcVRPRZlmv6//jjlkhebcfeYWWXZbeggggeaYZchjlllidaceikkkjhcaccaacccflmjeYVUSPVjpqqplcWSQRYksmv//"}},AB={"A": {"box": [34.2, 35.3, 314.9, 138.8], "r": 100, "c": 80, "d": "kkjjkkjjiiiiiiiiiiiiiiiiiiiijjjjjjjjiiiiiiiiiiiiiiiiiiiiiiiiiiiiiiiiiiiiiiiiijkkkkjjkkjjiiiiiiiiiiiiiiiiiiiijjjjjjjjiiiiiiiiiiiiiiiiiiiiiiiiiiiiiiiiiiiiiiiiijllkkjjkkjjjjjjjjjjjjjjiiiiiiiijjjjjjjjiiiiiiiiiiiiiiiiiiiiiiiiiiiiiiiiiiiiiiiiijlllljjkkjjjjjjjjjjjjjjiiiiiiiijjjjjjjjiiiiiiiiiiiiiiiiiiiiiiiiiiiiiiiiiiiiiiiiiklllljjkkjjjjjjjjjjjjjjjjjjjjjjjjjjjjjjiiiiiiiiiiiiiiiiiiiiiiiiiiiiiiiiiiiiiiiiiklllljjkkjjjjjjjjjjjjjjjjjjjjjjjjjjjjjjiiiijjjjjjiiijjjjjjjjjjiiiiijjjjjjjjjjjjjkllllkkkkjjjjjjjjjjjjjjjjjjjjjjjjjjjjjjjjjjjjjjjjiiijjjjjjjjjjiiiiijjjjjjjjjjjjjkllllkkkkjjjjjjjjjjjjjjjjjjjjjjjjjjjjjjjjjjjjjjjjiiijjjjjjjjjjjjjjjjjjjjjjjjjjjjkllllkklljjjjjjjjjjjjjjjjjjjjjjjjjjjjjjjjjjjjjjjjjjjjjjjjjjjjjjjjjjjjjjjjjjjjjjjkmmllkkllkkjjjjjjjjjjjjjjjjjjjjjjjjjjjjjjjjjjjjjjjjjjjjjjjjjjjjjjjjjjjjjjjjjjjjjkmmmmkkllkkjjjjjjjjjjjjjjjjjjjjjjjjjjjjjjjjjjjjjjjjjjjjjjjjjjjjjjjjjjjjjjjjjjjjjkmmmmkkllkkjjjjjjjjjjjjjjjjjjjjkkkkkkkkjjjjjjjjjjjjjjjjjjjjjjjjjjjjjjjjjjjjjjjjjlmmmmkkllkkjjjjjjjjjjjjjjjjjjjjkkkkkkkkjjjjjjjjjjjjjjjjjjjjjjjjjjjjjjjjjjjjjjjjjlmmmmkkllkkkkkkkkkkkkkkjjjjjjjjkkkkkkkkjjjjjjjjjjjjjjjjjjjjjjjjjjjjjjjjjjjjjjjjjlmmmmkkllkkkkkkkkkkkkkkjjjjjjjjkkkkkkkkjjjjjjjjjjjjjjjjjjjjjjjjjjjjjjjjjjjjjjjjjlmmmmllllkkkkkkkkkkkkkkjjjjjjjjkkkkkkkkjjjjjjjjjjjjjjjjjjjjjjjjjjjjjjjjjjjjjjjjjlnnmmllmmkkkkkkkkkkkkkkkkkkkkkkkkkkkkkkjjjjjjjjjjjjjjjjjjjjjjjjjjjjjjjjjjjjjjjjjlnnnnllmmkkkkkkkkkkkkkkkkkkkkkkkkkkkkkkjjjjkkkkkkjjjkkkkkkkkkkjjjjjkkkkkkkkkkkkklnnnnllmmkkkkkkkkkkkkkkkkkkkkkkkkkkkkkkkkkkkkkkkkjjjkkkkkkkkkkjjjjjkkkkkkkkkkkkklnnnnllmmllkkkkkkkkkkkkkkkkkkkkkkkkkkkkkkkkkkkkkkjjjkkkkkkkkkkkkkkkkkkkkkkkkkkkklnnnnllmmllkkkkkkkkkkkkkkkkkkkkkkkkkkkkkkkkkkkkkkjjjkkkkkkkkkkkkkkkkkkkkkkkkkkkkmnnnnllmmllkkkkkkkkkkkkkkkkkkkkkkkkkkkkkkkkkkkkkkkkkkkkkkkkkkkkkkkkkkkkkkkkkkkkkmoonnllmmllkkkkkkkkkkkkkkkkkkkkllllllllkkkkkkkkkkkkkkkkkkkkkkkkkkkkkkkkkkkkkkkkkmoonnllmmllkkkkkkkkkkkkkkkkkkkkllllllllkkkkkkkkkkkkkkkkkkkkkkkkkkkkkkkkkkkkkkkkkmoooommnnllllllllllllllkkkkkkkkllllllllkkkkkkkkkkkkkkkkkkkkkkkkkkkkkkkkkkkkkkkkkmoooommnnllllllllllllllkkkkkkkkllllllllkkkkkkkkkkkkkkkkkkkkkkkkkkkkkkkkkkkkkkkkkmoooommnnllllllllllllllkkkkkkkkllllllllkkkkkkkkkkkkkkkkkkkkkkkkkkkkkkkkkkkkkkkkkmoooommnnllllllllllllllllllllllllllllllkkkkkkkkkkkkkkkkkkkkkkkkkkkkkkkkkkkkkkkkkmppoommnnllllllllllllllllllllllllllllllkkkkkkkkkkkkkkkkkkkkkkkkkkkkkkkkkkkkkkkkknppoommnnmmllllllllllllllllllllllllllllkkkkllllllkkkllllllllllkkkkklllllllllllllnppppmmnnmmllllllllllllllllllllllllllllllllllllllkkkllllllllllkkkkklllllllllllllnppppmmoommllllllllllllllllllllmmmmmmmmllllllllllkkkllllllllllllllllllllllllllllnppppnnoommllllllllllllllllllllmmmmmmmmlllllllllllllllllllllllllllllllllllllllllnqqppnnoommmmmmmmmmmmmmllllllllmmmmmmmmlllllllllllllllllllllllllllllllllllllllllnqqppnnoommmmmmmmmmmmmmllllllllmmmmmmmmllllllllllllllllllllllllllllllllllllllllloqqqqnnoonnmmmmmmmmmmmmmmmmmmmmmmmmmmmmllllllllllllllllllllllllllllllllllllllllloqqqqnnppnnmmmmmmmmmmmmmmmmmmmmmmmmmmmmllllmmmmmmlllmmmmmmmmmmlllllmmmmmmmmmmmmmorrqqooppnnmmmmmmmmmmmmmmmmmmmmnnnnnnnnmmmmmmmmmmlllmmmmmmmmmmlllllmmmmmmmmmmmmmorrrrooppnnnnnnnnnnnnnnmmmmmmmmnnnnnnnnmmmmmmmmmmlllmmmmmmmmmmmmmmmmmmmmmmmmmmmmprrrrooqqoonnnnnnnnnnnnmmmmmmmmnnnnnnnnmmmmmmmmmmmmmmmmmmmmmmmmmmmmmmmmmmmmmmmmmpssssppqqoonnnnnnnnnnnnnnnnnnnnnnnnnnnnmmmmmmmmmmmmmmmmmmmmmmmmmmmmmmmmmmmmmmmmmpsssspprroonnnnnnnnnnnnnnnnnnnnoooooooonnnnnnnnnnmmmnnnnnnnnnnmmmmmnnnnnnnnnnnnnqttttpprrppoooooooooooonnnnnnnnoooooooonnnnnnnnnnnnnnnnnnnnnnnnnnnnnnnnnnnnnnnnnquuttqqssppooooooooooooooooooooppppppppnnnnoooooonnnoooooooooonnnnnoooooooooooooruuuurrssqqppppppppppppooooooooppppppppoooooooooonnnoooooooooooooooooooooooooooosvvvvrrttqqppppppppppppppppppppqqqqqqqqooooppppppoooppppppppppooooopppppppppppppswwwwssuurrqqqqqqqqqqqqppppppppqqqqqqqqppppppppppooopppppppppppppppppppppppppppptxxxxttvvssrrrrrrrrrrrrqqqqqqqqrrrrrrrrqqqqqqqqqqpppqqqqqqqqqqpppppqqqqqqqqqqqqquzzzzuu00ytssssssssssssrrrrrrrrssssssssqqqqrrrrrrqqqrrrrrrrrrrqqqqqrrrrrrrrrrrrrv0000vv333uttttttttttttssssssssttttttttrrrrrrrrrrrrrrrrrrrrrrrrrrrrrrrrrrrrrrrrrw22VVVVVVXXRRRRRRXXXXXXXXXXXXQQQQQXXXXXXXXXTTTYYYTTTTTYYYYYYYYTTTTYYYYYYYYYYYYYRRRRVVVVVVXXXXXXXXXXXXXXXXXXXXXXXXXXXXXXXXXXYYYYYYYYYYYYYYYYYYYYYYYYYYYYYYYYYYYYWWWWVVVVVVXXXXXXXXXXXXXXYYYYYYYYYYYYYYYYYYYYYYYYYYYYYYYYYYYYYYYYYYYYYYYYYYYYYYYYWWWWVVVVVVXXXXXXXXXXXXXXYYYYYYYYYYYYYYYYYYYYYYYYYYYYYYYYYYYYYYYYZZZZZZZZZZZZZZZZXXXXWWWWWWXXXXXXXXXXXXXXYYYYYYYYYYYYYYYYYYYYYYYYYYYYYYYYYYYYYYYYZZZZZZZZZZZZZZZZXXXXWWWWWWXXXXXXXXXXXXXXYYYYYYYYYYYYYYYYYYYYYYYYYYYYYYYYYYYYYYYYZZZZZZZZZZZZZZZZXXXXWWWWWWXXXXXXXXXXXXXXYYYYYYYYYYYYYYYYYYYYYYYYYYYYYYYYYYYYYYYYZZZZZZZZZZZZZZZZXXXXWWWWWWYYYYYYYYYYYYYYYYYYYYYYYYYYYYYYYYYYZZZZZZZZZZZZZZZZZZZZZZZZZZZZZZZZZZZZXXXXWWWWWWYYYYYYYYYYYYYYYYYYYYYYYYYYYYYYYYYYZZZZZZZZZZZZZZZZZZZZZZZZZZZZZZZZZZZZXXXXWWWWWWYYYYYYYYYYYYYYZZZZZZZZZZZZZZZZZZZZZZZZZZZZZZZZZZZZZZZZZZZZZZZZZZZZZZZZXXXXXXXXXXYYYYYYYYYYYYYYZZZZZZZZZZZZZZZZZZZZZZZZZZZZZZZZZZZZZZZZZZZZZZZZZZZZZZZZYYYYXXXXXXYYYYYYYYYYYYYYZZZZZZZZZZZZZZZZZZZZZZZZZZZZZZZZZZZZZZZZZZZZZZZZZZZZZZZZYYYYXXXXXXYYYYYYYYYYYYYYZZZZZZZZZZZZZZZZZZZZZZZZZZZZZZZZZZZZZZZZaaaaaaaaaaaaaaaaYYYYXXXXXXYYYYYYYYYYYYYYZZZZZZZZZZZZZZZZZZZZZZZZZZZZZZZZZZZZZZZZaaaaaaaaaaaaaaaaYYYYXXXXXXZZZZZZZZZZZZZZZZZZZZZZZZZZZZZZZZZZZZZZZZZZZZZZZZZZZZZZaaaaaaaaaaaaaaaaYYYYXXXXXXZZZZZZZZZZZZZZZZZZZZZZZZZZZZZZZZZZaaaaaaaaaaaaaaaaaaaaaaaaaaaaaaaaaaaaYYYYYYYYYYZZZZZZZZZZZZZZZZZZZZZZZZZZZZZZZZZZaaaaaaaaaaaaaaaaaaaaaaaaaaaaaaaaaaaaYYYYYYYYYYZZZZZZZZZZZZZZaaaaaaaaaaaaaaaaaaaaaaaaaaaaaaaaaaaaaaaaaaaaaaaaaaaaaaaaZZZZYYYYYYZZZZZZZZZZZZZZaaaaaaaaaaaaaaaaaaaaaaaaaaaaaaaaaaaaaaaaaaaaaaaaaaaaaaaaZZZZYYYYYYZZZZZZZZZZZZZZaaaaaaaaaaaaaaaaaaaaaaaaaaaaaaaaaaaaaaaaaaaaaaaaaaaaaaaaZZZZYYYYYYZZZZZZZZZZZZZZaaaaaaaaaaaaaaaaaaaaaaaaaaaaaaaaaaaaaaaaaaaaaaaaaaaaaaaaZZZZYYYYYYZZZZZZZZZZZZZZaaaaaaaaaaaaaaaaaaaaaaaaaaaaaaaaaaaaaaaabbbbbbbbbbbbbbbbZZZZZZZZZZaaaaaaaaaaaaaaaaaaaaaaaaaaaaaaaaaaaaaaaaaaaaaaaaaaaaaabbbbbbbbbbbbbbbbZZZZZZZZZZaaaaaaaaaaaaaaaaaaaaaaaaaaaaaaaaaabbbbbbbbbbbbbbbbbbbbbbbbbbbbbbbbbbbbZZZZZZZZZZaaaaaaaaaaaaaaaaaaaaaaaaaaaaaaaaaabbbbbbbbbbbbbbbbbbbbbbbbbbbbbbbbbbbbaaaaZZZZZZaaaaaaaaaaaaaabbbbbbbbbbbbbbbbbbbbbbbbbbbbbbbbbbbbbbbbbbbbbbbbbbbbbbbbaaaaZZZZZZaaaaaaaaaaaaaabbbbbbbbbbbbbbbbbbbbbbbbbbbbbbbbbbbbbbbbbbbbbbbbbbbbbbbbaaaaZZZZZZaaaaaaaaaaaaaabbbbbbbbbbbbbbbbbbbbbbbbbbbbbbbbbbbbbbbbbbbbbbbbbbbbbbbbaaaaaaaaaaaaaaaaaaaaaaaabbbbbbbbbbbbbbbbbbbbbbbbbbbbbbbbbbbbbbbbbbbbbbbbbbbbbbbbaaaaaaaaaabbbbbbbbbbbbbbbbbbbbbbbbbbbbbbbbbbbbbbbbbbbbbbbbbbbbbbbbbbbbbbbbbbbbbbaaaaaaaaaabbbbbbbbbbbbbbbbbbbbbbbbbbbbbbbbbbbbbbbbbbbbbbbbbbbbbbccccccccccccccccbbbbaaaaaabbbbbbbbbbbbbbbbbbbbbbbbbbbbbbbbbbbbbbbbbbbbbbbbbbbbbbccccccccccccccccbbbbaaaaaabbbbbbbbbbbbbbbbbbbbbbbbbbbbbbbbbbccccccccccccccccccccccccccccccccccccbbbbaaaaaabbbbbbbbbbbbbbccccccccccccccccccccccccccccccccccccccccccccccccccccccccbbbbbbbbbbbbbbbbbbbbbbbbccccccccccccccccccccccccccccccccccccccccccccccccccccccccbbbbbbbbbbbbbbbbbbbbbbbbccccccccccccccccccccccccccccccccccccccccccccccccccccccccbbbbbbbbbbccccccccccccccccccccccccccccccccccccccccccccccccccccccccccccccccccccccbbbbbbbbbbccccccccccccccccccccccccccccccccccccccccccccccccccccccccccccccccccccccccccbbbbbbccccccccccccccccccccccccccccccccccccccccccccccccccccccccccccccccccccccccccbbbbbbccccccccccccccccccccccccccccccccccccccccccccccccccccccddddddddddddddddccccbbbbbbccccccccccccccccccccccccccccccccccddddddddddddddddddddddddddddddddddddccccccccccccccccccccccccddddddddddddddddddddddddddddddddddddddddddddddddddddddddccccccccccccccccccccccccddddddddddddddddddddddddddddddddddddddddddddddddddddddddccccccccccddddddddddddddddddddddddddddddddddddddddddddddddddddddddddddddddddddddccccccccccddddddddddddddddddddddddddddddddddddddddddddddddddddddddddddddddddddddddddccccccddddddddddddddddddddddddddddddddddddddddddddddddddddddddddddddddddddddddddccccccddddddddddddddddddddddddddddddddddddddddddddddddddddddddddddddddddddddddddddddddddddddddddddddddddddddddddddddddddddddddddddddddddddddeeeeeeeeeeeeeeeeddddddddddddddddddddddddddddddddddddddddddddeeeeeeeeeeeeeeeeeeeeeeeeeeeeeeeeeeeeddddddddddddddddddddddddeeeeeeeeeeeeeeeeeeeeeeeeeeeeeeeeeeeeeeeeeeeeeeeeeeeeeeeedddd"}, "B": {"box": [374.2, 35.3, 655, 138.8], "r": 100, "c": 80, "d": "ggghhhhhhhhhhhhhhhhhhhhhhhhhhhhhhhhhhhhhhhhhhhhhhhhhhhhhhhhhhhhhhhhhhhiiiiihhhhhhhhhhhhhhhhhhhhhhhhhhhhhhhhhhhhhhhhhhhhhhhhhhhhhhhhhhhhhhhhhhhhhhhhhhhiiiiihhhhhhhhhhhhhhhhhhhhhhhhhhhhhhhhhhhhhhhhhhhhhhhhhhhhhhhhhhhhhhhhhhhhhhhhhhhiiiiihhhhhhhhhhhhhhhhhhhhhhhhhhhhhhhhhhhhhhhhhhhhhiiiiiiiihhhhhhhhhhhhhhhhhhhhhhiiiiihhhhhhhhhhhhhhhhhhhhhhhhhhhhhhhhhhhhhhhhhhhhhiiiiiiiihhhhhhhhhhhhhhhhhhhhhhiiiiihhhhhhhhhhhhhhhhhhhhhhhhhiiiiiiiihhhhhhhhhhhhiiiiiiiihhhhhhhhhhhhhhhhhhhhhhiiiiihhhhhhhhhhhhhhhhhhhhhhhhhiiiiiiiihhhhhhhhhhhhiiiiiiiihhhhhhhhhhhhhhhhhhhhhhjjjjjhhhhhhhhhhhhhhhhhhhhhhhhhiiiiiiiihhhhhhhhhhhhiiiiiiiihhhhhhhhhhhhhhhhhhhhhhjjjjjhhhhhhhhiiiiiiiiihhhhhhhhiiiiiiiihhhhhhhhhhhhiiiiiiiihhhhhhhhhhhhhhhhhhhhhhjjjjjhhhhhhhhiiiiiiiiiiiiiiiiiiiiiiiiiiiiiiiiiiiiiiiiiiiiiiiiiiiiiiiiiiiiiiiiiiijjjjjhhhhhhhhiiiiiiiiiiiiiiiiiiiiiiiiiiiiiiiiiiiiiiiiiiiiiiiiiiiiiiiiiiiiiiiiiiijjjjjhhhhhhhhiiiiiiiiiiiiiiiiiiiiiiiiiiiiiiiiiiiiiiiiiiiiiiiiiiiiiiiiiiiiiiiiiiijjjjjhhhhhhhhiiiiiiiiiiiiiiiiiiiiiiiiiiiiiiiiiiiiiiiiiiiiiiiiiiiiiiiiiiiiiiiiiiijjjjjhhhhhhhhiiiiiiiiiiiiiiiiiiiiiiiiiiiiiiiiiiiiijjjjjjjjiiiiiiiiiiiiiiiiiiiiiijjjjjiiiiihhhiiiiiiiiiiiiiiiiiiiiiiiiiiiiiiiiiiiiijjjjjjjjiiiiiiiiiiiiiiiiiiiiiikkkkkiiiiihhhiiiiiiiiiiiiiiiiiiiiiiiiiiiiiiiiiiiiijjjjjjjjiiiiiiiiiiiiiiiiiiiiiikkkkkiiiiihhhiiiiiiiiiiiiiiiiijjjjjjjjiiiiiiiiiiiijjjjjjjjiiiiiiiiiiiiiiiiiiiiiikkkkkiiiiiiiiiiiiiiiiiiiiiiiiijjjjjjjjiiiiiiiiiiiijjjjjjjjiiiiiiiiiiiiiiiiiiiiiikkkkkiiiiiiiiiiiiiiiiiiiiiiiiijjjjjjjjiiiiiiiiiiiijjjjjjjjiiiiiiiiiiiiiiiiiiiiiikkkkkiiiiiiiijjjjjjjjjiiiiiiiijjjjjjjjiiiiiiiiiiiijjjjjjjjiiiiiiiiiiiiiiiiiiiiiikkkkkiiiiiiiijjjjjjjjjiiiiiiiijjjjjjjjiiiiiiiiiiiijjjjjjjjiiiiiiiiiiiiiiiiiiiiiikkkkkiiiiiiiijjjjjjjjjjjjjjjjjjjjjjjjjjjjjjjjjjjjjjjjjjjjjjjjjjjjjjjjjjjjjjjjjjjllllliiiiiiiijjjjjjjjjjjjjjjjjjjjjjjjjjjjjjjjjjjjjkkkkkkkkjjjjjjjjjjjjjjjjjjjjjjllllliiiiiiiijjjjjjjjjjjjjjjjjjjjjjjjjjjjjjjjjjjjjkkkkkkkkjjjjjjjjjjjjjjjjjjjjjjllllliiiiiiiijjjjjjjjjjjjjjjjjjjjjjjjjjjjjjjjjjjjjkkkkkkkkjjjjjjjjjjjjjjjjjjjjjjllllliiiiiiiijjjjjjjjjjjjjjjjjjjjjjjjjjjjjjjjjjjjjkkkkkkkkjjjjjjjjjjjjjjjjjjjjjjllllliiiiiiiijjjjjjjjjjjjjjjjjkkkkkkkkjjjjjjjjjjjjkkkkkkkkjjjjjjjjjjjjjjjjjjjjjjllllljjjjjiiijjjjjjjjjjjjjjjjjkkkkkkkkjjjjjjjjjjjjkkkkkkkkjjjjjjjjjjjjjjjjjjjjjjllllljjjjjiiijjjjjjjjjjjjjjjjjkkkkkkkkjjjjjjjjjjjjkkkkkkkkjjjjjjjjjjjjjjjjjjjjjjmmmmmjjjjjiiijjjjjjjjjjjjjjjjjkkkkkkkkjjjjjjjjjjjjkkkkkkkkjjjjjjjjjjjjjjjjjjjjjjmmmmmjjjjjiiikkkkkkkkkjjjjjjjjkkkkkkkkjjjjjjjjjjjjlllllllljjjjjjjjjjjjjjjjjjjjjjmmmmmjjjjjjjjkkkkkkkkkkkkkkkkkkkkkkkkkkkkkkkkkkkkkllllllllkkkkkkkkkkkkkkkkkkkkkkmmmmmjjjjjjjjkkkkkkkkkkkkkkkkkkkkkkkkkkkkkkkkkkkkkllllllllkkkkkkkkkkkkkkkkkkkkkkmmmmmjjjjjjjjkkkkkkkkkkkkkkkkkllllllllkkkkkkkkkkkkllllllllkkkkkkkkkkkkkkkkkkkkkknnnnnjjjjjjjjkkkkkkkkkkkkkkkkkllllllllkkkkkkkkkkkkllllllllkkkkkkkkkkkkkkkkkkkkkknnnnnjjjjjjjjkkkkkkkkkkkkkkkkkllllllllkkkkkkkkkkkkmmmmmmmmkkkkkkkkkkkkkkkkkkkkkknnnnnkkkkkjjjlllllllllkkkkkkkkllllllllkkkkkkkkkkkkmmmmmmmmkkkkkkkkkkkkkkkkkkkkkkoooookkkkkjjjlllllllllllllllllmmmmmmmmllllllllllllmmmmmmmmlllllllllllllllllllllloooookkkkkkkklllllllllllllllllmmmmmmmmllllllllllllnnnnnnnnllllllllllllllllllllllpppppkkkkkkkkmmmmmmmmmllllllllmmmmmmmmllllllllllllnnnnnnnnllllllllllllllllllllllpppppkkkkkkkkmmmmmmmmmmmmmmmmmnnnnnnnnmmmmmmmmmmmmnnnnnnnnmmmmmmmmmmmmmmmmmmmmmmqqqqqlllllkkkmmmmmmmmmmmmmmmmmnnnnnnnnmmmmmmmmmmmmoooooooommmmmmmmmmmmmmmmmmmmmmqqqqqllllllllnnnnnnnnnmmmmmmmmoooooooommmmmmmmmmmmppppppppmmmmmmmmmmmmmmmmmmmmmmrrrrrmmmmmlllnnnnnnnnnnnnnnnnnoooooooonnnnnnnnnnnnppppppppnnnnnnnnnnnnnnnnnnnnnnsssssmmmmmmmmoooooooooooooooooppppppppooooooooooooqqqqqqqqooooooooooooooooooooootttttnnnnnmmmpppppppppooooooooqqqqqqqqoooooooooooorrrrrrrroooooooooooooooooooooouuuuunnnnnnnnqqqqqqqqqpppppppprrrrrrrrppppppppppppssssssssppppppppppppppppppppppwwwwwooooonnnrrrrrrrrrqqqqqqqqssssssssqqqqqqqqqqqqttttttttqqqqqqqqqqqqqqqqqqqqqqxxxxxpppppooosssssssssrrrrrrrrtwwwwwwwrrrrrrrrrrrrvvvwwwwwvvrrrrrrrrrrrrrrrrrrrrzzzzzqqqqqppptttttttttssssssssvyyyyyyysssssssssssswwwyyyyyyyssssssssssssssssssss00000rrrrrVVVVVVWWWWWWWWWWWWWWWWWOOOOWWWWWWWWWWWWWNNNNWWWWWWWWWWWWWWWWTTTTTTWWWWWWWRRRRRRRVVVVVVXXXXXXXXXXXXXXXXXXXXXXXXXXXXXXXXXXUUUUXXXXXXXXXXXXXXXXXXXXXXXXXXXXXXXVVVVVWWWWWWXXXXXXXXXXXXXXXXXXXXXXXXXXXXXXXXXXVVVVXXXXXXXXXXXXXXXXXXXXXXXXXXXXXXXWWWWWWWWWWWYYYYYYYYYYYYYYYYYYYYYYYYYYYYYYYYYYVVVVYYYYYYYYYYYYYYYYYYYYYYYYYYYYYYYWWWWWXXXXXXYYYYYYYYYYYYYYYYYYYYYYYYYYYYYYYYYYWWWWYYYYYYYYYYYYYYYYYYYYYYYYYYYYYYYXXXXXXXXXXXYYYYYYYYYYYYYYYYYYYYYYYYYYYYYYYYYYWWWWYYYYYYYYYYYYYYYYYYYYYYYYYYYYYYYXXXXXYYYYYYZZZZZZZZZZZZZZZZZZZZZZZZZZZZZZZZZZXXXXZZZZZZZZZZZZZZZZZZZZZZZZZZZZZZZYYYYYYYYYYYZZZZZZZZZZZZZZZZZZZZZZZZZZZZZZZZZZXXXXZZZZZZZZZZZZZZZZZZZZZZZZZZZZZZZYYYYYYYYYYYZZZZZZZZZZZZZZZZZZZZZZZZZZZZZZZZZZYYYYZZZZZZZZZZZZZZZZZZZZZZZZZZZZZZZYYYYYZZZZZZaaaaaaaaaaaaaaaaaaaaaaaaaaaaaaaaaaYYYYaaaaaaaaaaaaaaaaaaaaaaaaaaaaaaaZZZZZZZZZZZaaaaaaaaaaaaaaaaaaaaaaaaaaaaaaaaaaYYYYaaaaaaaaaaaaaaaaaaaaaaaaaaaaaaaZZZZZZZZZZZaaaaaaaaaaaaaaaaaaaaaaaaaaaaaaaaaaZZZZaaaaaaaaaaaaaaaaaaaaaaaaaaaaaaaZZZZZaaaaaaaaaaaaaaaaaaaaaaaaaaaaaaaaaaaaaaaaZZZZaaaaaaaaaaaaaaaaaaaaaaaaaaaaaaaaaaaaaaaaaabbbbbbbbbbbbbbbbbbbbbbbbbbbbbbbbbbZZZZbbbbbbbbbbbbbbbbbbbbbbbbbbbbbbbaaaaaaaaaaabbbbbbbbbbbbbbbbbbbbbbbbbbbbbbbbbbaaaabbbbbbbbbbbbbbbbbbbbbbbbbbbbbbbaaaaaaaaaaabbbbbbbbbbbbbbbbbbbbbbbbbbbbbbbbbbaaaabbbbbbbbbbbbbbbbbbbbbbbbbbbbbbbaaaaabbbbbbbbbbbbbbbbbbbbbbbbbbbbbbbbbbbbbbbbaaaabbbbbbbbbbbbbbbbbbbbbbbbbbbbbbbbbbbbbbbbbbccccccccccccccccccccccccccccccccccaaaacccccccccccccccccccccccccccccccbbbbbbbbbbbccccccccccccccccccccccccccccccccccbbbbcccccccccccccccccccccccccccccccbbbbbbbbbbbccccccccccccccccccccccccccccccccccbbbbcccccccccccccccccccccccccccccccbbbbbccccccccccccccccccccccccccccccccccccccccbbbbccccccccccccccccccccccccccccccccccccccccccccccccccccccccccccccccccccccccccccbbbbccccccccccccccccccccccccccccccccccccccccccccccccccccccccccccccccccccccccccccccccccccccccccccccccccccccccccccccccccccccccccccccccccccccccccccccccccccccccccccccccccccccccccccccccccccccccccccccccccccccccccddddddddddddddddddddddddddddddddddccccdddddddddddddddddddddddddddddddcccccccccccddddddddddddddddddddddddddddddddddccccdddddddddddddddddddddddddddddddcccccccccccddddddddddddddddddddddddddddddddddccccdddddddddddddddddddddddddddddddcccccddddddddddddddddddddddddddddddddddddddddccccddddddddddddddddddddddddddddddddddddddddddddddddddddddddddddddddddddddddddddccccddddddddddddddddddddddddddddddddddddddddddddddddddddddddddddddddddddddddddddddddddddddddddddddddddddddddddddddddddddddddddddddddddddddddddddddddddddddddddddddddddddddddddddddddddddddddddddddddddddddddddddddddddddddddddddddddddddddddddddddddddddddddddddddddddddddddddddddddddddddddddddddddddddddddddddddddddddddddddddddddddddddddddddddddddddddddddddddddddddddddddeeeeeeeeeeeeeeeeeeeeeeeeeeeeeeeeeeddddeeeeeeeeeeeeeeeeeeeeeeeeeeeeeeedddddddddddeeeeeeeeeeeeeeeeeeeeeeeeeeeeeeeeeeddddeeeeeeeeeeeeeeeeeeeeeeeeeeeeeeedddddddddddeeeeeeeeeeeeeeeeeeeeeeeeeeeeeeeeeeddddeeeeeeeeeeeeeeeeeeeeeeeeeeeeeeedddddddddddeeeeeeeeeeeeeeeeeeeeeeeeeeeeeeeeeeddddeeeeeeeeeeeeeeeeeeeeeeeeeeeeeeedddddeeeeeeeeeeeeeeeeeeeeeeeeeeeeeeeeeeeeeeeeddddeeeeeeeeeeeeeeeeeeeeeeeeeeeeeeeeeeeeeeeeeeeeeeeeeeeeeeeeeeeeeeeeeeeeeeeeeeeeddddeeeeeeeeeeeeeeeeeeeeeeeeeeeeeeeeeeeeeeeeeeeeeeeeeeeeeeeeeeeeeeeeeeeeeeeeeeeeeeeeeeeeeeeeeeeeeeeeeeeeeeeeeeeeeeeeeeeeeeeeeeeeeeeeeeeeeeeeeeeeeeeeeeeeeeeeeeeeeeeeeeeeeeeeeeeeeeeeeeeeeeeeeeeeeeeeeeeeeeeeeeeeeeeeeeeeeeeeeeeeeeeeeeeeeeeeeeeeeeeeeeeeeeeeeeeeeeeeeeeeeeeeeeeeeeeeeeeeeeeeeeeeeeeeeeeeeeeeeeeeeeeeeeeeeeeeeeeeeeeeeeeeeeeeeeeeeeeeeeeeeeeeeeeeeeeeeeeeeeeeeeeeeeeeeeeeeeeeeeeeeeeeeeeeeeeeeeeeeeeeeeeeeeeeeeeeeeeeeeeeeeeeeeeeeeeeeeeeeeeeeeeeeeeeeeeeeeeeeeeeeeeeeeeeeeeeeeeeeeeeeeeeeeeeeeeeeeeeeeeeeeeeeeeeeeeeeeeeeeeeeeeeeeeeeeeeeeeeeeeeeeeeeeeeeeeeeeeeeeeeeeeeeeeeeeeeeeeeeeeeeeeeeeeeeeeeeeeeeeeeeeeeeeeeeeeeeeeeeeeeeeeeeeeeeeeeeeeeeeeeeeeeeeeeeeeeeeeeeeeeeeeeeeeeeeeeeeeeeeeeeeeeeeeeeeeeeeeeeeeeeeeeeeeeeeeeeeeeeeeeeeeeeeeeeeeeeeeeeeeeeeeeeeeeeeeeeeeeeeeeeeeeeeeeeeeeeeeeeeeeeeeeeeeeeeeeeeeeeeeeeeeeeeeeeeeeeeeeeeeeeeeeeeeeeeeeeeeeeeeeeeeeeeeeeeeeeeeeeeeeeeeeeeeeeeeeeeeeeeeeeeeeeeeeeeeeeeeeeeeeeeeeeeeeeeeeeeee"}};
function draw(id,o,rows,cols){var b=o.box,w=b[2]-b[0],h=b[3]-b[1],c=document.getElementById(id);
var s=4;c.width=Math.round(w*s);c.height=Math.round(h*s);var x=c.getContext("2d");x.scale(s,s);
var cw=w/cols,ch=h/rows;for(var r=0;r<rows;r++)for(var q=0;q<cols;q++){x.fillStyle=P[A.indexOf(o.d[r*cols+q])];
x.fillRect(q*cw,r*ch,cw+0.02,ch+0.02);}}
for(var k in H)draw("cv"+k,H[k],80,80);
for(var k in AB)draw("cv"+k,AB[k],AB[k].r,AB[k].c);
</script>
</body></html>
